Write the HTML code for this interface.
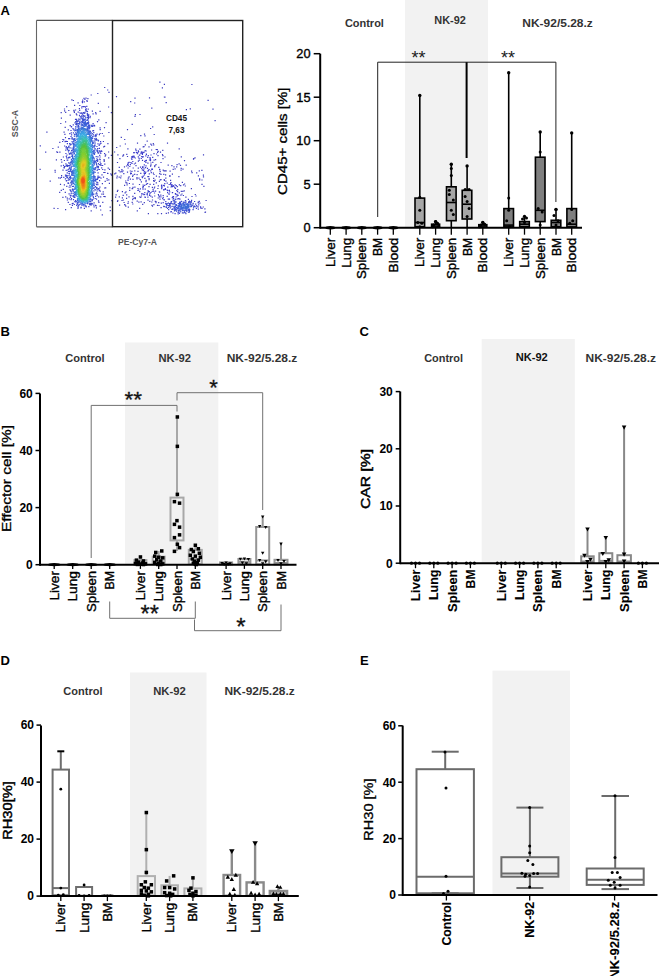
<!DOCTYPE html>
<html><head><meta charset="utf-8"><title>Figure</title>
<style>html,body{margin:0;padding:0;background:#fff;width:659px;height:976px;overflow:hidden}svg{display:block}</style>
</head><body>
<svg width="659" height="976" viewBox="0 0 659 976" font-family='"Liberation Sans", Arial, sans-serif'>
<rect width="659" height="976" fill="#fff"/>
<text x="0.5" y="14.8" font-size="13" font-weight="bold" text-anchor="start" fill="#000">A</text>
<text x="0.5" y="336" font-size="13" font-weight="bold" text-anchor="start" fill="#000">B</text>
<text x="359.5" y="336.2" font-size="13" font-weight="bold" text-anchor="start" fill="#000">C</text>
<text x="0.5" y="664.5" font-size="13" font-weight="bold" text-anchor="start" fill="#000">D</text>
<text x="360" y="665" font-size="13" font-weight="bold" text-anchor="start" fill="#000">E</text>
<path d="M147.8 213.0h1.2v1.2h-1.2zM151.2 107.5h1.2v1.2h-1.2zM97.7 102.7h1.2v1.2h-1.2zM166.9 142.5h1.2v1.2h-1.2zM97.2 92.9h1.2v1.2h-1.2zM49.6 180.5h1.2v1.2h-1.2zM178.6 148.2h1.2v1.2h-1.2zM39.5 168.8h1.2v1.2h-1.2zM46.3 131.5h1.2v1.2h-1.2zM212.4 108.6h1.2v1.2h-1.2zM148.9 97.2h1.2v1.2h-1.2zM207.5 99.8h1.2v1.2h-1.2zM214.5 120.1h1.2v1.2h-1.2zM115.9 96.1h1.2v1.2h-1.2zM202.9 154.2h1.2v1.2h-1.2zM191.3 83.9h1.2v1.2h-1.2zM45.1 151.6h1.2v1.2h-1.2zM39.7 145.3h1.2v1.2h-1.2zM126.9 129.0h1.2v1.2h-1.2zM131.6 123.7h1.2v1.2h-1.2zM153.6 133.9h1.2v1.2h-1.2zM205.5 199.9h1.2v1.2h-1.2zM65.0 209.0h1.2v1.2h-1.2zM110.8 112.0h1.2v1.2h-1.2zM108.0 106.4h1.2v1.2h-1.2zM178.3 176.0h1.2v1.2h-1.2zM190.8 188.0h1.2v1.2h-1.2zM108.3 131.9h1.2v1.2h-1.2zM136.9 142.6h1.2v1.2h-1.2zM105.5 122.1h1.2v1.2h-1.2zM101.7 214.3h1.2v1.2h-1.2zM180.7 156.3h1.2v1.2h-1.2zM55.8 159.2h1.2v1.2h-1.2zM134.4 97.5h1.2v1.2h-1.2zM127.3 148.3h1.2v1.2h-1.2zM165.6 102.0h1.2v1.2h-1.2zM139.4 113.9h1.2v1.2h-1.2zM52.3 147.9h1.2v1.2h-1.2zM90.6 94.4h1.2v1.2h-1.2zM120.7 136.7h1.2v1.2h-1.2zM161.8 87.2h1.2v1.2h-1.2zM159.3 81.5h1.2v1.2h-1.2zM124.8 143.4h1.2v1.2h-1.2zM136.7 210.2h1.2v1.2h-1.2zM60.8 117.5h1.2v1.2h-1.2zM104.1 86.9h1.2v1.2h-1.2zM185.8 109.1h1.2v1.2h-1.2zM189.7 108.2h1.2v1.2h-1.2zM60.2 122.9h1.2v1.2h-1.2zM53.5 207.7h1.2v1.2h-1.2zM109.7 210.1h1.2v1.2h-1.2zM57.3 207.9h1.2v1.2h-1.2zM65.0 121.2h1.2v1.2h-1.2zM111.3 200.1h1.2v1.2h-1.2zM124.1 138.9h1.2v1.2h-1.2zM116.9 161.9h1.2v1.2h-1.2zM109.6 206.6h1.2v1.2h-1.2zM130.1 101.1h1.2v1.2h-1.2zM134.1 102.4h1.2v1.2h-1.2zM99.5 110.7h1.2v1.2h-1.2zM163.8 83.7h1.2v1.2h-1.2zM167.6 164.6h1.2v1.2h-1.2zM185.6 164.6h1.2v1.2h-1.2zM183.9 160.1h1.2v1.2h-1.2zM139.1 207.7h1.2v1.2h-1.2zM59.9 183.7h1.2v1.2h-1.2zM114.0 151.4h1.2v1.2h-1.2zM146.6 140.6h1.2v1.2h-1.2zM69.6 114.6h1.2v1.2h-1.2zM66.1 106.0h1.2v1.2h-1.2zM57.7 146.6h1.2v1.2h-1.2zM90.6 210.3h1.2v1.2h-1.2zM152.1 126.2h1.2v1.2h-1.2zM150.0 127.9h1.2v1.2h-1.2zM107.3 143.0h1.2v1.2h-1.2zM160.4 161.9h1.2v1.2h-1.2zM157.2 213.0h1.2v1.2h-1.2zM116.1 146.9h1.2v1.2h-1.2zM119.6 145.4h1.2v1.2h-1.2zM64.6 126.7h1.2v1.2h-1.2zM103.9 127.1h1.2v1.2h-1.2zM203.3 185.8h1.2v1.2h-1.2zM201.3 169.8h1.2v1.2h-1.2zM74.0 104.8h1.2v1.2h-1.2zM119.0 204.5h1.2v1.2h-1.2zM100.1 209.4h1.2v1.2h-1.2zM60.6 112.0h1.2v1.2h-1.2zM160.9 213.0h1.2v1.2h-1.2zM162.2 149.8h1.2v1.2h-1.2zM117.3 154.3h1.2v1.2h-1.2zM103.2 135.4h1.2v1.2h-1.2zM140.2 135.0h1.2v1.2h-1.2zM102.2 201.7h1.2v1.2h-1.2zM108.0 151.4h1.2v1.2h-1.2zM119.3 158.1h1.2v1.2h-1.2zM108.4 91.7h1.2v1.2h-1.2zM98.2 119.3h1.2v1.2h-1.2zM54.5 169.7h1.2v1.2h-1.2zM54.6 171.5h1.2v1.2h-1.2zM110.8 154.8h1.2v1.2h-1.2zM191.0 170.6h1.2v1.2h-1.2zM108.1 157.2h1.2v1.2h-1.2zM191.5 172.1h1.2v1.2h-1.2zM107.1 89.4h1.2v1.2h-1.2zM62.3 196.8h1.2v1.2h-1.2zM201.4 183.7h1.2v1.2h-1.2zM118.7 166.7h1.2v1.2h-1.2zM68.2 109.9h1.2v1.2h-1.2zM144.4 135.3h1.2v1.2h-1.2zM63.5 131.5h1.2v1.2h-1.2zM96.9 121.0h1.2v1.2h-1.2zM59.1 191.7h1.2v1.2h-1.2zM194.7 193.9h1.2v1.2h-1.2zM108.8 182.8h1.2v1.2h-1.2zM195.4 195.4h1.2v1.2h-1.2zM198.7 170.3h1.2v1.2h-1.2zM191.4 195.9h1.2v1.2h-1.2zM64.7 191.7h1.2v1.2h-1.2zM134.4 115.7h1.2v1.2h-1.2zM163.8 96.4h1.2v1.2h-1.2zM143.9 133.5h1.2v1.2h-1.2zM71.3 99.3h1.2v1.2h-1.2zM134.8 114.1h1.2v1.2h-1.2zM164.3 96.5h1.2v1.2h-1.2zM202.8 174.5h1.2v1.2h-1.2zM196.1 172.3h1.2v1.2h-1.2zM151.0 149.4h1.2v1.2h-1.2zM117.2 189.7h1.2v1.2h-1.2zM72.8 99.9h1.2v1.2h-1.2zM99.5 127.3h1.2v1.2h-1.2zM181.8 181.8h1.2v1.2h-1.2zM115.0 196.6h1.2v1.2h-1.2zM105.1 187.2h1.2v1.2h-1.2zM116.8 190.7h1.2v1.2h-1.2zM197.8 175.2h1.2v1.2h-1.2zM59.2 141.8h1.2v1.2h-1.2zM64.3 133.8h1.2v1.2h-1.2zM148.4 146.2h1.2v1.2h-1.2zM132.2 203.4h1.2v1.2h-1.2zM169.5 170.5h1.2v1.2h-1.2zM115.5 194.3h1.2v1.2h-1.2zM134.1 192.8h1.2v1.2h-1.2zM59.3 151.6h1.2v1.2h-1.2zM121.8 191.0h1.2v1.2h-1.2zM165.7 212.8h1.2v1.2h-1.2zM63.9 108.4h1.2v1.2h-1.2zM95.5 113.2h1.2v1.2h-1.2zM142.1 203.8h1.2v1.2h-1.2zM91.8 110.6h1.2v1.2h-1.2zM171.8 173.5h1.2v1.2h-1.2zM77.5 102.3h1.2v1.2h-1.2zM95.1 112.0h1.2v1.2h-1.2zM162.4 158.1h1.2v1.2h-1.2zM65.1 111.8h1.2v1.2h-1.2zM132.4 183.6h1.2v1.2h-1.2zM104.1 187.4h1.2v1.2h-1.2zM127.7 206.6h1.2v1.2h-1.2zM124.0 184.8h1.2v1.2h-1.2zM62.7 188.8h1.2v1.2h-1.2zM164.4 156.4h1.2v1.2h-1.2zM126.2 153.7h1.2v1.2h-1.2zM144.7 144.3h1.2v1.2h-1.2zM60.7 189.7h1.2v1.2h-1.2zM202.9 176.3h1.2v1.2h-1.2zM182.4 168.5h1.2v1.2h-1.2zM104.0 145.7h1.2v1.2h-1.2zM56.2 151.3h1.2v1.2h-1.2zM63.8 184.2h1.2v1.2h-1.2zM101.8 183.1h1.2v1.2h-1.2zM194.4 157.2h1.2v1.2h-1.2zM143.7 202.0h1.2v1.2h-1.2zM171.3 165.0h1.2v1.2h-1.2zM180.5 169.6h1.2v1.2h-1.2zM60.7 159.0h1.2v1.2h-1.2zM128.4 196.3h1.2v1.2h-1.2zM192.9 158.6h1.2v1.2h-1.2zM126.9 155.9h1.2v1.2h-1.2zM116.9 200.9h1.2v1.2h-1.2zM108.9 168.7h1.2v1.2h-1.2zM107.6 167.6h1.2v1.2h-1.2zM118.7 196.2h1.2v1.2h-1.2zM103.1 146.2h1.2v1.2h-1.2zM104.5 196.1h1.2v1.2h-1.2zM67.7 129.2h1.2v1.2h-1.2zM104.6 180.8h1.2v1.2h-1.2zM204.9 211.4h1.2v1.2h-1.2zM204.5 211.7h1.2v1.2h-1.2zM64.0 110.2h1.2v1.2h-1.2zM138.9 183.9h1.2v1.2h-1.2zM101.7 132.9h1.2v1.2h-1.2zM57.0 151.7h1.2v1.2h-1.2zM184.0 183.4h1.2v1.2h-1.2zM70.7 207.0h1.2v1.2h-1.2zM99.6 129.1h1.2v1.2h-1.2zM201.4 179.4h1.2v1.2h-1.2zM184.7 185.4h1.2v1.2h-1.2zM102.8 140.9h1.2v1.2h-1.2zM120.1 177.2h1.2v1.2h-1.2zM117.2 200.1h1.2v1.2h-1.2zM193.1 158.1h1.2v1.2h-1.2zM199.0 178.3h1.2v1.2h-1.2zM125.4 191.3h1.2v1.2h-1.2zM62.8 156.4h1.2v1.2h-1.2zM151.9 205.5h1.2v1.2h-1.2zM170.0 179.7h1.2v1.2h-1.2zM108.2 179.3h1.2v1.2h-1.2zM138.3 201.5h1.2v1.2h-1.2zM158.2 166.7h1.2v1.2h-1.2zM185.3 196.6h1.2v1.2h-1.2zM116.3 177.3h1.2v1.2h-1.2zM126.0 197.8h1.2v1.2h-1.2zM152.7 142.9h1.2v1.2h-1.2zM104.2 163.6h1.2v1.2h-1.2zM153.1 144.3h1.2v1.2h-1.2zM58.1 177.2h1.2v1.2h-1.2zM204.3 208.2h1.2v1.2h-1.2zM140.5 201.3h1.2v1.2h-1.2zM178.5 163.3h1.2v1.2h-1.2zM155.8 175.6h1.2v1.2h-1.2zM161.9 154.1h1.2v1.2h-1.2zM99.6 205.7h1.2v1.2h-1.2zM99.7 205.2h1.2v1.2h-1.2zM199.1 179.2h1.2v1.2h-1.2zM126.1 194.3h1.2v1.2h-1.2zM126.9 171.5h1.2v1.2h-1.2zM160.5 207.1h1.2v1.2h-1.2zM92.5 113.3h1.2v1.2h-1.2zM106.4 177.9h1.2v1.2h-1.2zM122.6 194.8h1.2v1.2h-1.2zM132.4 178.7h1.2v1.2h-1.2zM169.3 175.7h1.2v1.2h-1.2zM169.3 175.0h1.2v1.2h-1.2zM98.3 201.7h1.2v1.2h-1.2zM158.7 176.3h1.2v1.2h-1.2zM162.3 155.1h1.2v1.2h-1.2zM183.6 190.2h1.2v1.2h-1.2zM157.4 155.0h1.2v1.2h-1.2zM180.6 167.8h1.2v1.2h-1.2zM167.8 212.2h1.2v1.2h-1.2zM179.9 164.7h1.2v1.2h-1.2zM129.1 189.7h1.2v1.2h-1.2zM135.4 165.1h1.2v1.2h-1.2zM153.4 153.0h1.2v1.2h-1.2zM115.2 172.6h1.2v1.2h-1.2zM60.6 165.2h1.2v1.2h-1.2zM127.7 201.3h1.2v1.2h-1.2zM142.6 146.3h1.2v1.2h-1.2zM172.6 168.7h1.2v1.2h-1.2zM123.9 166.2h1.2v1.2h-1.2zM174.5 168.3h1.2v1.2h-1.2zM61.2 161.5h1.2v1.2h-1.2zM155.0 159.1h1.2v1.2h-1.2zM105.1 154.2h1.2v1.2h-1.2zM150.2 143.6h1.2v1.2h-1.2zM155.6 148.9h1.2v1.2h-1.2zM132.6 167.4h1.2v1.2h-1.2zM131.6 201.8h1.2v1.2h-1.2zM147.4 199.5h1.2v1.2h-1.2zM124.5 192.3h1.2v1.2h-1.2zM143.4 146.1h1.2v1.2h-1.2zM180.1 185.1h1.2v1.2h-1.2zM176.5 164.0h1.2v1.2h-1.2zM165.2 177.5h1.2v1.2h-1.2zM136.6 200.5h1.2v1.2h-1.2zM137.4 170.8h1.2v1.2h-1.2zM120.5 175.4h1.2v1.2h-1.2zM127.4 202.9h1.2v1.2h-1.2zM153.4 173.9h1.2v1.2h-1.2zM106.6 179.6h1.2v1.2h-1.2zM114.1 173.3h1.2v1.2h-1.2zM178.8 184.3h1.2v1.2h-1.2zM155.4 164.1h1.2v1.2h-1.2zM156.9 204.7h1.2v1.2h-1.2zM122.2 155.5h1.2v1.2h-1.2zM165.0 174.3h1.2v1.2h-1.2zM151.4 204.8h1.2v1.2h-1.2zM134.3 186.5h1.2v1.2h-1.2zM97.9 200.3h1.2v1.2h-1.2zM122.8 154.5h1.2v1.2h-1.2zM123.0 154.3h1.2v1.2h-1.2zM136.5 174.0h1.2v1.2h-1.2zM95.8 207.3h1.2v1.2h-1.2zM124.0 204.1h1.2v1.2h-1.2zM182.9 184.3h1.2v1.2h-1.2zM129.2 187.3h1.2v1.2h-1.2zM151.1 144.6h1.2v1.2h-1.2zM67.7 201.7h1.2v1.2h-1.2zM137.7 167.6h1.2v1.2h-1.2zM176.1 166.2h1.2v1.2h-1.2zM153.1 177.8h1.2v1.2h-1.2zM154.1 195.4h1.2v1.2h-1.2zM103.3 195.9h1.2v1.2h-1.2zM59.7 177.5h1.2v1.2h-1.2zM132.3 195.8h1.2v1.2h-1.2zM121.8 197.3h1.2v1.2h-1.2zM158.4 204.9h1.2v1.2h-1.2zM100.1 196.3h1.2v1.2h-1.2zM137.8 160.5h1.2v1.2h-1.2zM104.6 155.6h1.2v1.2h-1.2zM125.2 205.5h1.2v1.2h-1.2zM173.4 166.2h1.2v1.2h-1.2zM111.4 174.3h1.2v1.2h-1.2zM102.6 191.2h1.2v1.2h-1.2zM134.2 170.2h1.2v1.2h-1.2zM149.5 183.7h1.2v1.2h-1.2zM149.2 200.8h1.2v1.2h-1.2zM156.0 153.4h1.2v1.2h-1.2zM65.1 196.2h1.2v1.2h-1.2zM123.5 201.9h1.2v1.2h-1.2zM159.9 151.6h1.2v1.2h-1.2zM87.3 98.0h1.2v1.2h-1.2zM110.9 174.5h1.2v1.2h-1.2zM123.2 173.0h1.2v1.2h-1.2zM116.6 175.5h1.2v1.2h-1.2zM198.7 200.7h1.2v1.2h-1.2zM158.8 180.8h1.2v1.2h-1.2zM182.2 190.8h1.2v1.2h-1.2zM126.5 184.3h1.2v1.2h-1.2zM110.2 173.3h1.2v1.2h-1.2zM99.5 132.9h1.2v1.2h-1.2zM182.8 194.9h1.2v1.2h-1.2zM69.6 125.1h1.2v1.2h-1.2zM148.4 186.0h1.2v1.2h-1.2zM118.6 176.6h1.2v1.2h-1.2zM107.3 172.9h1.2v1.2h-1.2zM165.5 170.3h1.2v1.2h-1.2zM102.9 176.6h1.2v1.2h-1.2zM104.0 153.1h1.2v1.2h-1.2zM118.4 170.0h1.2v1.2h-1.2zM150.4 154.4h1.2v1.2h-1.2zM155.7 182.3h1.2v1.2h-1.2zM121.4 199.9h1.2v1.2h-1.2zM140.8 181.2h1.2v1.2h-1.2zM166.6 195.7h1.2v1.2h-1.2zM79.2 104.9h1.2v1.2h-1.2zM159.0 168.8h1.2v1.2h-1.2zM63.8 159.9h1.2v1.2h-1.2zM122.8 199.4h1.2v1.2h-1.2zM62.0 140.9h1.2v1.2h-1.2zM124.6 204.4h1.2v1.2h-1.2zM107.0 172.7h1.2v1.2h-1.2zM153.1 183.7h1.2v1.2h-1.2zM152.1 156.7h1.2v1.2h-1.2zM153.5 159.6h1.2v1.2h-1.2zM159.7 179.2h1.2v1.2h-1.2zM134.9 162.6h1.2v1.2h-1.2zM78.8 108.1h1.2v1.2h-1.2zM139.3 196.2h1.2v1.2h-1.2zM136.4 178.2h1.2v1.2h-1.2zM64.0 145.4h1.2v1.2h-1.2zM101.4 174.2h1.2v1.2h-1.2zM157.7 185.3h1.2v1.2h-1.2zM160.4 173.8h1.2v1.2h-1.2zM132.4 186.8h1.2v1.2h-1.2zM163.2 173.8h1.2v1.2h-1.2zM62.4 169.5h1.2v1.2h-1.2zM160.4 179.0h1.2v1.2h-1.2zM73.3 109.7h1.2v1.2h-1.2zM103.2 171.9h1.2v1.2h-1.2zM156.7 149.1h1.2v1.2h-1.2zM157.3 187.9h1.2v1.2h-1.2zM66.8 199.4h1.2v1.2h-1.2zM135.1 148.5h1.2v1.2h-1.2zM103.5 159.0h1.2v1.2h-1.2zM202.7 206.4h1.2v1.2h-1.2zM153.0 180.1h1.2v1.2h-1.2zM64.9 137.1h1.2v1.2h-1.2zM154.3 165.0h1.2v1.2h-1.2zM132.0 188.1h1.2v1.2h-1.2zM102.9 193.6h1.2v1.2h-1.2zM104.3 169.2h1.2v1.2h-1.2zM136.4 177.1h1.2v1.2h-1.2zM60.9 176.7h1.2v1.2h-1.2zM128.8 182.9h1.2v1.2h-1.2zM139.3 148.6h1.2v1.2h-1.2zM69.3 203.9h1.2v1.2h-1.2zM151.9 199.4h1.2v1.2h-1.2zM152.8 172.6h1.2v1.2h-1.2zM121.3 168.9h1.2v1.2h-1.2zM152.2 161.7h1.2v1.2h-1.2zM127.5 167.4h1.2v1.2h-1.2zM154.5 179.6h1.2v1.2h-1.2zM158.8 191.3h1.2v1.2h-1.2zM62.3 138.9h1.2v1.2h-1.2zM73.8 111.8h1.2v1.2h-1.2zM159.1 173.0h1.2v1.2h-1.2zM131.6 188.1h1.2v1.2h-1.2zM103.6 160.8h1.2v1.2h-1.2zM154.1 166.1h1.2v1.2h-1.2zM103.6 159.9h1.2v1.2h-1.2zM75.0 109.4h1.2v1.2h-1.2zM153.3 204.0h1.2v1.2h-1.2zM148.5 179.1h1.2v1.2h-1.2zM159.1 191.5h1.2v1.2h-1.2zM159.3 169.3h1.2v1.2h-1.2zM180.7 190.7h1.2v1.2h-1.2zM83.4 97.8h1.2v1.2h-1.2zM151.7 196.6h1.2v1.2h-1.2zM104.4 171.9h1.2v1.2h-1.2zM162.6 194.9h1.2v1.2h-1.2zM151.2 201.4h1.2v1.2h-1.2zM102.1 168.9h1.2v1.2h-1.2zM128.5 176.3h1.2v1.2h-1.2zM141.9 159.7h1.2v1.2h-1.2zM133.7 163.4h1.2v1.2h-1.2zM134.1 173.8h1.2v1.2h-1.2zM98.1 196.2h1.2v1.2h-1.2zM75.7 113.3h1.2v1.2h-1.2zM158.1 202.0h1.2v1.2h-1.2zM86.2 105.8h1.2v1.2h-1.2zM61.0 175.1h1.2v1.2h-1.2zM85.4 97.5h1.2v1.2h-1.2zM101.3 193.6h1.2v1.2h-1.2zM153.6 180.7h1.2v1.2h-1.2zM138.7 159.5h1.2v1.2h-1.2zM73.5 110.5h1.2v1.2h-1.2zM164.4 170.2h1.2v1.2h-1.2zM162.6 169.5h1.2v1.2h-1.2zM129.7 170.4h1.2v1.2h-1.2zM165.3 180.5h1.2v1.2h-1.2zM66.2 185.7h1.2v1.2h-1.2zM163.8 179.8h1.2v1.2h-1.2zM163.6 179.1h1.2v1.2h-1.2zM148.7 173.3h1.2v1.2h-1.2zM148.1 176.1h1.2v1.2h-1.2zM159.6 171.0h1.2v1.2h-1.2zM86.3 100.1h1.2v1.2h-1.2zM86.6 100.7h1.2v1.2h-1.2zM132.1 199.1h1.2v1.2h-1.2zM157.6 150.8h1.2v1.2h-1.2zM127.7 177.5h1.2v1.2h-1.2zM125.1 180.4h1.2v1.2h-1.2zM119.6 171.3h1.2v1.2h-1.2zM140.2 172.7h1.2v1.2h-1.2zM148.5 177.9h1.2v1.2h-1.2zM170.4 181.9h1.2v1.2h-1.2zM125.9 165.4h1.2v1.2h-1.2zM181.4 193.4h1.2v1.2h-1.2zM199.3 202.5h1.2v1.2h-1.2zM140.2 196.9h1.2v1.2h-1.2zM129.8 178.6h1.2v1.2h-1.2zM160.7 202.6h1.2v1.2h-1.2zM139.9 166.5h1.2v1.2h-1.2zM157.0 151.8h1.2v1.2h-1.2zM145.5 150.4h1.2v1.2h-1.2zM157.8 193.9h1.2v1.2h-1.2zM132.0 175.7h1.2v1.2h-1.2zM66.7 197.6h1.2v1.2h-1.2zM125.4 182.1h1.2v1.2h-1.2zM145.5 179.8h1.2v1.2h-1.2zM151.8 186.7h1.2v1.2h-1.2zM137.4 188.1h1.2v1.2h-1.2zM150.4 164.2h1.2v1.2h-1.2zM131.3 170.8h1.2v1.2h-1.2zM150.4 162.4h1.2v1.2h-1.2zM147.3 176.1h1.2v1.2h-1.2zM137.3 189.9h1.2v1.2h-1.2zM144.3 177.8h1.2v1.2h-1.2zM154.7 200.8h1.2v1.2h-1.2zM163.4 170.2h1.2v1.2h-1.2zM155.4 201.0h1.2v1.2h-1.2zM154.1 186.4h1.2v1.2h-1.2zM180.3 194.5h1.2v1.2h-1.2zM132.6 197.8h1.2v1.2h-1.2zM133.5 152.0h1.2v1.2h-1.2zM139.9 179.4h1.2v1.2h-1.2zM155.4 202.0h1.2v1.2h-1.2zM201.4 207.7h1.2v1.2h-1.2zM139.1 191.0h1.2v1.2h-1.2zM166.6 182.5h1.2v1.2h-1.2zM95.5 205.3h1.2v1.2h-1.2zM172.0 191.9h1.2v1.2h-1.2zM122.4 170.2h1.2v1.2h-1.2zM177.2 189.1h1.2v1.2h-1.2zM71.8 204.8h1.2v1.2h-1.2zM126.4 182.6h1.2v1.2h-1.2zM157.6 197.4h1.2v1.2h-1.2zM138.4 177.6h1.2v1.2h-1.2zM134.6 197.1h1.2v1.2h-1.2zM134.1 197.6h1.2v1.2h-1.2zM167.7 198.5h1.2v1.2h-1.2zM147.3 162.6h1.2v1.2h-1.2zM140.9 195.4h1.2v1.2h-1.2zM98.8 134.1h1.2v1.2h-1.2zM197.7 201.6h1.2v1.2h-1.2zM76.2 114.2h1.2v1.2h-1.2zM150.0 165.5h1.2v1.2h-1.2zM132.5 174.5h1.2v1.2h-1.2zM134.8 198.0h1.2v1.2h-1.2z" fill="rgb(60,60,192)"/>
<path d="M69.2 133.1h1.2v1.2h-1.2zM121.5 171.2h1.2v1.2h-1.2zM79.1 109.8h1.2v1.2h-1.2zM153.9 192.4h1.2v1.2h-1.2zM130.9 157.6h1.2v1.2h-1.2zM138.1 189.5h1.2v1.2h-1.2zM100.0 141.1h1.2v1.2h-1.2zM132.2 160.9h1.2v1.2h-1.2zM174.5 213.0h1.2v1.2h-1.2zM100.3 142.7h1.2v1.2h-1.2zM135.5 149.8h1.2v1.2h-1.2zM144.6 188.5h1.2v1.2h-1.2zM162.6 196.8h1.2v1.2h-1.2zM93.5 206.2h1.2v1.2h-1.2zM81.5 105.9h1.2v1.2h-1.2zM70.7 126.0h1.2v1.2h-1.2zM121.1 170.6h1.2v1.2h-1.2zM133.3 152.1h1.2v1.2h-1.2zM139.5 178.9h1.2v1.2h-1.2zM70.4 129.9h1.2v1.2h-1.2zM143.7 164.3h1.2v1.2h-1.2zM144.1 160.7h1.2v1.2h-1.2zM77.6 111.6h1.2v1.2h-1.2zM141.9 177.1h1.2v1.2h-1.2zM171.8 192.1h1.2v1.2h-1.2zM145.4 181.0h1.2v1.2h-1.2zM128.5 161.7h1.2v1.2h-1.2zM159.4 198.6h1.2v1.2h-1.2zM127.3 179.5h1.2v1.2h-1.2zM127.6 179.6h1.2v1.2h-1.2zM62.9 164.7h1.2v1.2h-1.2zM194.0 200.9h1.2v1.2h-1.2zM200.3 207.6h1.2v1.2h-1.2zM101.1 167.2h1.2v1.2h-1.2zM167.0 192.0h1.2v1.2h-1.2zM81.9 100.9h1.2v1.2h-1.2zM84.3 98.8h1.2v1.2h-1.2zM160.2 194.6h1.2v1.2h-1.2zM168.6 193.5h1.2v1.2h-1.2zM168.3 193.2h1.2v1.2h-1.2zM141.5 176.2h1.2v1.2h-1.2zM139.8 188.2h1.2v1.2h-1.2zM130.1 173.2h1.2v1.2h-1.2zM77.7 207.3h1.2v1.2h-1.2zM77.2 207.5h1.2v1.2h-1.2zM197.7 208.6h1.2v1.2h-1.2zM63.1 139.3h1.2v1.2h-1.2zM176.7 186.1h1.2v1.2h-1.2zM145.3 161.7h1.2v1.2h-1.2zM155.0 190.6h1.2v1.2h-1.2zM168.9 198.5h1.2v1.2h-1.2zM81.2 107.2h1.2v1.2h-1.2zM130.8 172.8h1.2v1.2h-1.2zM130.0 172.5h1.2v1.2h-1.2zM68.1 138.0h1.2v1.2h-1.2zM81.7 101.2h1.2v1.2h-1.2zM81.9 102.0h1.2v1.2h-1.2zM144.6 150.0h1.2v1.2h-1.2zM162.1 198.1h1.2v1.2h-1.2zM131.4 162.7h1.2v1.2h-1.2zM82.1 99.6h1.2v1.2h-1.2zM150.2 195.5h1.2v1.2h-1.2zM147.0 182.9h1.2v1.2h-1.2zM146.5 183.1h1.2v1.2h-1.2zM169.1 191.2h1.2v1.2h-1.2zM129.2 165.9h1.2v1.2h-1.2zM200.0 206.2h1.2v1.2h-1.2zM167.2 186.5h1.2v1.2h-1.2zM71.7 203.0h1.2v1.2h-1.2zM163.4 199.0h1.2v1.2h-1.2zM163.7 199.4h1.2v1.2h-1.2zM74.9 118.8h1.2v1.2h-1.2zM101.2 150.8h1.2v1.2h-1.2zM83.7 101.2h1.2v1.2h-1.2zM142.7 175.5h1.2v1.2h-1.2zM130.3 162.0h1.2v1.2h-1.2zM153.8 187.3h1.2v1.2h-1.2zM82.9 106.0h1.2v1.2h-1.2zM168.8 189.8h1.2v1.2h-1.2zM64.5 141.0h1.2v1.2h-1.2zM176.2 190.0h1.2v1.2h-1.2zM158.2 195.0h1.2v1.2h-1.2zM84.2 105.9h1.2v1.2h-1.2zM127.6 162.2h1.2v1.2h-1.2zM131.3 158.9h1.2v1.2h-1.2zM150.7 172.0h1.2v1.2h-1.2zM145.2 160.1h1.2v1.2h-1.2zM158.8 196.3h1.2v1.2h-1.2zM138.5 157.7h1.2v1.2h-1.2zM141.0 193.3h1.2v1.2h-1.2zM144.7 196.7h1.2v1.2h-1.2zM144.3 196.4h1.2v1.2h-1.2zM99.3 186.5h1.2v1.2h-1.2zM145.4 165.3h1.2v1.2h-1.2zM100.4 177.5h1.2v1.2h-1.2zM99.5 156.4h1.2v1.2h-1.2zM147.7 155.1h1.2v1.2h-1.2zM95.9 198.5h1.2v1.2h-1.2zM134.7 157.4h1.2v1.2h-1.2zM145.8 159.8h1.2v1.2h-1.2zM142.4 188.6h1.2v1.2h-1.2zM65.3 152.9h1.2v1.2h-1.2zM168.6 183.9h1.2v1.2h-1.2zM131.3 156.0h1.2v1.2h-1.2zM99.3 143.5h1.2v1.2h-1.2zM178.7 192.3h1.2v1.2h-1.2zM97.5 172.3h1.2v1.2h-1.2zM68.6 198.2h1.2v1.2h-1.2zM137.7 156.2h1.2v1.2h-1.2zM70.7 132.3h1.2v1.2h-1.2zM167.2 190.0h1.2v1.2h-1.2zM147.3 196.5h1.2v1.2h-1.2zM66.8 140.9h1.2v1.2h-1.2zM143.9 174.3h1.2v1.2h-1.2zM145.7 183.9h1.2v1.2h-1.2zM197.7 202.3h1.2v1.2h-1.2zM192.5 209.0h1.2v1.2h-1.2zM164.2 183.1h1.2v1.2h-1.2zM87.6 108.5h1.2v1.2h-1.2zM160.3 196.3h1.2v1.2h-1.2zM68.5 193.2h1.2v1.2h-1.2zM145.2 155.2h1.2v1.2h-1.2zM175.7 185.1h1.2v1.2h-1.2zM140.7 157.7h1.2v1.2h-1.2zM65.3 140.7h1.2v1.2h-1.2zM65.6 140.7h1.2v1.2h-1.2zM99.1 154.8h1.2v1.2h-1.2zM177.0 191.0h1.2v1.2h-1.2zM166.6 189.5h1.2v1.2h-1.2zM174.5 184.2h1.2v1.2h-1.2zM94.9 204.8h1.2v1.2h-1.2zM172.3 212.4h1.2v1.2h-1.2zM142.5 184.4h1.2v1.2h-1.2zM145.8 153.9h1.2v1.2h-1.2zM145.8 153.6h1.2v1.2h-1.2zM162.6 202.1h1.2v1.2h-1.2zM65.7 155.8h1.2v1.2h-1.2zM99.7 190.6h1.2v1.2h-1.2zM129.8 164.0h1.2v1.2h-1.2zM147.1 156.8h1.2v1.2h-1.2zM170.3 211.3h1.2v1.2h-1.2zM153.2 190.8h1.2v1.2h-1.2zM144.1 184.8h1.2v1.2h-1.2zM174.2 187.1h1.2v1.2h-1.2zM174.9 187.8h1.2v1.2h-1.2zM152.5 188.7h1.2v1.2h-1.2zM163.0 189.2h1.2v1.2h-1.2zM142.3 187.1h1.2v1.2h-1.2zM80.4 207.4h1.2v1.2h-1.2zM71.0 126.3h1.2v1.2h-1.2zM127.4 163.5h1.2v1.2h-1.2zM147.4 170.6h1.2v1.2h-1.2zM149.9 160.0h1.2v1.2h-1.2zM170.0 183.1h1.2v1.2h-1.2zM135.8 151.7h1.2v1.2h-1.2zM63.2 176.7h1.2v1.2h-1.2zM70.5 199.0h1.2v1.2h-1.2zM98.6 144.7h1.2v1.2h-1.2zM141.9 166.2h1.2v1.2h-1.2zM83.8 207.8h1.2v1.2h-1.2zM127.6 165.0h1.2v1.2h-1.2zM127.0 164.0h1.2v1.2h-1.2zM88.2 206.1h1.2v1.2h-1.2zM142.1 156.5h1.2v1.2h-1.2zM146.9 167.8h1.2v1.2h-1.2zM150.2 170.2h1.2v1.2h-1.2zM72.7 124.2h1.2v1.2h-1.2zM177.5 194.8h1.2v1.2h-1.2zM142.3 193.2h1.2v1.2h-1.2zM84.8 106.6h1.2v1.2h-1.2zM149.6 157.7h1.2v1.2h-1.2zM149.4 157.0h1.2v1.2h-1.2zM132.2 155.7h1.2v1.2h-1.2zM148.9 159.4h1.2v1.2h-1.2zM177.6 213.2h1.2v1.2h-1.2zM163.4 189.2h1.2v1.2h-1.2zM66.8 143.0h1.2v1.2h-1.2zM142.6 186.0h1.2v1.2h-1.2zM142.8 185.7h1.2v1.2h-1.2zM138.0 151.0h1.2v1.2h-1.2zM137.7 150.2h1.2v1.2h-1.2zM174.9 193.6h1.2v1.2h-1.2zM174.8 193.1h1.2v1.2h-1.2zM187.8 198.7h1.2v1.2h-1.2zM141.7 169.2h1.2v1.2h-1.2zM142.3 186.4h1.2v1.2h-1.2zM72.5 202.7h1.2v1.2h-1.2zM136.7 153.0h1.2v1.2h-1.2zM147.8 169.7h1.2v1.2h-1.2zM171.7 197.0h1.2v1.2h-1.2zM149.9 158.9h1.2v1.2h-1.2zM148.5 169.0h1.2v1.2h-1.2zM133.3 155.5h1.2v1.2h-1.2zM151.8 168.9h1.2v1.2h-1.2zM151.3 168.8h1.2v1.2h-1.2zM151.8 168.4h1.2v1.2h-1.2zM151.1 168.5h1.2v1.2h-1.2zM179.3 198.5h1.2v1.2h-1.2zM145.2 171.5h1.2v1.2h-1.2zM198.1 204.2h1.2v1.2h-1.2zM160.9 185.3h1.2v1.2h-1.2zM133.7 156.6h1.2v1.2h-1.2zM65.9 180.4h1.2v1.2h-1.2zM65.7 180.1h1.2v1.2h-1.2zM152.5 189.4h1.2v1.2h-1.2zM64.8 178.3h1.2v1.2h-1.2zM144.8 172.7h1.2v1.2h-1.2zM63.4 167.0h1.2v1.2h-1.2zM63.7 167.3h1.2v1.2h-1.2zM68.6 186.5h1.2v1.2h-1.2zM132.2 157.0h1.2v1.2h-1.2zM73.7 203.9h1.2v1.2h-1.2zM168.1 209.0h1.2v1.2h-1.2zM93.0 130.1h1.2v1.2h-1.2zM176.3 193.8h1.2v1.2h-1.2zM71.0 134.3h1.2v1.2h-1.2zM170.5 186.4h1.2v1.2h-1.2zM100.2 152.8h1.2v1.2h-1.2zM161.1 184.4h1.2v1.2h-1.2zM143.6 172.3h1.2v1.2h-1.2zM143.6 172.8h1.2v1.2h-1.2zM145.0 167.1h1.2v1.2h-1.2zM141.1 167.9h1.2v1.2h-1.2zM98.8 147.8h1.2v1.2h-1.2zM66.6 159.5h1.2v1.2h-1.2zM142.0 166.9h1.2v1.2h-1.2zM96.6 195.1h1.2v1.2h-1.2zM151.6 190.9h1.2v1.2h-1.2zM100.7 150.2h1.2v1.2h-1.2zM102.0 164.9h1.2v1.2h-1.2zM93.9 124.8h1.2v1.2h-1.2zM143.2 166.4h1.2v1.2h-1.2zM143.5 151.6h1.2v1.2h-1.2zM143.4 194.1h1.2v1.2h-1.2zM144.0 193.9h1.2v1.2h-1.2zM163.3 184.8h1.2v1.2h-1.2zM176.6 195.2h1.2v1.2h-1.2zM63.8 166.1h1.2v1.2h-1.2zM96.4 133.6h1.2v1.2h-1.2zM94.0 125.3h1.2v1.2h-1.2zM171.9 186.0h1.2v1.2h-1.2zM164.9 188.8h1.2v1.2h-1.2zM70.9 198.1h1.2v1.2h-1.2zM93.2 204.6h1.2v1.2h-1.2zM142.5 156.0h1.2v1.2h-1.2zM138.8 154.5h1.2v1.2h-1.2zM137.2 152.1h1.2v1.2h-1.2zM99.1 158.5h1.2v1.2h-1.2zM162.8 184.9h1.2v1.2h-1.2zM178.3 198.1h1.2v1.2h-1.2zM78.9 114.8h1.2v1.2h-1.2zM144.2 192.1h1.2v1.2h-1.2zM70.4 135.9h1.2v1.2h-1.2zM142.8 169.8h1.2v1.2h-1.2zM79.4 112.3h1.2v1.2h-1.2zM97.3 156.3h1.2v1.2h-1.2zM99.1 176.6h1.2v1.2h-1.2zM170.3 184.1h1.2v1.2h-1.2zM98.7 190.1h1.2v1.2h-1.2zM172.7 184.9h1.2v1.2h-1.2zM173.3 185.9h1.2v1.2h-1.2zM99.0 180.1h1.2v1.2h-1.2zM143.7 170.7h1.2v1.2h-1.2zM69.1 138.1h1.2v1.2h-1.2zM172.2 196.3h1.2v1.2h-1.2zM172.9 196.1h1.2v1.2h-1.2zM65.2 149.5h1.2v1.2h-1.2zM161.1 188.0h1.2v1.2h-1.2zM164.7 188.0h1.2v1.2h-1.2zM64.9 174.5h1.2v1.2h-1.2zM163.5 188.9h1.2v1.2h-1.2zM141.1 155.9h1.2v1.2h-1.2zM66.4 154.4h1.2v1.2h-1.2zM93.5 202.2h1.2v1.2h-1.2zM69.9 196.5h1.2v1.2h-1.2zM171.5 184.3h1.2v1.2h-1.2zM92.5 123.1h1.2v1.2h-1.2zM147.5 190.1h1.2v1.2h-1.2zM150.4 191.9h1.2v1.2h-1.2zM66.0 157.2h1.2v1.2h-1.2zM97.4 143.3h1.2v1.2h-1.2zM197.2 206.3h1.2v1.2h-1.2zM197.5 206.2h1.2v1.2h-1.2zM143.4 168.3h1.2v1.2h-1.2zM170.7 211.0h1.2v1.2h-1.2zM191.0 199.7h1.2v1.2h-1.2zM171.0 185.6h1.2v1.2h-1.2zM139.3 154.4h1.2v1.2h-1.2zM163.8 185.3h1.2v1.2h-1.2zM65.7 146.1h1.2v1.2h-1.2zM195.1 203.6h1.2v1.2h-1.2zM161.2 186.7h1.2v1.2h-1.2zM161.4 186.3h1.2v1.2h-1.2zM140.7 151.5h1.2v1.2h-1.2zM141.3 151.2h1.2v1.2h-1.2zM177.2 198.3h1.2v1.2h-1.2zM195.8 207.9h1.2v1.2h-1.2zM175.4 196.4h1.2v1.2h-1.2zM148.9 194.8h1.2v1.2h-1.2zM149.0 194.2h1.2v1.2h-1.2zM65.6 169.7h1.2v1.2h-1.2zM69.7 194.8h1.2v1.2h-1.2zM163.5 206.0h1.2v1.2h-1.2zM97.2 184.1h1.2v1.2h-1.2zM99.6 159.0h1.2v1.2h-1.2zM94.6 197.9h1.2v1.2h-1.2zM165.2 201.1h1.2v1.2h-1.2zM72.9 199.1h1.2v1.2h-1.2zM65.5 147.3h1.2v1.2h-1.2zM98.9 188.4h1.2v1.2h-1.2zM98.1 188.1h1.2v1.2h-1.2zM96.6 193.4h1.2v1.2h-1.2zM89.4 117.0h1.2v1.2h-1.2zM98.8 168.9h1.2v1.2h-1.2zM67.8 182.4h1.2v1.2h-1.2zM67.3 182.5h1.2v1.2h-1.2zM146.8 194.2h1.2v1.2h-1.2zM85.1 108.7h1.2v1.2h-1.2zM85.7 108.3h1.2v1.2h-1.2zM142.5 152.1h1.2v1.2h-1.2zM80.5 112.9h1.2v1.2h-1.2zM99.2 150.5h1.2v1.2h-1.2zM72.4 128.0h1.2v1.2h-1.2zM85.6 206.3h1.2v1.2h-1.2zM97.1 148.0h1.2v1.2h-1.2zM65.3 163.3h1.2v1.2h-1.2zM99.7 151.2h1.2v1.2h-1.2zM149.4 192.8h1.2v1.2h-1.2zM140.4 152.7h1.2v1.2h-1.2zM97.2 182.2h1.2v1.2h-1.2zM89.6 115.7h1.2v1.2h-1.2zM141.8 152.8h1.2v1.2h-1.2zM67.1 159.5h1.2v1.2h-1.2zM141.8 153.7h1.2v1.2h-1.2zM69.4 189.3h1.2v1.2h-1.2zM196.1 205.1h1.2v1.2h-1.2zM100.5 164.8h1.2v1.2h-1.2zM98.1 152.2h1.2v1.2h-1.2zM100.3 163.1h1.2v1.2h-1.2zM173.0 197.8h1.2v1.2h-1.2z" fill="rgb(60,60,204)"/>
<path d="M147.9 191.2h1.2v1.2h-1.2zM147.7 191.1h1.2v1.2h-1.2zM148.2 191.2h1.2v1.2h-1.2zM148.8 191.1h1.2v1.2h-1.2zM163.3 205.9h1.2v1.2h-1.2zM164.0 205.9h1.2v1.2h-1.2zM163.2 205.7h1.2v1.2h-1.2zM146.4 193.5h1.2v1.2h-1.2zM146.8 192.5h1.2v1.2h-1.2zM92.5 124.7h1.2v1.2h-1.2zM172.5 198.5h1.2v1.2h-1.2zM76.0 118.8h1.2v1.2h-1.2zM80.5 206.7h1.2v1.2h-1.2zM86.9 110.9h1.2v1.2h-1.2zM82.9 111.9h1.2v1.2h-1.2zM68.0 151.4h1.2v1.2h-1.2zM98.5 176.9h1.2v1.2h-1.2zM85.0 109.2h1.2v1.2h-1.2zM92.1 130.3h1.2v1.2h-1.2zM81.1 112.2h1.2v1.2h-1.2zM195.4 206.3h1.2v1.2h-1.2zM77.4 205.7h1.2v1.2h-1.2zM66.0 174.7h1.2v1.2h-1.2zM97.8 140.1h1.2v1.2h-1.2zM97.8 140.3h1.2v1.2h-1.2zM96.3 145.9h1.2v1.2h-1.2zM67.5 157.6h1.2v1.2h-1.2zM175.2 198.5h1.2v1.2h-1.2zM175.1 198.9h1.2v1.2h-1.2zM92.2 125.9h1.2v1.2h-1.2zM65.1 175.6h1.2v1.2h-1.2zM67.6 150.1h1.2v1.2h-1.2zM97.9 139.7h1.2v1.2h-1.2zM99.6 161.5h1.2v1.2h-1.2zM67.9 156.9h1.2v1.2h-1.2zM170.9 201.0h1.2v1.2h-1.2zM98.5 150.2h1.2v1.2h-1.2zM66.5 148.2h1.2v1.2h-1.2zM67.0 148.8h1.2v1.2h-1.2zM185.3 213.0h1.2v1.2h-1.2zM166.9 207.8h1.2v1.2h-1.2zM65.6 165.0h1.2v1.2h-1.2zM97.6 152.6h1.2v1.2h-1.2zM97.6 188.5h1.2v1.2h-1.2zM66.8 147.3h1.2v1.2h-1.2zM97.5 175.7h1.2v1.2h-1.2zM97.5 175.4h1.2v1.2h-1.2zM76.1 204.8h1.2v1.2h-1.2zM178.9 212.8h1.2v1.2h-1.2zM96.6 190.4h1.2v1.2h-1.2zM82.7 112.6h1.2v1.2h-1.2zM93.2 132.1h1.2v1.2h-1.2zM70.4 195.1h1.2v1.2h-1.2zM192.6 202.8h1.2v1.2h-1.2zM69.0 142.9h1.2v1.2h-1.2zM85.5 110.6h1.2v1.2h-1.2zM86.0 110.2h1.2v1.2h-1.2zM85.6 110.5h1.2v1.2h-1.2zM72.8 132.2h1.2v1.2h-1.2zM188.6 211.6h1.2v1.2h-1.2zM188.2 211.7h1.2v1.2h-1.2zM66.9 169.4h1.2v1.2h-1.2zM184.5 212.1h1.2v1.2h-1.2zM192.9 207.3h1.2v1.2h-1.2zM95.2 134.3h1.2v1.2h-1.2zM95.6 134.7h1.2v1.2h-1.2zM81.8 113.6h1.2v1.2h-1.2zM65.3 165.9h1.2v1.2h-1.2zM88.2 114.2h1.2v1.2h-1.2zM96.0 184.1h1.2v1.2h-1.2zM181.8 212.2h1.2v1.2h-1.2zM67.4 146.9h1.2v1.2h-1.2zM68.0 182.8h1.2v1.2h-1.2zM194.1 205.6h1.2v1.2h-1.2zM182.2 212.3h1.2v1.2h-1.2zM182.9 212.4h1.2v1.2h-1.2zM99.9 164.2h1.2v1.2h-1.2zM99.2 164.1h1.2v1.2h-1.2zM86.7 112.7h1.2v1.2h-1.2zM169.6 207.2h1.2v1.2h-1.2zM95.5 193.2h1.2v1.2h-1.2zM95.4 193.4h1.2v1.2h-1.2zM69.4 184.7h1.2v1.2h-1.2zM99.1 163.9h1.2v1.2h-1.2zM67.0 177.1h1.2v1.2h-1.2zM66.4 177.2h1.2v1.2h-1.2zM84.3 111.7h1.2v1.2h-1.2zM97.5 168.7h1.2v1.2h-1.2zM87.0 113.6h1.2v1.2h-1.2zM68.1 145.8h1.2v1.2h-1.2zM67.3 147.1h1.2v1.2h-1.2zM193.7 206.1h1.2v1.2h-1.2zM68.8 153.0h1.2v1.2h-1.2zM70.6 193.0h1.2v1.2h-1.2zM68.5 149.7h1.2v1.2h-1.2zM174.2 199.4h1.2v1.2h-1.2zM66.6 172.4h1.2v1.2h-1.2zM66.7 172.2h1.2v1.2h-1.2zM90.7 204.2h1.2v1.2h-1.2zM90.2 204.3h1.2v1.2h-1.2zM95.0 195.8h1.2v1.2h-1.2zM95.9 192.3h1.2v1.2h-1.2zM74.4 122.3h1.2v1.2h-1.2zM67.5 179.8h1.2v1.2h-1.2zM66.3 176.3h1.2v1.2h-1.2zM84.1 112.7h1.2v1.2h-1.2zM96.0 187.5h1.2v1.2h-1.2zM96.3 187.1h1.2v1.2h-1.2zM96.7 188.5h1.2v1.2h-1.2zM68.7 153.2h1.2v1.2h-1.2zM166.5 203.0h1.2v1.2h-1.2zM91.1 124.7h1.2v1.2h-1.2zM79.6 116.1h1.2v1.2h-1.2zM68.4 146.2h1.2v1.2h-1.2zM170.4 201.5h1.2v1.2h-1.2zM165.8 206.3h1.2v1.2h-1.2zM165.6 206.7h1.2v1.2h-1.2zM165.7 206.6h1.2v1.2h-1.2zM70.8 191.2h1.2v1.2h-1.2zM66.6 175.0h1.2v1.2h-1.2zM172.7 200.3h1.2v1.2h-1.2zM97.3 176.7h1.2v1.2h-1.2zM91.9 203.3h1.2v1.2h-1.2zM193.5 205.9h1.2v1.2h-1.2zM193.6 205.5h1.2v1.2h-1.2zM193.1 205.6h1.2v1.2h-1.2zM96.2 182.2h1.2v1.2h-1.2zM66.4 164.2h1.2v1.2h-1.2zM96.6 169.8h1.2v1.2h-1.2zM97.1 159.1h1.2v1.2h-1.2zM192.3 203.5h1.2v1.2h-1.2zM68.3 156.8h1.2v1.2h-1.2zM96.3 139.1h1.2v1.2h-1.2zM96.3 139.5h1.2v1.2h-1.2zM167.8 202.6h1.2v1.2h-1.2zM180.8 200.8h1.2v1.2h-1.2zM165.8 203.8h1.2v1.2h-1.2zM165.1 203.0h1.2v1.2h-1.2zM95.6 156.1h1.2v1.2h-1.2zM71.5 137.0h1.2v1.2h-1.2zM70.0 190.4h1.2v1.2h-1.2zM96.3 158.3h1.2v1.2h-1.2zM91.2 125.9h1.2v1.2h-1.2zM91.8 125.9h1.2v1.2h-1.2zM94.9 134.3h1.2v1.2h-1.2zM94.9 134.8h1.2v1.2h-1.2zM70.0 144.2h1.2v1.2h-1.2zM69.3 144.3h1.2v1.2h-1.2zM95.1 189.4h1.2v1.2h-1.2zM89.0 204.1h1.2v1.2h-1.2zM173.5 200.1h1.2v1.2h-1.2zM74.3 201.0h1.2v1.2h-1.2zM98.5 164.1h1.2v1.2h-1.2zM82.9 114.8h1.2v1.2h-1.2zM66.5 165.1h1.2v1.2h-1.2zM67.0 165.9h1.2v1.2h-1.2zM170.4 206.1h1.2v1.2h-1.2zM69.5 147.3h1.2v1.2h-1.2zM70.1 186.4h1.2v1.2h-1.2zM97.3 177.9h1.2v1.2h-1.2zM70.1 189.8h1.2v1.2h-1.2zM73.3 128.7h1.2v1.2h-1.2zM169.2 203.0h1.2v1.2h-1.2zM169.0 202.9h1.2v1.2h-1.2zM97.7 167.0h1.2v1.2h-1.2zM167.9 206.9h1.2v1.2h-1.2zM95.3 136.1h1.2v1.2h-1.2zM87.0 114.7h1.2v1.2h-1.2zM170.5 202.7h1.2v1.2h-1.2zM170.2 202.9h1.2v1.2h-1.2zM76.7 203.7h1.2v1.2h-1.2zM78.1 118.5h1.2v1.2h-1.2zM78.5 118.5h1.2v1.2h-1.2zM96.6 181.8h1.2v1.2h-1.2zM184.8 200.1h1.2v1.2h-1.2zM96.5 149.3h1.2v1.2h-1.2zM97.0 151.3h1.2v1.2h-1.2zM85.2 205.3h1.2v1.2h-1.2zM85.4 205.8h1.2v1.2h-1.2zM171.3 208.8h1.2v1.2h-1.2zM171.7 208.8h1.2v1.2h-1.2zM95.0 186.4h1.2v1.2h-1.2zM91.1 202.8h1.2v1.2h-1.2zM73.4 129.6h1.2v1.2h-1.2zM97.1 160.0h1.2v1.2h-1.2zM97.0 160.8h1.2v1.2h-1.2zM97.0 160.7h1.2v1.2h-1.2zM173.9 210.4h1.2v1.2h-1.2zM166.5 203.3h1.2v1.2h-1.2zM185.3 200.5h1.2v1.2h-1.2zM92.9 198.4h1.2v1.2h-1.2zM81.3 115.1h1.2v1.2h-1.2zM95.7 137.9h1.2v1.2h-1.2zM96.8 150.3h1.2v1.2h-1.2zM96.2 150.4h1.2v1.2h-1.2zM188.9 200.4h1.2v1.2h-1.2zM188.3 200.9h1.2v1.2h-1.2zM190.8 201.3h1.2v1.2h-1.2zM190.5 201.1h1.2v1.2h-1.2zM69.0 153.5h1.2v1.2h-1.2zM97.8 166.1h1.2v1.2h-1.2zM71.3 138.3h1.2v1.2h-1.2zM175.4 201.2h1.2v1.2h-1.2zM75.5 121.0h1.2v1.2h-1.2zM75.1 121.1h1.2v1.2h-1.2zM67.9 170.7h1.2v1.2h-1.2zM95.0 135.2h1.2v1.2h-1.2zM86.7 114.3h1.2v1.2h-1.2zM171.8 203.3h1.2v1.2h-1.2zM169.9 204.6h1.2v1.2h-1.2zM80.9 116.4h1.2v1.2h-1.2zM168.8 205.5h1.2v1.2h-1.2zM186.2 211.0h1.2v1.2h-1.2zM177.9 211.3h1.2v1.2h-1.2zM177.5 211.8h1.2v1.2h-1.2zM175.0 201.5h1.2v1.2h-1.2zM174.1 201.3h1.2v1.2h-1.2zM67.8 164.9h1.2v1.2h-1.2zM95.5 138.1h1.2v1.2h-1.2zM95.9 139.0h1.2v1.2h-1.2zM95.1 139.0h1.2v1.2h-1.2zM95.3 139.5h1.2v1.2h-1.2zM90.3 203.0h1.2v1.2h-1.2zM76.1 120.1h1.2v1.2h-1.2zM77.0 120.8h1.2v1.2h-1.2zM76.6 120.6h1.2v1.2h-1.2zM74.9 199.9h1.2v1.2h-1.2zM87.6 115.3h1.2v1.2h-1.2zM87.7 115.3h1.2v1.2h-1.2zM87.8 115.1h1.2v1.2h-1.2zM97.8 162.9h1.2v1.2h-1.2zM167.9 205.1h1.2v1.2h-1.2zM167.8 205.1h1.2v1.2h-1.2zM67.4 165.3h1.2v1.2h-1.2zM168.9 204.3h1.2v1.2h-1.2zM166.1 204.6h1.2v1.2h-1.2zM68.1 162.3h1.2v1.2h-1.2zM75.2 201.3h1.2v1.2h-1.2zM188.9 210.2h1.2v1.2h-1.2zM69.3 157.0h1.2v1.2h-1.2zM69.3 156.5h1.2v1.2h-1.2zM167.4 204.9h1.2v1.2h-1.2zM68.4 178.7h1.2v1.2h-1.2zM68.3 178.0h1.2v1.2h-1.2zM78.1 205.0h1.2v1.2h-1.2zM78.5 204.1h1.2v1.2h-1.2zM75.9 122.5h1.2v1.2h-1.2zM189.1 209.3h1.2v1.2h-1.2zM179.5 211.3h1.2v1.2h-1.2zM174.0 202.9h1.2v1.2h-1.2zM173.5 202.4h1.2v1.2h-1.2zM94.4 189.0h1.2v1.2h-1.2zM87.8 116.5h1.2v1.2h-1.2zM87.3 118.7h1.2v1.2h-1.2zM71.0 150.1h1.2v1.2h-1.2zM179.0 201.7h1.2v1.2h-1.2zM87.8 117.7h1.2v1.2h-1.2zM87.6 117.1h1.2v1.2h-1.2zM84.3 115.3h1.2v1.2h-1.2zM84.3 115.9h1.2v1.2h-1.2zM70.2 143.6h1.2v1.2h-1.2zM70.5 143.7h1.2v1.2h-1.2zM75.3 123.9h1.2v1.2h-1.2zM75.7 123.1h1.2v1.2h-1.2zM83.4 205.3h1.2v1.2h-1.2zM94.4 141.6h1.2v1.2h-1.2zM183.9 211.6h1.2v1.2h-1.2zM94.5 143.2h1.2v1.2h-1.2zM70.4 151.8h1.2v1.2h-1.2zM174.2 202.9h1.2v1.2h-1.2zM77.9 120.3h1.2v1.2h-1.2zM81.5 116.0h1.2v1.2h-1.2zM172.3 205.7h1.2v1.2h-1.2zM96.0 160.1h1.2v1.2h-1.2zM93.4 135.6h1.2v1.2h-1.2zM191.6 205.0h1.2v1.2h-1.2zM91.3 200.3h1.2v1.2h-1.2zM80.3 117.5h1.2v1.2h-1.2zM94.0 138.2h1.2v1.2h-1.2zM73.9 133.8h1.2v1.2h-1.2zM173.2 203.5h1.2v1.2h-1.2zM189.5 201.4h1.2v1.2h-1.2zM71.5 141.0h1.2v1.2h-1.2zM68.7 167.9h1.2v1.2h-1.2zM190.4 202.2h1.2v1.2h-1.2zM76.6 202.6h1.2v1.2h-1.2zM172.5 208.2h1.2v1.2h-1.2zM172.1 208.4h1.2v1.2h-1.2zM94.3 144.9h1.2v1.2h-1.2zM88.1 122.1h1.2v1.2h-1.2zM96.9 178.7h1.2v1.2h-1.2zM96.8 178.2h1.2v1.2h-1.2zM96.7 178.7h1.2v1.2h-1.2zM68.2 168.8h1.2v1.2h-1.2zM68.9 166.6h1.2v1.2h-1.2zM89.5 203.3h1.2v1.2h-1.2zM87.9 120.5h1.2v1.2h-1.2zM96.0 164.0h1.2v1.2h-1.2zM179.5 201.6h1.2v1.2h-1.2zM175.9 210.5h1.2v1.2h-1.2zM96.4 165.4h1.2v1.2h-1.2zM70.8 153.3h1.2v1.2h-1.2zM70.1 153.1h1.2v1.2h-1.2zM68.8 164.9h1.2v1.2h-1.2zM96.4 166.6h1.2v1.2h-1.2zM96.8 166.2h1.2v1.2h-1.2zM96.4 166.5h1.2v1.2h-1.2zM90.4 202.8h1.2v1.2h-1.2zM86.8 116.8h1.2v1.2h-1.2zM173.8 209.3h1.2v1.2h-1.2zM94.2 145.6h1.2v1.2h-1.2zM79.5 119.3h1.2v1.2h-1.2zM72.3 195.5h1.2v1.2h-1.2zM72.8 195.3h1.2v1.2h-1.2zM72.9 195.4h1.2v1.2h-1.2zM92.6 134.1h1.2v1.2h-1.2zM68.4 175.0h1.2v1.2h-1.2zM92.8 196.3h1.2v1.2h-1.2zM92.9 196.9h1.2v1.2h-1.2zM71.9 188.5h1.2v1.2h-1.2zM71.9 188.8h1.2v1.2h-1.2zM71.8 189.0h1.2v1.2h-1.2zM91.7 132.9h1.2v1.2h-1.2zM83.0 116.3h1.2v1.2h-1.2zM76.7 122.6h1.2v1.2h-1.2zM94.9 185.9h1.2v1.2h-1.2zM91.8 199.5h1.2v1.2h-1.2zM73.8 135.6h1.2v1.2h-1.2zM68.8 170.8h1.2v1.2h-1.2zM89.1 124.5h1.2v1.2h-1.2zM68.8 173.4h1.2v1.2h-1.2zM69.3 179.3h1.2v1.2h-1.2zM188.1 202.0h1.2v1.2h-1.2zM188.6 201.6h1.2v1.2h-1.2zM72.0 185.9h1.2v1.2h-1.2zM72.3 138.6h1.2v1.2h-1.2zM72.8 138.4h1.2v1.2h-1.2zM70.5 182.6h1.2v1.2h-1.2zM76.4 123.2h1.2v1.2h-1.2zM182.4 201.4h1.2v1.2h-1.2zM68.7 172.8h1.2v1.2h-1.2zM68.4 172.9h1.2v1.2h-1.2zM68.7 172.7h1.2v1.2h-1.2zM73.3 196.5h1.2v1.2h-1.2zM73.9 196.8h1.2v1.2h-1.2zM78.9 121.2h1.2v1.2h-1.2zM183.2 201.5h1.2v1.2h-1.2zM75.2 126.1h1.2v1.2h-1.2zM71.7 149.5h1.2v1.2h-1.2zM190.5 206.1h1.2v1.2h-1.2zM188.0 201.9h1.2v1.2h-1.2zM76.2 124.2h1.2v1.2h-1.2z" fill="rgb(60,72,204)"/>
<path d="M78.0 122.9h1.2v1.2h-1.2zM71.5 147.6h1.2v1.2h-1.2zM69.6 167.4h1.2v1.2h-1.2zM174.6 204.3h1.2v1.2h-1.2zM88.6 203.0h1.2v1.2h-1.2zM95.3 180.6h1.2v1.2h-1.2zM184.3 201.8h1.2v1.2h-1.2zM174.4 209.9h1.2v1.2h-1.2zM93.2 193.5h1.2v1.2h-1.2zM85.2 117.1h1.2v1.2h-1.2zM85.2 117.3h1.2v1.2h-1.2zM69.8 176.3h1.2v1.2h-1.2zM69.0 176.8h1.2v1.2h-1.2zM71.0 184.3h1.2v1.2h-1.2zM94.5 171.8h1.2v1.2h-1.2zM189.4 202.6h1.2v1.2h-1.2zM86.7 119.6h1.2v1.2h-1.2zM86.7 119.9h1.2v1.2h-1.2zM93.5 140.3h1.2v1.2h-1.2zM89.0 125.2h1.2v1.2h-1.2zM91.5 199.0h1.2v1.2h-1.2zM190.6 204.3h1.2v1.2h-1.2zM178.9 202.8h1.2v1.2h-1.2zM188.1 210.0h1.2v1.2h-1.2zM173.3 206.5h1.2v1.2h-1.2zM70.0 168.8h1.2v1.2h-1.2zM95.7 163.0h1.2v1.2h-1.2zM82.4 117.6h1.2v1.2h-1.2zM82.6 117.5h1.2v1.2h-1.2zM69.6 162.3h1.2v1.2h-1.2zM69.3 162.7h1.2v1.2h-1.2zM94.2 183.4h1.2v1.2h-1.2zM77.3 123.4h1.2v1.2h-1.2zM72.0 152.3h1.2v1.2h-1.2zM69.9 175.7h1.2v1.2h-1.2zM190.8 205.8h1.2v1.2h-1.2zM79.3 121.9h1.2v1.2h-1.2zM93.3 190.2h1.2v1.2h-1.2zM94.4 152.1h1.2v1.2h-1.2zM70.3 181.8h1.2v1.2h-1.2zM70.9 181.2h1.2v1.2h-1.2zM95.7 162.3h1.2v1.2h-1.2zM173.9 207.2h1.2v1.2h-1.2zM95.0 161.2h1.2v1.2h-1.2zM69.5 164.3h1.2v1.2h-1.2zM94.3 148.6h1.2v1.2h-1.2zM94.6 148.3h1.2v1.2h-1.2zM94.4 148.1h1.2v1.2h-1.2zM94.4 148.6h1.2v1.2h-1.2z" fill="rgb(60,84,204)"/>
<path d="M74.3 130.2h1.2v1.2h-1.2zM95.3 167.4h1.2v1.2h-1.2zM81.9 118.2h1.2v1.2h-1.2zM81.8 118.6h1.2v1.2h-1.2zM81.3 118.0h1.2v1.2h-1.2zM89.3 126.5h1.2v1.2h-1.2zM175.4 204.1h1.2v1.2h-1.2zM175.8 204.2h1.2v1.2h-1.2zM175.9 204.8h1.2v1.2h-1.2zM70.9 158.7h1.2v1.2h-1.2zM175.8 209.2h1.2v1.2h-1.2zM175.0 209.4h1.2v1.2h-1.2zM175.2 209.1h1.2v1.2h-1.2zM180.2 210.6h1.2v1.2h-1.2zM174.8 205.7h1.2v1.2h-1.2zM77.6 202.2h1.2v1.2h-1.2zM92.1 136.1h1.2v1.2h-1.2zM78.7 123.6h1.2v1.2h-1.2zM77.5 124.8h1.2v1.2h-1.2zM95.8 178.8h1.2v1.2h-1.2zM89.1 127.4h1.2v1.2h-1.2zM181.9 210.0h1.2v1.2h-1.2zM177.7 203.1h1.2v1.2h-1.2zM71.7 154.3h1.2v1.2h-1.2zM87.9 123.0h1.2v1.2h-1.2zM87.3 122.2h1.2v1.2h-1.2zM79.1 122.2h1.2v1.2h-1.2zM184.0 210.6h1.2v1.2h-1.2zM93.6 187.4h1.2v1.2h-1.2zM91.0 134.6h1.2v1.2h-1.2zM72.5 192.8h1.2v1.2h-1.2zM71.2 183.5h1.2v1.2h-1.2zM90.5 132.0h1.2v1.2h-1.2zM75.1 127.5h1.2v1.2h-1.2zM94.2 150.3h1.2v1.2h-1.2zM73.2 195.6h1.2v1.2h-1.2zM180.0 202.1h1.2v1.2h-1.2zM88.2 125.0h1.2v1.2h-1.2zM93.9 144.7h1.2v1.2h-1.2zM174.6 208.5h1.2v1.2h-1.2zM189.8 203.6h1.2v1.2h-1.2zM80.5 121.3h1.2v1.2h-1.2zM84.6 204.5h1.2v1.2h-1.2zM70.8 159.4h1.2v1.2h-1.2zM81.4 204.7h1.2v1.2h-1.2zM84.5 118.5h1.2v1.2h-1.2zM90.0 200.6h1.2v1.2h-1.2zM92.0 137.7h1.2v1.2h-1.2zM174.2 206.0h1.2v1.2h-1.2zM71.8 155.8h1.2v1.2h-1.2zM71.8 155.3h1.2v1.2h-1.2zM71.2 155.8h1.2v1.2h-1.2zM93.4 186.7h1.2v1.2h-1.2zM85.5 119.8h1.2v1.2h-1.2zM70.6 166.7h1.2v1.2h-1.2zM175.6 205.1h1.2v1.2h-1.2zM72.8 190.6h1.2v1.2h-1.2zM72.3 190.2h1.2v1.2h-1.2zM83.4 118.8h1.2v1.2h-1.2zM73.6 138.7h1.2v1.2h-1.2zM73.5 138.7h1.2v1.2h-1.2zM73.9 138.9h1.2v1.2h-1.2zM93.2 146.0h1.2v1.2h-1.2zM93.5 145.1h1.2v1.2h-1.2zM174.2 207.3h1.2v1.2h-1.2zM174.3 207.7h1.2v1.2h-1.2zM174.7 207.6h1.2v1.2h-1.2zM90.3 132.5h1.2v1.2h-1.2zM177.6 209.9h1.2v1.2h-1.2zM78.0 125.1h1.2v1.2h-1.2zM87.0 121.9h1.2v1.2h-1.2zM76.7 126.4h1.2v1.2h-1.2zM70.6 168.3h1.2v1.2h-1.2zM70.3 168.9h1.2v1.2h-1.2zM70.4 168.8h1.2v1.2h-1.2zM70.1 178.0h1.2v1.2h-1.2zM72.4 189.6h1.2v1.2h-1.2zM92.1 194.2h1.2v1.2h-1.2zM70.5 177.5h1.2v1.2h-1.2zM70.3 177.2h1.2v1.2h-1.2zM82.9 204.3h1.2v1.2h-1.2zM70.0 176.9h1.2v1.2h-1.2zM188.0 209.0h1.2v1.2h-1.2zM74.4 196.6h1.2v1.2h-1.2zM88.9 125.4h1.2v1.2h-1.2zM81.5 120.7h1.2v1.2h-1.2zM87.4 123.0h1.2v1.2h-1.2zM70.6 165.8h1.2v1.2h-1.2zM178.7 203.7h1.2v1.2h-1.2zM70.5 161.0h1.2v1.2h-1.2zM79.3 203.7h1.2v1.2h-1.2zM187.2 202.9h1.2v1.2h-1.2zM94.8 160.5h1.2v1.2h-1.2zM94.2 160.9h1.2v1.2h-1.2zM93.7 146.5h1.2v1.2h-1.2zM189.3 204.1h1.2v1.2h-1.2zM82.1 119.7h1.2v1.2h-1.2zM82.8 119.0h1.2v1.2h-1.2zM76.1 200.7h1.2v1.2h-1.2zM189.0 208.7h1.2v1.2h-1.2zM188.3 208.3h1.2v1.2h-1.2zM178.2 209.9h1.2v1.2h-1.2zM178.3 209.7h1.2v1.2h-1.2zM94.9 180.1h1.2v1.2h-1.2zM94.3 180.0h1.2v1.2h-1.2zM84.6 119.1h1.2v1.2h-1.2zM189.4 206.1h1.2v1.2h-1.2zM72.4 149.2h1.2v1.2h-1.2zM73.6 194.4h1.2v1.2h-1.2zM94.1 176.1h1.2v1.2h-1.2zM94.6 176.3h1.2v1.2h-1.2zM183.0 202.3h1.2v1.2h-1.2zM182.5 203.0h1.2v1.2h-1.2zM176.0 207.4h1.2v1.2h-1.2zM176.0 207.0h1.2v1.2h-1.2zM72.9 150.8h1.2v1.2h-1.2zM72.6 151.0h1.2v1.2h-1.2zM94.1 161.9h1.2v1.2h-1.2zM70.1 169.7h1.2v1.2h-1.2zM80.5 123.5h1.2v1.2h-1.2zM88.6 126.9h1.2v1.2h-1.2zM72.9 147.9h1.2v1.2h-1.2zM73.0 185.9h1.2v1.2h-1.2zM72.8 185.8h1.2v1.2h-1.2zM176.8 208.2h1.2v1.2h-1.2zM83.5 119.7h1.2v1.2h-1.2zM83.3 119.7h1.2v1.2h-1.2zM81.6 121.9h1.2v1.2h-1.2zM81.6 121.7h1.2v1.2h-1.2zM73.0 139.3h1.2v1.2h-1.2zM73.5 139.3h1.2v1.2h-1.2zM189.4 205.6h1.2v1.2h-1.2zM92.1 141.7h1.2v1.2h-1.2zM92.1 141.5h1.2v1.2h-1.2zM93.7 184.7h1.2v1.2h-1.2zM70.2 164.3h1.2v1.2h-1.2zM94.6 168.9h1.2v1.2h-1.2zM94.5 169.0h1.2v1.2h-1.2zM179.0 209.6h1.2v1.2h-1.2zM179.2 209.4h1.2v1.2h-1.2zM70.1 161.9h1.2v1.2h-1.2zM93.9 153.8h1.2v1.2h-1.2zM93.2 153.2h1.2v1.2h-1.2zM93.8 153.9h1.2v1.2h-1.2zM89.9 130.8h1.2v1.2h-1.2zM89.9 130.7h1.2v1.2h-1.2zM89.2 130.2h1.2v1.2h-1.2zM89.9 201.0h1.2v1.2h-1.2zM184.6 202.2h1.2v1.2h-1.2zM185.4 202.3h1.2v1.2h-1.2zM72.2 142.6h1.2v1.2h-1.2zM72.8 143.0h1.2v1.2h-1.2zM72.1 142.2h1.2v1.2h-1.2zM86.0 122.7h1.2v1.2h-1.2zM88.0 124.6h1.2v1.2h-1.2zM94.4 177.8h1.2v1.2h-1.2zM71.1 181.1h1.2v1.2h-1.2zM186.1 209.7h1.2v1.2h-1.2zM186.6 209.6h1.2v1.2h-1.2zM82.4 120.7h1.2v1.2h-1.2zM86.9 203.1h1.2v1.2h-1.2zM92.5 194.0h1.2v1.2h-1.2zM73.0 146.9h1.2v1.2h-1.2zM94.7 167.0h1.2v1.2h-1.2zM88.7 127.7h1.2v1.2h-1.2zM88.1 127.5h1.2v1.2h-1.2zM92.3 142.1h1.2v1.2h-1.2zM92.5 142.2h1.2v1.2h-1.2zM92.9 142.5h1.2v1.2h-1.2zM94.6 178.9h1.2v1.2h-1.2zM77.1 201.9h1.2v1.2h-1.2zM77.5 201.5h1.2v1.2h-1.2zM93.2 157.6h1.2v1.2h-1.2zM176.1 207.4h1.2v1.2h-1.2zM91.2 136.9h1.2v1.2h-1.2zM94.5 167.7h1.2v1.2h-1.2zM75.1 129.2h1.2v1.2h-1.2zM75.3 129.8h1.2v1.2h-1.2zM77.1 126.4h1.2v1.2h-1.2zM77.3 126.2h1.2v1.2h-1.2zM177.6 205.8h1.2v1.2h-1.2zM177.4 205.3h1.2v1.2h-1.2zM93.1 183.4h1.2v1.2h-1.2zM179.1 203.4h1.2v1.2h-1.2zM179.6 204.0h1.2v1.2h-1.2zM179.7 203.0h1.2v1.2h-1.2zM84.7 120.9h1.2v1.2h-1.2zM70.5 170.8h1.2v1.2h-1.2zM70.0 170.5h1.2v1.2h-1.2zM71.0 173.5h1.2v1.2h-1.2zM93.2 152.4h1.2v1.2h-1.2zM93.8 152.9h1.2v1.2h-1.2zM93.4 152.9h1.2v1.2h-1.2zM73.9 193.7h1.2v1.2h-1.2zM73.9 193.4h1.2v1.2h-1.2zM185.5 209.1h1.2v1.2h-1.2zM185.2 209.7h1.2v1.2h-1.2zM182.4 209.6h1.2v1.2h-1.2zM72.9 145.6h1.2v1.2h-1.2zM93.1 173.2h1.2v1.2h-1.2zM73.1 140.7h1.2v1.2h-1.2zM183.6 210.0h1.2v1.2h-1.2zM88.4 128.6h1.2v1.2h-1.2zM72.7 143.7h1.2v1.2h-1.2zM88.0 125.6h1.2v1.2h-1.2zM93.1 149.8h1.2v1.2h-1.2zM82.7 121.7h1.2v1.2h-1.2zM91.4 195.4h1.2v1.2h-1.2zM89.1 131.1h1.2v1.2h-1.2zM92.1 193.0h1.2v1.2h-1.2zM92.0 192.6h1.2v1.2h-1.2zM93.8 158.4h1.2v1.2h-1.2zM71.3 180.2h1.2v1.2h-1.2zM71.6 180.5h1.2v1.2h-1.2zM93.3 151.1h1.2v1.2h-1.2zM71.0 171.2h1.2v1.2h-1.2zM70.9 171.5h1.2v1.2h-1.2zM93.4 182.2h1.2v1.2h-1.2zM177.5 206.7h1.2v1.2h-1.2zM177.1 207.8h1.2v1.2h-1.2zM178.1 208.3h1.2v1.2h-1.2zM178.2 208.2h1.2v1.2h-1.2zM90.3 198.5h1.2v1.2h-1.2zM86.5 123.2h1.2v1.2h-1.2zM80.7 203.2h1.2v1.2h-1.2zM72.2 155.5h1.2v1.2h-1.2zM93.4 171.6h1.2v1.2h-1.2zM81.1 123.3h1.2v1.2h-1.2zM81.7 123.7h1.2v1.2h-1.2zM74.1 138.1h1.2v1.2h-1.2zM87.5 126.8h1.2v1.2h-1.2zM87.3 126.4h1.2v1.2h-1.2zM180.0 203.5h1.2v1.2h-1.2zM180.2 203.5h1.2v1.2h-1.2zM180.6 203.7h1.2v1.2h-1.2zM71.3 179.9h1.2v1.2h-1.2zM78.3 126.0h1.2v1.2h-1.2z" fill="rgb(60,84,216)"/>
<path d="M76.9 199.7h1.2v1.2h-1.2zM187.1 208.2h1.2v1.2h-1.2zM92.7 187.8h1.2v1.2h-1.2zM84.9 121.2h1.2v1.2h-1.2zM84.5 121.7h1.2v1.2h-1.2zM84.9 121.2h1.2v1.2h-1.2zM84.2 121.4h1.2v1.2h-1.2zM187.7 203.7h1.2v1.2h-1.2zM89.1 132.6h1.2v1.2h-1.2zM85.4 122.4h1.2v1.2h-1.2zM178.1 205.0h1.2v1.2h-1.2zM80.9 125.2h1.2v1.2h-1.2zM80.4 125.4h1.2v1.2h-1.2zM179.5 208.0h1.2v1.2h-1.2zM179.6 208.8h1.2v1.2h-1.2zM86.1 124.1h1.2v1.2h-1.2zM93.2 175.2h1.2v1.2h-1.2zM93.3 175.0h1.2v1.2h-1.2zM93.3 175.3h1.2v1.2h-1.2zM73.8 191.8h1.2v1.2h-1.2zM93.2 170.4h1.2v1.2h-1.2zM181.7 203.3h1.2v1.2h-1.2zM71.7 159.8h1.2v1.2h-1.2zM93.2 180.6h1.2v1.2h-1.2zM93.3 180.2h1.2v1.2h-1.2zM93.8 180.1h1.2v1.2h-1.2zM73.3 141.2h1.2v1.2h-1.2zM87.3 127.6h1.2v1.2h-1.2zM178.2 207.3h1.2v1.2h-1.2zM76.9 128.7h1.2v1.2h-1.2zM76.9 128.8h1.2v1.2h-1.2zM81.6 124.4h1.2v1.2h-1.2zM81.6 124.8h1.2v1.2h-1.2zM179.3 204.8h1.2v1.2h-1.2zM75.2 132.0h1.2v1.2h-1.2zM71.7 174.8h1.2v1.2h-1.2zM71.4 174.9h1.2v1.2h-1.2zM71.2 174.2h1.2v1.2h-1.2zM71.2 174.7h1.2v1.2h-1.2zM178.3 206.1h1.2v1.2h-1.2zM93.8 160.3h1.2v1.2h-1.2zM93.1 160.5h1.2v1.2h-1.2zM93.7 160.8h1.2v1.2h-1.2zM78.0 127.9h1.2v1.2h-1.2zM188.1 206.2h1.2v1.2h-1.2zM183.0 203.3h1.2v1.2h-1.2zM72.2 156.8h1.2v1.2h-1.2zM72.1 156.7h1.2v1.2h-1.2zM86.7 125.8h1.2v1.2h-1.2zM89.7 133.3h1.2v1.2h-1.2zM74.1 139.2h1.2v1.2h-1.2zM74.5 139.9h1.2v1.2h-1.2zM93.1 179.2h1.2v1.2h-1.2zM91.2 139.5h1.2v1.2h-1.2zM186.1 203.7h1.2v1.2h-1.2zM72.2 182.6h1.2v1.2h-1.2zM72.8 182.8h1.2v1.2h-1.2zM93.6 163.2h1.2v1.2h-1.2zM93.7 176.6h1.2v1.2h-1.2zM93.2 176.5h1.2v1.2h-1.2zM180.7 208.3h1.2v1.2h-1.2zM93.6 164.3h1.2v1.2h-1.2zM184.0 203.7h1.2v1.2h-1.2zM93.7 162.3h1.2v1.2h-1.2zM93.3 162.5h1.2v1.2h-1.2zM93.2 162.9h1.2v1.2h-1.2zM88.3 130.4h1.2v1.2h-1.2zM83.6 122.1h1.2v1.2h-1.2zM93.2 178.8h1.2v1.2h-1.2zM91.4 140.1h1.2v1.2h-1.2zM82.9 123.3h1.2v1.2h-1.2zM85.6 123.6h1.2v1.2h-1.2zM81.7 203.5h1.2v1.2h-1.2zM74.4 194.3h1.2v1.2h-1.2zM75.2 133.8h1.2v1.2h-1.2zM75.8 133.4h1.2v1.2h-1.2zM75.8 133.7h1.2v1.2h-1.2zM75.7 133.1h1.2v1.2h-1.2zM93.2 177.2h1.2v1.2h-1.2zM87.3 128.9h1.2v1.2h-1.2zM71.5 170.8h1.2v1.2h-1.2zM186.6 208.4h1.2v1.2h-1.2zM184.1 203.7h1.2v1.2h-1.2zM185.5 203.3h1.2v1.2h-1.2zM73.0 148.9h1.2v1.2h-1.2zM73.8 152.8h1.2v1.2h-1.2zM73.3 152.1h1.2v1.2h-1.2zM73.2 188.9h1.2v1.2h-1.2zM73.9 188.5h1.2v1.2h-1.2zM73.6 188.6h1.2v1.2h-1.2zM73.0 150.5h1.2v1.2h-1.2zM73.5 151.2h1.2v1.2h-1.2zM73.2 151.0h1.2v1.2h-1.2zM73.2 152.0h1.2v1.2h-1.2zM181.4 208.7h1.2v1.2h-1.2zM181.6 208.1h1.2v1.2h-1.2zM71.5 160.4h1.2v1.2h-1.2zM71.6 160.9h1.2v1.2h-1.2zM92.0 141.5h1.2v1.2h-1.2zM73.4 153.6h1.2v1.2h-1.2zM73.4 147.1h1.2v1.2h-1.2zM76.0 134.3h1.2v1.2h-1.2zM75.6 134.6h1.2v1.2h-1.2zM76.0 134.6h1.2v1.2h-1.2zM179.3 205.8h1.2v1.2h-1.2zM182.7 208.2h1.2v1.2h-1.2zM182.9 208.4h1.2v1.2h-1.2zM90.3 136.5h1.2v1.2h-1.2zM92.3 155.6h1.2v1.2h-1.2zM88.6 201.4h1.2v1.2h-1.2zM76.9 129.5h1.2v1.2h-1.2zM76.6 129.0h1.2v1.2h-1.2zM76.5 129.1h1.2v1.2h-1.2zM76.4 129.7h1.2v1.2h-1.2zM183.5 208.2h1.2v1.2h-1.2zM86.6 127.3h1.2v1.2h-1.2zM71.1 172.4h1.2v1.2h-1.2zM71.8 171.1h1.2v1.2h-1.2zM71.3 171.0h1.2v1.2h-1.2zM71.0 171.0h1.2v1.2h-1.2zM184.1 208.3h1.2v1.2h-1.2zM184.8 208.2h1.2v1.2h-1.2zM78.3 127.8h1.2v1.2h-1.2zM78.0 127.2h1.2v1.2h-1.2zM78.2 127.9h1.2v1.2h-1.2zM78.5 127.4h1.2v1.2h-1.2zM78.3 201.1h1.2v1.2h-1.2zM72.1 181.2h1.2v1.2h-1.2zM179.6 206.3h1.2v1.2h-1.2zM75.7 136.1h1.2v1.2h-1.2zM82.2 124.6h1.2v1.2h-1.2zM92.1 147.1h1.2v1.2h-1.2zM92.2 147.1h1.2v1.2h-1.2zM85.6 125.3h1.2v1.2h-1.2zM92.0 142.9h1.2v1.2h-1.2zM72.0 157.7h1.2v1.2h-1.2zM72.8 158.0h1.2v1.2h-1.2zM84.5 123.3h1.2v1.2h-1.2zM84.0 123.3h1.2v1.2h-1.2zM84.4 123.1h1.2v1.2h-1.2zM83.5 123.2h1.2v1.2h-1.2zM83.9 123.2h1.2v1.2h-1.2zM88.6 131.2h1.2v1.2h-1.2zM76.9 198.2h1.2v1.2h-1.2zM75.0 140.1h1.2v1.2h-1.2zM82.9 203.9h1.2v1.2h-1.2zM82.4 203.5h1.2v1.2h-1.2zM92.3 156.6h1.2v1.2h-1.2zM92.9 156.7h1.2v1.2h-1.2zM92.2 156.5h1.2v1.2h-1.2zM92.2 156.7h1.2v1.2h-1.2zM73.2 146.5h1.2v1.2h-1.2zM87.3 129.5h1.2v1.2h-1.2zM87.0 129.6h1.2v1.2h-1.2zM87.2 129.9h1.2v1.2h-1.2zM93.5 168.8h1.2v1.2h-1.2zM93.8 168.5h1.2v1.2h-1.2zM83.7 203.5h1.2v1.2h-1.2zM71.0 161.2h1.2v1.2h-1.2zM92.7 184.3h1.2v1.2h-1.2zM92.5 184.9h1.2v1.2h-1.2zM71.4 163.2h1.2v1.2h-1.2zM71.5 163.1h1.2v1.2h-1.2zM181.0 204.8h1.2v1.2h-1.2zM181.0 207.7h1.2v1.2h-1.2zM93.1 167.8h1.2v1.2h-1.2zM77.7 128.7h1.2v1.2h-1.2zM84.8 124.7h1.2v1.2h-1.2zM84.2 124.5h1.2v1.2h-1.2zM84.1 124.2h1.2v1.2h-1.2zM84.0 124.3h1.2v1.2h-1.2zM84.4 124.6h1.2v1.2h-1.2zM71.5 162.4h1.2v1.2h-1.2zM71.3 162.4h1.2v1.2h-1.2zM86.1 128.9h1.2v1.2h-1.2zM86.2 128.5h1.2v1.2h-1.2zM86.2 128.9h1.2v1.2h-1.2zM86.8 128.0h1.2v1.2h-1.2zM76.7 130.6h1.2v1.2h-1.2zM92.8 152.6h1.2v1.2h-1.2zM89.1 199.4h1.2v1.2h-1.2zM92.6 157.1h1.2v1.2h-1.2zM73.1 143.7h1.2v1.2h-1.2zM73.5 143.6h1.2v1.2h-1.2zM73.4 143.9h1.2v1.2h-1.2zM73.2 143.2h1.2v1.2h-1.2zM91.1 193.7h1.2v1.2h-1.2zM91.7 193.1h1.2v1.2h-1.2zM72.5 180.6h1.2v1.2h-1.2zM72.2 180.9h1.2v1.2h-1.2zM74.9 193.6h1.2v1.2h-1.2zM88.8 132.5h1.2v1.2h-1.2zM88.1 132.1h1.2v1.2h-1.2zM88.3 132.5h1.2v1.2h-1.2zM82.8 125.3h1.2v1.2h-1.2zM73.4 145.2h1.2v1.2h-1.2zM73.3 145.8h1.2v1.2h-1.2zM73.6 145.4h1.2v1.2h-1.2zM73.6 145.6h1.2v1.2h-1.2zM180.6 205.5h1.2v1.2h-1.2zM181.0 206.0h1.2v1.2h-1.2zM180.9 205.4h1.2v1.2h-1.2zM182.5 204.5h1.2v1.2h-1.2z" fill="rgb(60,96,216)"/>
<path d="M84.6 125.6h1.2v1.2h-1.2zM72.2 169.8h1.2v1.2h-1.2zM72.6 169.8h1.2v1.2h-1.2zM89.9 135.3h1.2v1.2h-1.2zM89.0 135.4h1.2v1.2h-1.2zM89.8 135.8h1.2v1.2h-1.2zM75.4 138.4h1.2v1.2h-1.2zM188.0 205.3h1.2v1.2h-1.2zM187.7 205.1h1.2v1.2h-1.2zM187.9 205.2h1.2v1.2h-1.2zM187.3 205.6h1.2v1.2h-1.2zM72.5 177.3h1.2v1.2h-1.2zM72.5 177.8h1.2v1.2h-1.2zM90.9 137.3h1.2v1.2h-1.2zM187.9 206.8h1.2v1.2h-1.2zM187.4 206.2h1.2v1.2h-1.2zM187.3 206.9h1.2v1.2h-1.2zM187.6 206.5h1.2v1.2h-1.2zM187.3 206.4h1.2v1.2h-1.2zM187.7 206.5h1.2v1.2h-1.2zM186.9 204.1h1.2v1.2h-1.2zM186.6 204.0h1.2v1.2h-1.2zM186.9 204.0h1.2v1.2h-1.2zM186.4 204.1h1.2v1.2h-1.2zM186.3 204.5h1.2v1.2h-1.2zM81.2 126.9h1.2v1.2h-1.2zM180.5 206.7h1.2v1.2h-1.2zM180.2 206.9h1.2v1.2h-1.2zM181.6 207.8h1.2v1.2h-1.2zM73.4 144.3h1.2v1.2h-1.2zM183.2 204.3h1.2v1.2h-1.2zM92.3 182.8h1.2v1.2h-1.2zM92.7 151.3h1.2v1.2h-1.2zM72.8 179.2h1.2v1.2h-1.2zM87.7 130.2h1.2v1.2h-1.2zM72.3 178.0h1.2v1.2h-1.2zM72.4 178.8h1.2v1.2h-1.2zM75.4 195.0h1.2v1.2h-1.2zM76.0 195.4h1.2v1.2h-1.2zM92.2 181.3h1.2v1.2h-1.2zM92.7 181.3h1.2v1.2h-1.2zM83.3 125.4h1.2v1.2h-1.2zM83.2 125.4h1.2v1.2h-1.2zM83.7 125.8h1.2v1.2h-1.2zM92.2 158.5h1.2v1.2h-1.2zM72.8 158.2h1.2v1.2h-1.2zM92.9 180.9h1.2v1.2h-1.2zM92.0 150.7h1.2v1.2h-1.2zM92.1 150.7h1.2v1.2h-1.2zM186.2 207.2h1.2v1.2h-1.2zM186.3 207.4h1.2v1.2h-1.2zM186.4 207.7h1.2v1.2h-1.2zM72.8 174.7h1.2v1.2h-1.2zM72.4 174.3h1.2v1.2h-1.2zM76.7 131.3h1.2v1.2h-1.2zM184.4 204.5h1.2v1.2h-1.2zM184.5 204.2h1.2v1.2h-1.2zM184.0 204.5h1.2v1.2h-1.2zM184.2 204.5h1.2v1.2h-1.2zM182.3 207.3h1.2v1.2h-1.2zM182.4 207.4h1.2v1.2h-1.2zM182.7 207.3h1.2v1.2h-1.2zM182.2 207.1h1.2v1.2h-1.2zM88.1 133.7h1.2v1.2h-1.2zM88.0 133.1h1.2v1.2h-1.2zM92.8 179.8h1.2v1.2h-1.2zM92.4 179.5h1.2v1.2h-1.2zM181.0 205.9h1.2v1.2h-1.2zM181.0 205.1h1.2v1.2h-1.2zM181.4 205.3h1.2v1.2h-1.2zM74.6 142.0h1.2v1.2h-1.2zM183.3 207.0h1.2v1.2h-1.2zM91.7 144.2h1.2v1.2h-1.2zM91.7 144.9h1.2v1.2h-1.2zM92.8 173.1h1.2v1.2h-1.2zM91.7 192.9h1.2v1.2h-1.2zM91.4 192.6h1.2v1.2h-1.2zM91.2 192.5h1.2v1.2h-1.2zM92.6 178.2h1.2v1.2h-1.2zM184.5 207.3h1.2v1.2h-1.2zM80.1 127.5h1.2v1.2h-1.2zM185.6 207.2h1.2v1.2h-1.2zM185.2 207.8h1.2v1.2h-1.2zM181.1 206.6h1.2v1.2h-1.2zM78.9 128.5h1.2v1.2h-1.2zM92.2 159.9h1.2v1.2h-1.2zM82.5 126.9h1.2v1.2h-1.2zM82.2 126.7h1.2v1.2h-1.2zM82.2 126.9h1.2v1.2h-1.2zM80.3 202.5h1.2v1.2h-1.2zM83.5 126.0h1.2v1.2h-1.2zM92.4 172.3h1.2v1.2h-1.2zM92.9 172.2h1.2v1.2h-1.2zM92.9 172.2h1.2v1.2h-1.2zM72.3 173.6h1.2v1.2h-1.2zM72.2 173.1h1.2v1.2h-1.2zM90.9 138.3h1.2v1.2h-1.2zM90.9 139.0h1.2v1.2h-1.2zM91.4 190.6h1.2v1.2h-1.2zM91.1 190.0h1.2v1.2h-1.2zM77.5 129.6h1.2v1.2h-1.2zM78.0 129.6h1.2v1.2h-1.2zM84.1 128.0h1.2v1.2h-1.2zM91.1 188.6h1.2v1.2h-1.2zM91.5 188.3h1.2v1.2h-1.2zM91.9 188.3h1.2v1.2h-1.2zM74.7 192.2h1.2v1.2h-1.2zM76.8 132.4h1.2v1.2h-1.2zM72.6 165.3h1.2v1.2h-1.2zM73.0 165.3h1.2v1.2h-1.2zM72.3 165.7h1.2v1.2h-1.2zM72.5 165.2h1.2v1.2h-1.2zM91.9 192.0h1.2v1.2h-1.2zM91.5 191.5h1.2v1.2h-1.2zM92.4 175.9h1.2v1.2h-1.2zM87.7 131.4h1.2v1.2h-1.2zM87.7 131.8h1.2v1.2h-1.2zM182.6 206.7h1.2v1.2h-1.2zM92.6 176.0h1.2v1.2h-1.2zM92.7 176.2h1.2v1.2h-1.2zM92.0 176.4h1.2v1.2h-1.2zM89.0 134.1h1.2v1.2h-1.2zM186.9 205.0h1.2v1.2h-1.2zM183.2 205.2h1.2v1.2h-1.2zM183.8 205.1h1.2v1.2h-1.2zM73.7 184.0h1.2v1.2h-1.2zM72.1 172.1h1.2v1.2h-1.2zM72.0 172.5h1.2v1.2h-1.2zM72.9 172.5h1.2v1.2h-1.2zM186.2 206.2h1.2v1.2h-1.2zM92.5 171.3h1.2v1.2h-1.2zM93.0 171.6h1.2v1.2h-1.2zM72.7 171.2h1.2v1.2h-1.2zM89.8 198.2h1.2v1.2h-1.2zM89.8 198.7h1.2v1.2h-1.2zM183.3 206.3h1.2v1.2h-1.2zM91.9 145.5h1.2v1.2h-1.2zM77.5 199.7h1.2v1.2h-1.2zM89.1 136.6h1.2v1.2h-1.2zM89.7 136.7h1.2v1.2h-1.2zM184.6 205.6h1.2v1.2h-1.2zM91.2 187.6h1.2v1.2h-1.2zM92.3 161.8h1.2v1.2h-1.2zM90.7 140.6h1.2v1.2h-1.2zM90.9 140.3h1.2v1.2h-1.2zM90.2 140.9h1.2v1.2h-1.2zM185.8 205.9h1.2v1.2h-1.2zM81.9 127.9h1.2v1.2h-1.2zM92.0 164.0h1.2v1.2h-1.2zM86.8 130.0h1.2v1.2h-1.2zM92.6 162.1h1.2v1.2h-1.2zM185.1 207.0h1.2v1.2h-1.2zM185.0 206.8h1.2v1.2h-1.2z" fill="rgb(60,108,216)"/>
<path d="M92.6 164.7h1.2v1.2h-1.2zM74.8 191.7h1.2v1.2h-1.2zM74.6 191.1h1.2v1.2h-1.2zM87.5 132.1h1.2v1.2h-1.2zM87.9 132.3h1.2v1.2h-1.2zM88.8 200.8h1.2v1.2h-1.2zM85.9 129.5h1.2v1.2h-1.2zM74.1 149.9h1.2v1.2h-1.2zM74.4 148.9h1.2v1.2h-1.2zM74.1 148.6h1.2v1.2h-1.2zM77.9 130.6h1.2v1.2h-1.2zM77.5 130.7h1.2v1.2h-1.2zM90.1 141.7h1.2v1.2h-1.2zM84.7 128.2h1.2v1.2h-1.2zM84.9 128.9h1.2v1.2h-1.2zM74.3 150.7h1.2v1.2h-1.2zM74.5 150.2h1.2v1.2h-1.2zM82.9 128.0h1.2v1.2h-1.2zM79.4 201.8h1.2v1.2h-1.2zM76.7 134.4h1.2v1.2h-1.2zM87.3 201.7h1.2v1.2h-1.2zM87.2 201.7h1.2v1.2h-1.2zM75.5 194.1h1.2v1.2h-1.2zM75.3 194.0h1.2v1.2h-1.2zM91.8 146.9h1.2v1.2h-1.2zM78.7 129.5h1.2v1.2h-1.2zM78.4 129.3h1.2v1.2h-1.2zM92.6 165.2h1.2v1.2h-1.2zM78.7 200.2h1.2v1.2h-1.2zM88.7 135.4h1.2v1.2h-1.2zM91.5 186.8h1.2v1.2h-1.2zM85.4 202.5h1.2v1.2h-1.2zM85.3 202.7h1.2v1.2h-1.2zM72.1 160.5h1.2v1.2h-1.2zM76.1 136.0h1.2v1.2h-1.2zM76.8 135.1h1.2v1.2h-1.2zM76.7 135.4h1.2v1.2h-1.2zM80.3 128.6h1.2v1.2h-1.2zM80.8 128.7h1.2v1.2h-1.2zM80.8 128.1h1.2v1.2h-1.2zM80.2 128.8h1.2v1.2h-1.2zM88.0 133.5h1.2v1.2h-1.2zM87.4 133.3h1.2v1.2h-1.2zM73.6 167.7h1.2v1.2h-1.2zM86.7 131.2h1.2v1.2h-1.2zM91.2 154.3h1.2v1.2h-1.2zM91.8 154.7h1.2v1.2h-1.2zM77.5 131.9h1.2v1.2h-1.2zM77.2 131.5h1.2v1.2h-1.2zM76.4 136.1h1.2v1.2h-1.2zM76.1 136.1h1.2v1.2h-1.2zM90.4 194.7h1.2v1.2h-1.2zM92.0 169.7h1.2v1.2h-1.2zM81.4 202.2h1.2v1.2h-1.2zM81.9 202.7h1.2v1.2h-1.2zM73.5 157.7h1.2v1.2h-1.2zM89.9 137.8h1.2v1.2h-1.2zM89.3 137.3h1.2v1.2h-1.2zM89.3 137.4h1.2v1.2h-1.2zM89.3 138.0h1.2v1.2h-1.2zM89.6 137.1h1.2v1.2h-1.2zM89.4 137.7h1.2v1.2h-1.2zM85.4 130.1h1.2v1.2h-1.2zM85.4 130.4h1.2v1.2h-1.2zM85.1 130.3h1.2v1.2h-1.2zM92.2 166.6h1.2v1.2h-1.2zM74.9 154.8h1.2v1.2h-1.2zM83.8 128.6h1.2v1.2h-1.2zM83.6 128.2h1.2v1.2h-1.2zM73.2 181.6h1.2v1.2h-1.2zM91.6 156.3h1.2v1.2h-1.2zM91.4 156.0h1.2v1.2h-1.2zM91.4 156.2h1.2v1.2h-1.2zM74.1 143.4h1.2v1.2h-1.2zM91.4 153.3h1.2v1.2h-1.2zM73.9 176.1h1.2v1.2h-1.2zM73.3 175.0h1.2v1.2h-1.2zM73.1 174.8h1.2v1.2h-1.2zM72.7 161.8h1.2v1.2h-1.2zM91.9 185.0h1.2v1.2h-1.2zM91.9 185.7h1.2v1.2h-1.2zM73.4 169.1h1.2v1.2h-1.2zM91.1 180.0h1.2v1.2h-1.2zM81.4 128.7h1.2v1.2h-1.2zM81.2 128.3h1.2v1.2h-1.2zM72.2 163.5h1.2v1.2h-1.2zM91.8 180.1h1.2v1.2h-1.2zM92.7 168.1h1.2v1.2h-1.2zM92.4 168.7h1.2v1.2h-1.2zM74.9 145.5h1.2v1.2h-1.2zM73.7 177.3h1.2v1.2h-1.2zM73.6 177.2h1.2v1.2h-1.2zM77.6 133.0h1.2v1.2h-1.2zM77.5 132.3h1.2v1.2h-1.2zM78.5 130.3h1.2v1.2h-1.2zM92.5 167.7h1.2v1.2h-1.2zM92.5 168.0h1.2v1.2h-1.2zM92.4 167.8h1.2v1.2h-1.2zM90.1 143.3h1.2v1.2h-1.2zM76.4 138.8h1.2v1.2h-1.2zM75.0 187.4h1.2v1.2h-1.2zM74.3 187.3h1.2v1.2h-1.2zM74.9 187.8h1.2v1.2h-1.2zM82.8 128.7h1.2v1.2h-1.2zM82.7 128.0h1.2v1.2h-1.2zM83.0 128.4h1.2v1.2h-1.2zM74.5 144.3h1.2v1.2h-1.2zM74.6 144.5h1.2v1.2h-1.2zM91.8 157.7h1.2v1.2h-1.2zM91.9 157.5h1.2v1.2h-1.2zM72.1 162.2h1.2v1.2h-1.2zM72.0 162.2h1.2v1.2h-1.2z" fill="rgb(60,120,216)"/>
<path d="M91.4 178.1h1.2v1.2h-1.2zM73.9 180.2h1.2v1.2h-1.2zM91.9 152.3h1.2v1.2h-1.2zM91.2 148.5h1.2v1.2h-1.2zM91.7 148.6h1.2v1.2h-1.2zM91.8 148.6h1.2v1.2h-1.2zM75.8 141.3h1.2v1.2h-1.2zM84.5 202.4h1.2v1.2h-1.2zM73.2 178.2h1.2v1.2h-1.2zM73.1 178.7h1.2v1.2h-1.2zM73.3 179.5h1.2v1.2h-1.2zM91.0 185.0h1.2v1.2h-1.2zM92.0 184.1h1.2v1.2h-1.2zM74.0 170.1h1.2v1.2h-1.2zM73.2 170.7h1.2v1.2h-1.2zM73.2 170.2h1.2v1.2h-1.2zM73.8 172.3h1.2v1.2h-1.2zM73.1 172.7h1.2v1.2h-1.2zM89.1 138.9h1.2v1.2h-1.2zM89.3 138.4h1.2v1.2h-1.2zM89.7 138.2h1.2v1.2h-1.2zM89.2 138.4h1.2v1.2h-1.2zM74.2 155.7h1.2v1.2h-1.2zM75.2 193.2h1.2v1.2h-1.2zM74.7 186.6h1.2v1.2h-1.2zM91.2 182.7h1.2v1.2h-1.2zM91.2 182.2h1.2v1.2h-1.2zM91.4 158.5h1.2v1.2h-1.2zM86.0 131.4h1.2v1.2h-1.2zM91.1 149.6h1.2v1.2h-1.2zM77.5 198.5h1.2v1.2h-1.2zM77.9 198.0h1.2v1.2h-1.2zM77.2 198.6h1.2v1.2h-1.2zM77.1 198.8h1.2v1.2h-1.2zM77.5 134.0h1.2v1.2h-1.2zM78.0 133.7h1.2v1.2h-1.2zM91.2 177.2h1.2v1.2h-1.2zM73.1 158.9h1.2v1.2h-1.2zM73.1 158.6h1.2v1.2h-1.2zM83.7 202.1h1.2v1.2h-1.2zM91.4 150.7h1.2v1.2h-1.2zM83.7 129.1h1.2v1.2h-1.2zM78.2 131.1h1.2v1.2h-1.2zM78.3 131.3h1.2v1.2h-1.2zM78.1 131.5h1.2v1.2h-1.2zM89.7 196.2h1.2v1.2h-1.2zM91.0 144.2h1.2v1.2h-1.2zM88.4 199.3h1.2v1.2h-1.2zM80.0 130.1h1.2v1.2h-1.2zM86.1 133.7h1.2v1.2h-1.2zM86.1 133.5h1.2v1.2h-1.2zM86.5 133.0h1.2v1.2h-1.2zM86.8 133.8h1.2v1.2h-1.2zM91.9 159.4h1.2v1.2h-1.2zM89.9 139.4h1.2v1.2h-1.2zM89.4 139.4h1.2v1.2h-1.2zM87.4 135.9h1.2v1.2h-1.2zM75.0 185.2h1.2v1.2h-1.2zM77.9 134.2h1.2v1.2h-1.2zM77.4 134.8h1.2v1.2h-1.2zM77.9 134.4h1.2v1.2h-1.2zM77.1 134.9h1.2v1.2h-1.2zM80.6 201.2h1.2v1.2h-1.2zM80.9 201.1h1.2v1.2h-1.2zM91.1 175.9h1.2v1.2h-1.2zM91.1 175.8h1.2v1.2h-1.2zM82.3 129.4h1.2v1.2h-1.2zM82.5 129.2h1.2v1.2h-1.2zM82.4 129.5h1.2v1.2h-1.2zM82.5 129.9h1.2v1.2h-1.2zM82.7 129.1h1.2v1.2h-1.2zM82.8 129.6h1.2v1.2h-1.2zM91.3 160.9h1.2v1.2h-1.2zM89.7 140.2h1.2v1.2h-1.2zM73.9 165.5h1.2v1.2h-1.2zM73.8 165.7h1.2v1.2h-1.2zM75.3 142.4h1.2v1.2h-1.2zM87.0 201.5h1.2v1.2h-1.2zM86.9 201.2h1.2v1.2h-1.2zM78.1 132.2h1.2v1.2h-1.2zM91.1 173.7h1.2v1.2h-1.2zM91.3 173.3h1.2v1.2h-1.2zM91.5 173.1h1.2v1.2h-1.2z" fill="rgb(60,132,216)"/>
<path d="M77.0 140.5h1.2v1.2h-1.2zM90.9 145.2h1.2v1.2h-1.2zM91.0 145.9h1.2v1.2h-1.2zM90.5 145.5h1.2v1.2h-1.2zM75.0 156.4h1.2v1.2h-1.2zM74.0 156.1h1.2v1.2h-1.2zM73.1 159.5h1.2v1.2h-1.2zM73.6 159.8h1.2v1.2h-1.2zM80.6 130.6h1.2v1.2h-1.2zM91.2 161.4h1.2v1.2h-1.2zM84.7 131.8h1.2v1.2h-1.2zM84.3 131.9h1.2v1.2h-1.2zM91.9 172.3h1.2v1.2h-1.2zM77.9 135.5h1.2v1.2h-1.2zM77.4 136.0h1.2v1.2h-1.2zM79.3 131.5h1.2v1.2h-1.2zM79.5 131.5h1.2v1.2h-1.2zM79.1 131.2h1.2v1.2h-1.2zM83.5 130.3h1.2v1.2h-1.2zM83.7 130.1h1.2v1.2h-1.2zM84.0 130.6h1.2v1.2h-1.2zM88.8 137.7h1.2v1.2h-1.2zM88.5 137.2h1.2v1.2h-1.2zM89.7 141.6h1.2v1.2h-1.2zM75.3 149.0h1.2v1.2h-1.2zM76.0 150.0h1.2v1.2h-1.2zM75.4 149.9h1.2v1.2h-1.2zM90.8 189.5h1.2v1.2h-1.2zM75.4 192.6h1.2v1.2h-1.2zM76.0 192.6h1.2v1.2h-1.2zM90.8 190.1h1.2v1.2h-1.2zM90.3 191.3h1.2v1.2h-1.2zM90.2 191.7h1.2v1.2h-1.2zM91.7 163.9h1.2v1.2h-1.2zM91.8 163.4h1.2v1.2h-1.2zM75.1 150.6h1.2v1.2h-1.2zM75.3 150.9h1.2v1.2h-1.2zM91.0 188.9h1.2v1.2h-1.2z" fill="rgb(60,144,216)"/>
<path d="M91.8 164.7h1.2v1.2h-1.2zM91.3 164.2h1.2v1.2h-1.2zM91.5 164.9h1.2v1.2h-1.2zM75.3 147.7h1.2v1.2h-1.2zM91.5 171.6h1.2v1.2h-1.2zM91.3 171.9h1.2v1.2h-1.2zM91.4 171.4h1.2v1.2h-1.2zM78.0 133.2h1.2v1.2h-1.2zM87.4 200.3h1.2v1.2h-1.2zM77.7 136.0h1.2v1.2h-1.2zM89.2 195.2h1.2v1.2h-1.2zM89.4 195.1h1.2v1.2h-1.2zM89.8 195.6h1.2v1.2h-1.2zM89.9 195.4h1.2v1.2h-1.2zM75.7 151.7h1.2v1.2h-1.2zM81.8 130.7h1.2v1.2h-1.2zM81.3 130.8h1.2v1.2h-1.2zM82.2 130.9h1.2v1.2h-1.2zM82.4 130.2h1.2v1.2h-1.2zM90.3 146.1h1.2v1.2h-1.2zM90.1 146.4h1.2v1.2h-1.2zM75.6 143.9h1.2v1.2h-1.2zM85.5 133.7h1.2v1.2h-1.2zM87.5 136.7h1.2v1.2h-1.2zM79.0 132.3h1.2v1.2h-1.2zM73.1 160.7h1.2v1.2h-1.2zM91.9 165.8h1.2v1.2h-1.2zM80.9 131.3h1.2v1.2h-1.2zM74.1 175.0h1.2v1.2h-1.2zM74.3 183.3h1.2v1.2h-1.2zM74.0 183.5h1.2v1.2h-1.2zM91.3 170.8h1.2v1.2h-1.2zM77.4 137.9h1.2v1.2h-1.2zM77.6 138.0h1.2v1.2h-1.2zM84.3 132.8h1.2v1.2h-1.2zM73.9 164.5h1.2v1.2h-1.2zM73.3 164.5h1.2v1.2h-1.2zM89.0 198.6h1.2v1.2h-1.2zM88.2 198.8h1.2v1.2h-1.2zM88.5 198.7h1.2v1.2h-1.2zM77.1 197.8h1.2v1.2h-1.2zM74.7 173.4h1.2v1.2h-1.2zM74.1 173.5h1.2v1.2h-1.2zM76.9 141.0h1.2v1.2h-1.2zM75.9 153.5h1.2v1.2h-1.2zM75.7 153.9h1.2v1.2h-1.2zM75.9 191.1h1.2v1.2h-1.2zM75.3 191.1h1.2v1.2h-1.2zM75.8 192.0h1.2v1.2h-1.2zM75.9 191.3h1.2v1.2h-1.2zM90.8 179.8h1.2v1.2h-1.2zM90.2 179.7h1.2v1.2h-1.2zM90.1 179.2h1.2v1.2h-1.2zM78.3 134.3h1.2v1.2h-1.2zM90.4 155.3h1.2v1.2h-1.2zM75.0 176.3h1.2v1.2h-1.2zM74.3 176.2h1.2v1.2h-1.2zM74.3 176.2h1.2v1.2h-1.2zM74.8 158.0h1.2v1.2h-1.2zM75.4 144.4h1.2v1.2h-1.2zM75.4 144.9h1.2v1.2h-1.2zM75.9 144.7h1.2v1.2h-1.2zM88.8 138.7h1.2v1.2h-1.2zM90.9 154.8h1.2v1.2h-1.2zM90.9 154.2h1.2v1.2h-1.2zM90.4 154.2h1.2v1.2h-1.2zM91.0 154.5h1.2v1.2h-1.2z" fill="rgb(60,144,228)"/>
<path d="M74.6 168.2h1.2v1.2h-1.2zM77.2 138.8h1.2v1.2h-1.2zM77.6 138.3h1.2v1.2h-1.2zM90.1 147.8h1.2v1.2h-1.2zM90.4 147.4h1.2v1.2h-1.2zM81.1 131.9h1.2v1.2h-1.2zM81.5 131.9h1.2v1.2h-1.2zM81.9 131.9h1.2v1.2h-1.2zM81.9 132.0h1.2v1.2h-1.2zM91.8 166.3h1.2v1.2h-1.2zM91.3 167.0h1.2v1.2h-1.2zM90.6 156.5h1.2v1.2h-1.2zM76.5 194.0h1.2v1.2h-1.2zM82.6 131.1h1.2v1.2h-1.2zM83.0 131.7h1.2v1.2h-1.2zM82.0 201.7h1.2v1.2h-1.2zM81.9 201.6h1.2v1.2h-1.2zM81.9 201.6h1.2v1.2h-1.2zM73.6 161.0h1.2v1.2h-1.2zM73.9 161.4h1.2v1.2h-1.2zM79.3 133.0h1.2v1.2h-1.2zM80.0 133.9h1.2v1.2h-1.2zM89.7 143.3h1.2v1.2h-1.2zM80.6 132.8h1.2v1.2h-1.2zM80.9 132.2h1.2v1.2h-1.2zM74.9 169.2h1.2v1.2h-1.2zM74.1 169.9h1.2v1.2h-1.2zM75.6 154.2h1.2v1.2h-1.2zM75.2 154.0h1.2v1.2h-1.2zM74.5 177.6h1.2v1.2h-1.2zM86.0 201.4h1.2v1.2h-1.2zM90.4 186.5h1.2v1.2h-1.2zM90.7 186.0h1.2v1.2h-1.2zM90.9 186.3h1.2v1.2h-1.2zM90.2 186.7h1.2v1.2h-1.2zM73.9 163.5h1.2v1.2h-1.2zM73.4 163.9h1.2v1.2h-1.2zM73.6 163.6h1.2v1.2h-1.2zM74.7 171.6h1.2v1.2h-1.2zM90.8 157.1h1.2v1.2h-1.2zM90.3 157.1h1.2v1.2h-1.2zM75.7 190.5h1.2v1.2h-1.2zM91.4 167.7h1.2v1.2h-1.2zM91.9 167.8h1.2v1.2h-1.2zM91.9 167.2h1.2v1.2h-1.2zM91.3 167.2h1.2v1.2h-1.2zM83.6 132.9h1.2v1.2h-1.2zM83.8 132.8h1.2v1.2h-1.2zM83.1 132.4h1.2v1.2h-1.2zM83.2 132.4h1.2v1.2h-1.2zM84.0 132.9h1.2v1.2h-1.2zM83.9 132.9h1.2v1.2h-1.2zM83.1 132.8h1.2v1.2h-1.2zM74.5 170.6h1.2v1.2h-1.2zM74.3 170.0h1.2v1.2h-1.2zM74.3 170.8h1.2v1.2h-1.2zM73.6 162.1h1.2v1.2h-1.2zM73.6 162.0h1.2v1.2h-1.2zM77.3 139.5h1.2v1.2h-1.2zM85.7 134.9h1.2v1.2h-1.2zM85.6 135.0h1.2v1.2h-1.2zM90.9 181.1h1.2v1.2h-1.2zM84.0 133.4h1.2v1.2h-1.2zM78.3 135.5h1.2v1.2h-1.2zM78.6 135.4h1.2v1.2h-1.2zM89.5 194.3h1.2v1.2h-1.2zM90.6 148.2h1.2v1.2h-1.2zM90.2 148.6h1.2v1.2h-1.2zM74.7 178.1h1.2v1.2h-1.2zM74.7 178.3h1.2v1.2h-1.2zM81.9 132.1h1.2v1.2h-1.2zM81.8 132.9h1.2v1.2h-1.2zM74.8 181.9h1.2v1.2h-1.2zM88.5 139.3h1.2v1.2h-1.2zM90.4 152.1h1.2v1.2h-1.2zM90.1 152.3h1.2v1.2h-1.2zM90.9 152.4h1.2v1.2h-1.2zM75.9 190.0h1.2v1.2h-1.2zM90.7 177.5h1.2v1.2h-1.2zM90.3 177.0h1.2v1.2h-1.2zM82.1 132.6h1.2v1.2h-1.2zM90.6 158.1h1.2v1.2h-1.2zM74.9 166.6h1.2v1.2h-1.2zM80.3 133.8h1.2v1.2h-1.2zM80.4 133.1h1.2v1.2h-1.2zM80.1 133.3h1.2v1.2h-1.2zM87.7 137.3h1.2v1.2h-1.2zM74.0 179.5h1.2v1.2h-1.2zM76.6 142.7h1.2v1.2h-1.2zM76.5 142.3h1.2v1.2h-1.2zM76.5 142.7h1.2v1.2h-1.2zM76.2 142.4h1.2v1.2h-1.2zM74.7 180.9h1.2v1.2h-1.2zM89.0 144.8h1.2v1.2h-1.2zM89.5 144.8h1.2v1.2h-1.2zM89.2 144.5h1.2v1.2h-1.2zM89.2 144.3h1.2v1.2h-1.2zM89.1 144.7h1.2v1.2h-1.2zM89.6 144.9h1.2v1.2h-1.2zM75.3 155.3h1.2v1.2h-1.2zM90.1 185.9h1.2v1.2h-1.2zM75.2 188.7h1.2v1.2h-1.2zM75.6 188.2h1.2v1.2h-1.2zM88.8 197.1h1.2v1.2h-1.2zM88.3 197.5h1.2v1.2h-1.2zM74.6 158.9h1.2v1.2h-1.2zM74.7 158.2h1.2v1.2h-1.2zM90.3 149.7h1.2v1.2h-1.2zM90.7 149.5h1.2v1.2h-1.2zM90.7 149.9h1.2v1.2h-1.2zM90.3 149.9h1.2v1.2h-1.2zM91.0 149.0h1.2v1.2h-1.2zM90.8 151.4h1.2v1.2h-1.2zM90.3 151.6h1.2v1.2h-1.2zM90.4 182.2h1.2v1.2h-1.2zM90.9 182.7h1.2v1.2h-1.2zM90.3 182.6h1.2v1.2h-1.2zM90.3 183.0h1.2v1.2h-1.2zM77.6 140.3h1.2v1.2h-1.2zM77.6 140.9h1.2v1.2h-1.2z" fill="rgb(60,156,228)"/>
<path d="M82.4 201.4h1.2v1.2h-1.2zM82.3 201.3h1.2v1.2h-1.2zM90.4 150.4h1.2v1.2h-1.2zM88.7 140.7h1.2v1.2h-1.2zM88.8 140.1h1.2v1.2h-1.2zM88.8 140.4h1.2v1.2h-1.2zM83.9 133.0h1.2v1.2h-1.2zM90.8 159.6h1.2v1.2h-1.2zM90.8 159.4h1.2v1.2h-1.2zM90.0 159.3h1.2v1.2h-1.2zM90.4 159.8h1.2v1.2h-1.2zM78.3 136.2h1.2v1.2h-1.2zM78.3 136.6h1.2v1.2h-1.2zM78.2 136.2h1.2v1.2h-1.2zM81.4 133.3h1.2v1.2h-1.2zM81.1 133.1h1.2v1.2h-1.2zM84.1 201.7h1.2v1.2h-1.2zM84.9 201.2h1.2v1.2h-1.2zM76.0 187.5h1.2v1.2h-1.2zM90.2 176.1h1.2v1.2h-1.2zM90.4 176.6h1.2v1.2h-1.2zM77.6 196.2h1.2v1.2h-1.2zM77.1 196.0h1.2v1.2h-1.2zM86.0 136.8h1.2v1.2h-1.2zM90.7 183.5h1.2v1.2h-1.2zM90.0 183.5h1.2v1.2h-1.2zM90.9 183.9h1.2v1.2h-1.2zM90.3 183.2h1.2v1.2h-1.2zM82.9 133.1h1.2v1.2h-1.2zM80.3 200.8h1.2v1.2h-1.2zM80.5 200.3h1.2v1.2h-1.2zM80.0 134.5h1.2v1.2h-1.2zM83.9 201.8h1.2v1.2h-1.2zM83.2 201.6h1.2v1.2h-1.2zM83.4 201.6h1.2v1.2h-1.2zM83.9 201.9h1.2v1.2h-1.2zM83.2 201.2h1.2v1.2h-1.2zM83.5 201.6h1.2v1.2h-1.2zM78.6 198.5h1.2v1.2h-1.2zM78.9 198.7h1.2v1.2h-1.2zM76.5 193.2h1.2v1.2h-1.2zM84.9 134.5h1.2v1.2h-1.2zM85.0 134.7h1.2v1.2h-1.2zM84.1 134.8h1.2v1.2h-1.2zM84.4 134.4h1.2v1.2h-1.2zM84.3 134.8h1.2v1.2h-1.2zM85.0 134.9h1.2v1.2h-1.2zM84.3 134.1h1.2v1.2h-1.2zM84.7 134.3h1.2v1.2h-1.2zM85.9 135.5h1.2v1.2h-1.2zM85.3 135.7h1.2v1.2h-1.2zM85.6 135.3h1.2v1.2h-1.2zM89.8 145.2h1.2v1.2h-1.2zM90.9 160.1h1.2v1.2h-1.2zM91.0 160.8h1.2v1.2h-1.2zM90.1 160.7h1.2v1.2h-1.2zM90.5 160.5h1.2v1.2h-1.2zM89.9 193.7h1.2v1.2h-1.2zM89.4 193.5h1.2v1.2h-1.2zM79.5 135.4h1.2v1.2h-1.2zM79.9 135.7h1.2v1.2h-1.2zM79.4 136.0h1.2v1.2h-1.2zM88.2 141.7h1.2v1.2h-1.2zM88.5 141.8h1.2v1.2h-1.2zM76.8 143.6h1.2v1.2h-1.2zM76.6 143.7h1.2v1.2h-1.2zM76.8 143.1h1.2v1.2h-1.2zM76.5 148.9h1.2v1.2h-1.2zM76.1 148.6h1.2v1.2h-1.2zM76.1 149.8h1.2v1.2h-1.2zM76.5 149.5h1.2v1.2h-1.2zM76.7 149.6h1.2v1.2h-1.2zM90.4 175.7h1.2v1.2h-1.2zM90.8 175.9h1.2v1.2h-1.2zM90.3 175.1h1.2v1.2h-1.2zM90.2 175.0h1.2v1.2h-1.2zM78.7 137.5h1.2v1.2h-1.2zM78.7 137.6h1.2v1.2h-1.2zM86.5 200.5h1.2v1.2h-1.2zM87.0 200.5h1.2v1.2h-1.2zM86.5 200.1h1.2v1.2h-1.2zM86.5 200.4h1.2v1.2h-1.2zM86.6 200.5h1.2v1.2h-1.2zM74.4 159.3h1.2v1.2h-1.2zM74.1 159.5h1.2v1.2h-1.2zM74.3 165.8h1.2v1.2h-1.2zM74.7 165.6h1.2v1.2h-1.2zM75.8 157.0h1.2v1.2h-1.2zM77.3 141.5h1.2v1.2h-1.2zM77.4 141.6h1.2v1.2h-1.2zM77.1 141.3h1.2v1.2h-1.2zM78.0 141.1h1.2v1.2h-1.2zM76.7 147.1h1.2v1.2h-1.2zM76.5 147.3h1.2v1.2h-1.2zM76.6 147.1h1.2v1.2h-1.2zM76.6 147.1h1.2v1.2h-1.2zM77.0 150.6h1.2v1.2h-1.2zM81.5 134.9h1.2v1.2h-1.2zM81.2 134.3h1.2v1.2h-1.2zM81.5 134.9h1.2v1.2h-1.2zM81.9 134.5h1.2v1.2h-1.2zM90.0 174.5h1.2v1.2h-1.2zM87.7 138.7h1.2v1.2h-1.2zM90.4 161.1h1.2v1.2h-1.2zM79.8 199.8h1.2v1.2h-1.2zM79.9 199.4h1.2v1.2h-1.2zM79.4 199.3h1.2v1.2h-1.2zM79.2 199.9h1.2v1.2h-1.2zM88.0 196.8h1.2v1.2h-1.2zM76.5 146.1h1.2v1.2h-1.2zM76.9 146.9h1.2v1.2h-1.2zM76.4 146.5h1.2v1.2h-1.2zM76.9 146.3h1.2v1.2h-1.2zM78.7 138.1h1.2v1.2h-1.2zM79.0 138.1h1.2v1.2h-1.2zM78.6 138.7h1.2v1.2h-1.2zM76.0 144.3h1.2v1.2h-1.2zM76.1 144.3h1.2v1.2h-1.2zM82.9 134.2h1.2v1.2h-1.2z" fill="rgb(60,168,228)"/>
<path d="M89.0 142.9h1.2v1.2h-1.2zM88.1 142.6h1.2v1.2h-1.2zM90.7 162.4h1.2v1.2h-1.2zM90.5 162.7h1.2v1.2h-1.2zM90.4 162.9h1.2v1.2h-1.2zM90.6 162.0h1.2v1.2h-1.2zM90.0 162.7h1.2v1.2h-1.2zM76.2 145.5h1.2v1.2h-1.2zM76.8 145.5h1.2v1.2h-1.2zM76.2 145.9h1.2v1.2h-1.2zM76.1 145.3h1.2v1.2h-1.2zM76.6 151.7h1.2v1.2h-1.2zM76.8 151.0h1.2v1.2h-1.2zM75.8 185.8h1.2v1.2h-1.2zM75.4 185.7h1.2v1.2h-1.2zM75.6 185.6h1.2v1.2h-1.2zM75.6 186.0h1.2v1.2h-1.2zM75.8 185.3h1.2v1.2h-1.2zM89.4 192.4h1.2v1.2h-1.2zM89.3 192.4h1.2v1.2h-1.2zM89.7 192.8h1.2v1.2h-1.2zM80.3 135.0h1.2v1.2h-1.2zM80.3 135.5h1.2v1.2h-1.2z" fill="rgb(60,180,228)"/>
<path d="M74.0 160.9h1.2v1.2h-1.2zM74.9 160.4h1.2v1.2h-1.2zM74.6 160.9h1.2v1.2h-1.2zM75.8 174.6h1.2v1.2h-1.2zM78.6 140.0h1.2v1.2h-1.2zM78.4 139.5h1.2v1.2h-1.2zM79.1 137.0h1.2v1.2h-1.2zM79.8 136.4h1.2v1.2h-1.2zM75.3 173.4h1.2v1.2h-1.2zM75.5 173.6h1.2v1.2h-1.2zM89.7 190.6h1.2v1.2h-1.2zM89.2 190.1h1.2v1.2h-1.2zM89.2 190.0h1.2v1.2h-1.2zM89.2 191.3h1.2v1.2h-1.2zM89.2 191.9h1.2v1.2h-1.2zM90.9 171.8h1.2v1.2h-1.2zM90.2 171.3h1.2v1.2h-1.2zM75.8 175.7h1.2v1.2h-1.2zM76.0 175.5h1.2v1.2h-1.2zM76.0 176.0h1.2v1.2h-1.2zM75.0 175.8h1.2v1.2h-1.2zM75.2 175.1h1.2v1.2h-1.2zM76.7 152.3h1.2v1.2h-1.2zM77.0 152.1h1.2v1.2h-1.2zM76.1 152.3h1.2v1.2h-1.2zM76.8 152.1h1.2v1.2h-1.2zM76.4 152.1h1.2v1.2h-1.2zM76.2 152.4h1.2v1.2h-1.2zM86.7 138.0h1.2v1.2h-1.2zM86.2 137.9h1.2v1.2h-1.2zM84.3 135.6h1.2v1.2h-1.2zM77.7 142.5h1.2v1.2h-1.2zM77.8 142.3h1.2v1.2h-1.2zM74.2 164.5h1.2v1.2h-1.2zM75.0 164.2h1.2v1.2h-1.2zM74.0 165.0h1.2v1.2h-1.2zM74.3 164.4h1.2v1.2h-1.2zM75.0 173.0h1.2v1.2h-1.2zM75.1 157.2h1.2v1.2h-1.2zM76.0 158.0h1.2v1.2h-1.2zM75.7 157.5h1.2v1.2h-1.2zM75.2 157.4h1.2v1.2h-1.2zM75.3 157.0h1.2v1.2h-1.2zM90.3 170.8h1.2v1.2h-1.2zM90.5 170.6h1.2v1.2h-1.2zM78.7 140.9h1.2v1.2h-1.2zM78.4 140.6h1.2v1.2h-1.2zM78.7 140.7h1.2v1.2h-1.2zM78.5 140.1h1.2v1.2h-1.2zM85.8 136.7h1.2v1.2h-1.2zM85.7 136.5h1.2v1.2h-1.2zM85.6 136.3h1.2v1.2h-1.2zM89.2 188.7h1.2v1.2h-1.2zM88.4 143.6h1.2v1.2h-1.2zM88.1 143.4h1.2v1.2h-1.2zM89.3 147.6h1.2v1.2h-1.2zM89.0 148.0h1.2v1.2h-1.2zM89.4 147.8h1.2v1.2h-1.2zM87.9 139.1h1.2v1.2h-1.2zM76.1 153.9h1.2v1.2h-1.2zM76.9 153.4h1.2v1.2h-1.2zM76.5 153.5h1.2v1.2h-1.2zM74.2 161.4h1.2v1.2h-1.2zM74.3 161.9h1.2v1.2h-1.2zM75.0 161.2h1.2v1.2h-1.2zM75.1 184.6h1.2v1.2h-1.2zM75.1 184.2h1.2v1.2h-1.2zM75.9 184.1h1.2v1.2h-1.2zM75.3 184.8h1.2v1.2h-1.2zM90.5 166.5h1.2v1.2h-1.2zM90.7 166.6h1.2v1.2h-1.2zM90.7 166.1h1.2v1.2h-1.2zM90.0 166.4h1.2v1.2h-1.2zM82.1 135.1h1.2v1.2h-1.2zM82.8 135.7h1.2v1.2h-1.2zM82.6 135.6h1.2v1.2h-1.2zM82.7 135.8h1.2v1.2h-1.2zM91.0 169.4h1.2v1.2h-1.2zM90.1 169.9h1.2v1.2h-1.2zM90.4 169.5h1.2v1.2h-1.2zM83.1 135.7h1.2v1.2h-1.2zM79.3 137.3h1.2v1.2h-1.2zM79.0 137.1h1.2v1.2h-1.2zM79.1 137.4h1.2v1.2h-1.2zM81.7 200.6h1.2v1.2h-1.2zM81.5 200.1h1.2v1.2h-1.2zM81.3 200.1h1.2v1.2h-1.2zM81.7 200.3h1.2v1.2h-1.2zM75.3 172.0h1.2v1.2h-1.2zM75.8 171.1h1.2v1.2h-1.2zM75.8 171.9h1.2v1.2h-1.2zM90.0 155.6h1.2v1.2h-1.2zM88.2 195.3h1.2v1.2h-1.2zM88.7 195.3h1.2v1.2h-1.2zM80.0 136.9h1.2v1.2h-1.2zM80.1 136.5h1.2v1.2h-1.2zM80.6 136.0h1.2v1.2h-1.2zM80.7 136.0h1.2v1.2h-1.2zM74.3 163.7h1.2v1.2h-1.2zM89.8 180.3h1.2v1.2h-1.2zM89.0 154.3h1.2v1.2h-1.2zM90.8 167.3h1.2v1.2h-1.2zM90.5 167.4h1.2v1.2h-1.2zM90.9 167.7h1.2v1.2h-1.2zM74.7 162.0h1.2v1.2h-1.2zM91.0 168.3h1.2v1.2h-1.2zM90.3 168.3h1.2v1.2h-1.2zM90.2 169.0h1.2v1.2h-1.2zM90.6 169.0h1.2v1.2h-1.2zM76.2 154.6h1.2v1.2h-1.2zM89.4 178.7h1.2v1.2h-1.2zM89.8 178.9h1.2v1.2h-1.2zM89.2 178.1h1.2v1.2h-1.2zM75.5 170.6h1.2v1.2h-1.2zM75.7 170.9h1.2v1.2h-1.2zM75.4 170.0h1.2v1.2h-1.2zM77.0 143.6h1.2v1.2h-1.2zM77.7 143.1h1.2v1.2h-1.2zM77.5 143.0h1.2v1.2h-1.2zM77.2 143.3h1.2v1.2h-1.2zM75.3 168.9h1.2v1.2h-1.2zM89.3 187.3h1.2v1.2h-1.2zM89.8 187.7h1.2v1.2h-1.2zM78.7 141.5h1.2v1.2h-1.2zM78.9 141.5h1.2v1.2h-1.2zM78.6 141.8h1.2v1.2h-1.2z" fill="rgb(60,180,216)"/>
<path d="M75.0 177.8h1.2v1.2h-1.2zM75.1 177.5h1.2v1.2h-1.2zM85.8 200.6h1.2v1.2h-1.2zM85.9 200.9h1.2v1.2h-1.2zM85.9 200.6h1.2v1.2h-1.2zM75.2 169.9h1.2v1.2h-1.2zM75.1 169.1h1.2v1.2h-1.2zM75.0 169.5h1.2v1.2h-1.2zM75.7 169.2h1.2v1.2h-1.2zM75.2 169.4h1.2v1.2h-1.2zM89.8 148.0h1.2v1.2h-1.2zM89.9 157.4h1.2v1.2h-1.2zM89.3 157.4h1.2v1.2h-1.2zM89.6 157.0h1.2v1.2h-1.2zM89.9 157.7h1.2v1.2h-1.2zM88.5 144.9h1.2v1.2h-1.2zM88.7 144.1h1.2v1.2h-1.2zM88.6 144.3h1.2v1.2h-1.2zM88.6 144.4h1.2v1.2h-1.2zM79.2 138.5h1.2v1.2h-1.2zM79.4 138.8h1.2v1.2h-1.2zM79.4 138.3h1.2v1.2h-1.2zM79.9 138.3h1.2v1.2h-1.2zM79.9 138.4h1.2v1.2h-1.2zM79.2 138.3h1.2v1.2h-1.2zM79.8 138.4h1.2v1.2h-1.2zM79.7 138.1h1.2v1.2h-1.2zM79.7 138.6h1.2v1.2h-1.2zM78.3 197.6h1.2v1.2h-1.2zM78.7 197.5h1.2v1.2h-1.2zM78.5 197.6h1.2v1.2h-1.2zM78.2 197.2h1.2v1.2h-1.2zM87.5 140.6h1.2v1.2h-1.2zM87.5 140.2h1.2v1.2h-1.2zM75.2 183.7h1.2v1.2h-1.2zM81.4 136.9h1.2v1.2h-1.2zM81.1 136.3h1.2v1.2h-1.2zM75.9 158.8h1.2v1.2h-1.2zM75.2 158.2h1.2v1.2h-1.2zM75.8 158.6h1.2v1.2h-1.2zM89.1 181.2h1.2v1.2h-1.2zM89.1 181.7h1.2v1.2h-1.2zM89.2 181.7h1.2v1.2h-1.2zM76.2 191.5h1.2v1.2h-1.2zM76.9 191.5h1.2v1.2h-1.2zM76.3 191.5h1.2v1.2h-1.2zM89.2 158.2h1.2v1.2h-1.2zM89.3 158.8h1.2v1.2h-1.2zM76.0 156.0h1.2v1.2h-1.2zM76.2 155.3h1.2v1.2h-1.2zM76.7 155.5h1.2v1.2h-1.2zM84.9 136.0h1.2v1.2h-1.2zM84.2 136.7h1.2v1.2h-1.2zM84.3 136.6h1.2v1.2h-1.2zM84.2 136.7h1.2v1.2h-1.2zM84.4 136.9h1.2v1.2h-1.2zM79.1 139.2h1.2v1.2h-1.2zM79.1 139.6h1.2v1.2h-1.2zM75.0 178.3h1.2v1.2h-1.2zM75.1 178.5h1.2v1.2h-1.2zM75.1 178.9h1.2v1.2h-1.2zM75.5 178.7h1.2v1.2h-1.2zM89.1 149.8h1.2v1.2h-1.2zM89.0 149.2h1.2v1.2h-1.2zM77.6 144.5h1.2v1.2h-1.2zM77.8 144.5h1.2v1.2h-1.2zM77.4 144.3h1.2v1.2h-1.2zM80.1 137.7h1.2v1.2h-1.2zM89.9 177.6h1.2v1.2h-1.2zM89.6 178.0h1.2v1.2h-1.2zM77.8 194.3h1.2v1.2h-1.2zM78.0 194.0h1.2v1.2h-1.2zM89.0 186.5h1.2v1.2h-1.2zM89.1 186.9h1.2v1.2h-1.2zM82.1 136.1h1.2v1.2h-1.2zM82.9 136.5h1.2v1.2h-1.2zM89.8 151.6h1.2v1.2h-1.2zM89.9 151.1h1.2v1.2h-1.2zM89.2 151.1h1.2v1.2h-1.2zM89.9 151.4h1.2v1.2h-1.2zM89.3 151.4h1.2v1.2h-1.2zM89.3 151.3h1.2v1.2h-1.2zM75.4 166.3h1.2v1.2h-1.2zM75.8 166.5h1.2v1.2h-1.2zM75.7 166.3h1.2v1.2h-1.2zM78.1 142.2h1.2v1.2h-1.2zM78.7 142.5h1.2v1.2h-1.2zM85.0 137.9h1.2v1.2h-1.2zM85.2 137.5h1.2v1.2h-1.2zM85.6 137.5h1.2v1.2h-1.2zM85.5 137.1h1.2v1.2h-1.2zM85.3 137.2h1.2v1.2h-1.2zM82.9 200.4h1.2v1.2h-1.2zM83.0 200.4h1.2v1.2h-1.2zM82.4 200.8h1.2v1.2h-1.2zM89.2 150.5h1.2v1.2h-1.2zM89.2 150.9h1.2v1.2h-1.2zM86.5 199.1h1.2v1.2h-1.2zM86.7 199.2h1.2v1.2h-1.2zM86.4 199.3h1.2v1.2h-1.2zM86.7 199.2h1.2v1.2h-1.2zM86.9 199.7h1.2v1.2h-1.2zM77.8 145.4h1.2v1.2h-1.2zM77.8 145.5h1.2v1.2h-1.2zM77.6 148.4h1.2v1.2h-1.2zM75.7 182.6h1.2v1.2h-1.2zM75.6 182.7h1.2v1.2h-1.2zM75.7 182.4h1.2v1.2h-1.2zM88.3 146.0h1.2v1.2h-1.2zM88.4 145.4h1.2v1.2h-1.2zM83.7 136.7h1.2v1.2h-1.2zM77.7 147.3h1.2v1.2h-1.2zM87.6 141.8h1.2v1.2h-1.2zM90.0 159.1h1.2v1.2h-1.2zM89.2 159.0h1.2v1.2h-1.2zM89.3 159.4h1.2v1.2h-1.2zM78.0 146.6h1.2v1.2h-1.2zM77.2 146.3h1.2v1.2h-1.2zM77.2 146.6h1.2v1.2h-1.2zM80.3 199.7h1.2v1.2h-1.2zM88.4 194.6h1.2v1.2h-1.2zM75.0 179.8h1.2v1.2h-1.2zM75.6 179.8h1.2v1.2h-1.2zM77.5 149.3h1.2v1.2h-1.2zM77.8 149.3h1.2v1.2h-1.2zM85.0 200.3h1.2v1.2h-1.2zM76.2 190.8h1.2v1.2h-1.2zM89.1 182.8h1.2v1.2h-1.2zM89.8 182.6h1.2v1.2h-1.2z" fill="rgb(60,180,204)"/>
<path d="M80.0 138.4h1.2v1.2h-1.2zM80.8 138.1h1.2v1.2h-1.2zM75.9 181.6h1.2v1.2h-1.2zM75.3 181.3h1.2v1.2h-1.2zM75.9 181.0h1.2v1.2h-1.2zM87.3 198.0h1.2v1.2h-1.2zM87.8 197.3h1.2v1.2h-1.2zM87.4 197.9h1.2v1.2h-1.2zM75.8 180.8h1.2v1.2h-1.2zM75.9 180.5h1.2v1.2h-1.2zM83.7 200.3h1.2v1.2h-1.2zM83.1 200.6h1.2v1.2h-1.2zM81.4 137.4h1.2v1.2h-1.2zM81.7 137.2h1.2v1.2h-1.2zM79.5 198.9h1.2v1.2h-1.2zM79.1 198.8h1.2v1.2h-1.2zM79.3 198.8h1.2v1.2h-1.2zM76.9 156.0h1.2v1.2h-1.2zM76.3 156.3h1.2v1.2h-1.2zM76.5 189.1h1.2v1.2h-1.2zM76.5 189.0h1.2v1.2h-1.2zM77.2 150.1h1.2v1.2h-1.2zM89.0 185.7h1.2v1.2h-1.2zM89.1 176.3h1.2v1.2h-1.2zM89.2 176.3h1.2v1.2h-1.2zM79.5 141.0h1.2v1.2h-1.2zM79.8 141.4h1.2v1.2h-1.2zM79.7 141.1h1.2v1.2h-1.2zM90.0 160.2h1.2v1.2h-1.2zM76.4 188.8h1.2v1.2h-1.2zM76.2 189.0h1.2v1.2h-1.2zM87.6 142.7h1.2v1.2h-1.2zM87.3 142.4h1.2v1.2h-1.2zM78.7 143.9h1.2v1.2h-1.2zM80.5 139.7h1.2v1.2h-1.2zM80.2 139.3h1.2v1.2h-1.2zM80.7 139.2h1.2v1.2h-1.2zM89.7 183.7h1.2v1.2h-1.2zM89.1 183.8h1.2v1.2h-1.2zM88.1 146.4h1.2v1.2h-1.2zM75.9 165.1h1.2v1.2h-1.2zM76.0 165.3h1.2v1.2h-1.2zM89.4 184.1h1.2v1.2h-1.2zM89.4 184.1h1.2v1.2h-1.2zM89.2 184.8h1.2v1.2h-1.2zM86.0 139.2h1.2v1.2h-1.2zM86.9 139.7h1.2v1.2h-1.2zM86.9 139.9h1.2v1.2h-1.2zM86.6 139.8h1.2v1.2h-1.2zM86.2 139.8h1.2v1.2h-1.2zM76.7 187.1h1.2v1.2h-1.2zM76.3 187.1h1.2v1.2h-1.2zM76.7 187.1h1.2v1.2h-1.2zM77.5 151.4h1.2v1.2h-1.2zM77.4 151.3h1.2v1.2h-1.2zM82.0 137.8h1.2v1.2h-1.2zM82.6 137.9h1.2v1.2h-1.2zM82.6 138.0h1.2v1.2h-1.2zM82.0 137.5h1.2v1.2h-1.2zM82.4 137.9h1.2v1.2h-1.2zM84.8 137.1h1.2v1.2h-1.2zM84.2 137.3h1.2v1.2h-1.2zM84.9 137.4h1.2v1.2h-1.2zM84.3 137.0h1.2v1.2h-1.2zM75.5 160.3h1.2v1.2h-1.2zM76.0 160.6h1.2v1.2h-1.2zM75.7 160.5h1.2v1.2h-1.2zM75.5 160.9h1.2v1.2h-1.2zM75.7 160.5h1.2v1.2h-1.2zM89.6 175.1h1.2v1.2h-1.2zM80.3 141.0h1.2v1.2h-1.2zM81.6 138.2h1.2v1.2h-1.2zM88.7 193.8h1.2v1.2h-1.2z" fill="rgb(60,180,192)"/>
<path d="M83.0 137.2h1.2v1.2h-1.2zM84.0 137.8h1.2v1.2h-1.2zM83.3 137.2h1.2v1.2h-1.2zM83.3 137.4h1.2v1.2h-1.2zM79.5 142.6h1.2v1.2h-1.2zM79.7 142.7h1.2v1.2h-1.2zM85.5 138.3h1.2v1.2h-1.2zM77.8 193.6h1.2v1.2h-1.2zM77.5 193.4h1.2v1.2h-1.2zM76.7 186.5h1.2v1.2h-1.2zM76.9 186.7h1.2v1.2h-1.2zM76.1 186.3h1.2v1.2h-1.2zM76.1 186.1h1.2v1.2h-1.2zM76.2 186.6h1.2v1.2h-1.2zM87.6 143.6h1.2v1.2h-1.2zM87.1 143.7h1.2v1.2h-1.2zM87.7 143.5h1.2v1.2h-1.2zM87.2 143.9h1.2v1.2h-1.2z" fill="rgb(60,192,192)"/>
<path d="M89.1 162.1h1.2v1.2h-1.2zM89.5 162.6h1.2v1.2h-1.2zM89.4 162.6h1.2v1.2h-1.2zM89.2 162.5h1.2v1.2h-1.2zM77.9 152.6h1.2v1.2h-1.2zM77.4 152.6h1.2v1.2h-1.2zM78.4 144.6h1.2v1.2h-1.2zM78.3 144.6h1.2v1.2h-1.2zM79.0 144.8h1.2v1.2h-1.2zM79.0 144.1h1.2v1.2h-1.2zM78.1 144.2h1.2v1.2h-1.2zM89.2 163.9h1.2v1.2h-1.2zM89.8 163.0h1.2v1.2h-1.2zM89.7 163.6h1.2v1.2h-1.2zM89.9 163.1h1.2v1.2h-1.2zM89.7 163.2h1.2v1.2h-1.2zM90.0 174.0h1.2v1.2h-1.2zM89.3 174.5h1.2v1.2h-1.2zM89.8 174.5h1.2v1.2h-1.2zM76.6 157.4h1.2v1.2h-1.2zM76.3 157.8h1.2v1.2h-1.2zM88.9 147.1h1.2v1.2h-1.2zM88.1 147.7h1.2v1.2h-1.2zM88.5 147.8h1.2v1.2h-1.2zM88.2 147.2h1.2v1.2h-1.2zM88.7 147.2h1.2v1.2h-1.2zM76.8 174.7h1.2v1.2h-1.2zM76.7 174.1h1.2v1.2h-1.2zM76.8 174.3h1.2v1.2h-1.2zM76.9 174.2h1.2v1.2h-1.2zM76.1 174.2h1.2v1.2h-1.2zM76.6 173.1h1.2v1.2h-1.2zM76.4 173.8h1.2v1.2h-1.2zM76.3 173.5h1.2v1.2h-1.2zM76.4 173.6h1.2v1.2h-1.2zM89.7 165.9h1.2v1.2h-1.2zM89.5 165.7h1.2v1.2h-1.2zM89.6 165.8h1.2v1.2h-1.2zM75.8 161.7h1.2v1.2h-1.2zM75.1 164.5h1.2v1.2h-1.2zM75.4 164.1h1.2v1.2h-1.2zM76.0 164.3h1.2v1.2h-1.2zM75.1 164.7h1.2v1.2h-1.2zM75.2 164.0h1.2v1.2h-1.2zM82.0 139.7h1.2v1.2h-1.2zM81.8 139.4h1.2v1.2h-1.2zM89.3 173.1h1.2v1.2h-1.2zM87.1 196.6h1.2v1.2h-1.2zM87.2 196.7h1.2v1.2h-1.2zM80.0 142.0h1.2v1.2h-1.2zM80.5 141.2h1.2v1.2h-1.2zM80.7 141.5h1.2v1.2h-1.2zM80.7 142.0h1.2v1.2h-1.2zM80.2 141.2h1.2v1.2h-1.2zM89.0 172.3h1.2v1.2h-1.2zM89.1 172.3h1.2v1.2h-1.2zM89.6 172.5h1.2v1.2h-1.2zM88.5 192.6h1.2v1.2h-1.2zM88.7 192.7h1.2v1.2h-1.2zM88.3 192.7h1.2v1.2h-1.2zM89.2 171.8h1.2v1.2h-1.2zM89.1 171.9h1.2v1.2h-1.2zM89.9 171.8h1.2v1.2h-1.2zM77.8 153.4h1.2v1.2h-1.2zM77.3 153.8h1.2v1.2h-1.2zM77.1 153.8h1.2v1.2h-1.2zM86.2 140.6h1.2v1.2h-1.2zM89.5 170.7h1.2v1.2h-1.2zM89.9 170.9h1.2v1.2h-1.2zM89.1 170.9h1.2v1.2h-1.2zM89.6 170.9h1.2v1.2h-1.2zM89.7 166.7h1.2v1.2h-1.2zM82.0 138.4h1.2v1.2h-1.2zM82.5 138.5h1.2v1.2h-1.2zM89.7 169.7h1.2v1.2h-1.2zM89.4 169.9h1.2v1.2h-1.2zM90.0 169.4h1.2v1.2h-1.2zM78.2 145.7h1.2v1.2h-1.2zM78.5 146.0h1.2v1.2h-1.2zM78.6 145.8h1.2v1.2h-1.2zM88.2 191.5h1.2v1.2h-1.2zM88.0 191.1h1.2v1.2h-1.2zM88.1 191.1h1.2v1.2h-1.2zM81.2 199.5h1.2v1.2h-1.2zM88.1 191.0h1.2v1.2h-1.2zM88.2 190.8h1.2v1.2h-1.2zM88.0 191.0h1.2v1.2h-1.2zM88.3 190.4h1.2v1.2h-1.2zM75.3 162.7h1.2v1.2h-1.2zM75.0 162.8h1.2v1.2h-1.2zM89.0 167.1h1.2v1.2h-1.2zM89.3 167.4h1.2v1.2h-1.2zM89.3 167.2h1.2v1.2h-1.2zM89.8 167.0h1.2v1.2h-1.2zM87.7 144.1h1.2v1.2h-1.2zM89.0 168.1h1.2v1.2h-1.2zM89.1 168.7h1.2v1.2h-1.2zM75.0 163.5h1.2v1.2h-1.2zM75.6 163.3h1.2v1.2h-1.2zM75.7 163.2h1.2v1.2h-1.2zM76.0 163.9h1.2v1.2h-1.2zM85.1 199.2h1.2v1.2h-1.2zM85.7 199.0h1.2v1.2h-1.2zM85.1 199.7h1.2v1.2h-1.2zM85.4 199.6h1.2v1.2h-1.2zM85.1 199.3h1.2v1.2h-1.2zM85.4 199.7h1.2v1.2h-1.2zM85.7 199.1h1.2v1.2h-1.2zM76.8 185.5h1.2v1.2h-1.2zM76.3 185.2h1.2v1.2h-1.2zM76.9 185.9h1.2v1.2h-1.2zM86.8 198.8h1.2v1.2h-1.2zM86.4 198.3h1.2v1.2h-1.2zM86.6 198.8h1.2v1.2h-1.2zM79.9 143.5h1.2v1.2h-1.2zM79.7 143.9h1.2v1.2h-1.2zM88.3 189.8h1.2v1.2h-1.2zM88.7 189.5h1.2v1.2h-1.2zM88.0 189.6h1.2v1.2h-1.2zM88.7 189.1h1.2v1.2h-1.2zM88.7 189.2h1.2v1.2h-1.2zM81.9 140.1h1.2v1.2h-1.2zM82.0 140.9h1.2v1.2h-1.2zM81.7 140.4h1.2v1.2h-1.2zM77.6 154.0h1.2v1.2h-1.2zM77.3 154.6h1.2v1.2h-1.2zM77.9 154.1h1.2v1.2h-1.2zM77.6 154.2h1.2v1.2h-1.2zM78.0 154.4h1.2v1.2h-1.2zM88.9 148.7h1.2v1.2h-1.2zM84.2 138.2h1.2v1.2h-1.2zM84.8 138.6h1.2v1.2h-1.2zM78.6 146.4h1.2v1.2h-1.2zM78.6 146.1h1.2v1.2h-1.2zM83.4 138.9h1.2v1.2h-1.2zM83.1 139.0h1.2v1.2h-1.2zM76.4 176.8h1.2v1.2h-1.2zM76.9 176.8h1.2v1.2h-1.2zM76.7 176.0h1.2v1.2h-1.2zM76.9 176.9h1.2v1.2h-1.2zM76.9 171.6h1.2v1.2h-1.2z" fill="rgb(60,192,180)"/>
<path d="M76.7 158.4h1.2v1.2h-1.2zM76.0 158.9h1.2v1.2h-1.2zM76.9 158.3h1.2v1.2h-1.2zM76.7 158.3h1.2v1.2h-1.2zM78.6 147.6h1.2v1.2h-1.2zM78.8 148.0h1.2v1.2h-1.2zM78.8 147.1h1.2v1.2h-1.2zM78.0 147.9h1.2v1.2h-1.2zM85.3 139.5h1.2v1.2h-1.2zM85.3 139.0h1.2v1.2h-1.2zM85.3 139.2h1.2v1.2h-1.2zM85.2 139.8h1.2v1.2h-1.2zM85.3 139.1h1.2v1.2h-1.2zM85.9 139.8h1.2v1.2h-1.2zM86.0 139.0h1.2v1.2h-1.2zM85.8 139.7h1.2v1.2h-1.2zM80.1 142.9h1.2v1.2h-1.2zM80.6 142.3h1.2v1.2h-1.2zM82.3 139.9h1.2v1.2h-1.2zM82.4 139.1h1.2v1.2h-1.2zM82.2 139.7h1.2v1.2h-1.2zM82.9 139.3h1.2v1.2h-1.2zM86.5 141.1h1.2v1.2h-1.2zM86.1 141.8h1.2v1.2h-1.2zM86.4 141.1h1.2v1.2h-1.2zM88.6 188.4h1.2v1.2h-1.2zM88.2 188.5h1.2v1.2h-1.2zM88.1 188.5h1.2v1.2h-1.2zM88.3 188.2h1.2v1.2h-1.2zM88.5 154.2h1.2v1.2h-1.2zM88.2 154.6h1.2v1.2h-1.2zM88.4 155.5h1.2v1.2h-1.2zM88.4 155.8h1.2v1.2h-1.2zM88.5 155.0h1.2v1.2h-1.2zM77.7 155.2h1.2v1.2h-1.2zM78.0 155.8h1.2v1.2h-1.2zM77.7 155.5h1.2v1.2h-1.2zM87.6 145.4h1.2v1.2h-1.2zM87.1 145.8h1.2v1.2h-1.2zM78.8 148.1h1.2v1.2h-1.2zM78.6 148.8h1.2v1.2h-1.2zM78.8 149.0h1.2v1.2h-1.2zM77.3 192.3h1.2v1.2h-1.2zM88.0 149.9h1.2v1.2h-1.2zM88.5 153.6h1.2v1.2h-1.2zM88.6 153.8h1.2v1.2h-1.2zM76.8 170.9h1.2v1.2h-1.2zM76.6 170.8h1.2v1.2h-1.2zM76.5 170.7h1.2v1.2h-1.2zM76.2 170.5h1.2v1.2h-1.2zM88.2 179.9h1.2v1.2h-1.2zM79.0 195.2h1.2v1.2h-1.2zM78.6 195.7h1.2v1.2h-1.2zM78.8 195.4h1.2v1.2h-1.2zM78.2 195.3h1.2v1.2h-1.2zM76.6 184.8h1.2v1.2h-1.2zM87.3 195.3h1.2v1.2h-1.2zM88.6 152.6h1.2v1.2h-1.2zM88.6 152.4h1.2v1.2h-1.2zM88.5 152.6h1.2v1.2h-1.2zM88.5 152.7h1.2v1.2h-1.2zM88.6 180.6h1.2v1.2h-1.2zM88.8 180.9h1.2v1.2h-1.2zM77.0 177.2h1.2v1.2h-1.2zM76.8 177.6h1.2v1.2h-1.2zM76.3 177.2h1.2v1.2h-1.2zM76.7 169.3h1.2v1.2h-1.2zM76.5 169.5h1.2v1.2h-1.2zM77.0 169.8h1.2v1.2h-1.2zM82.2 199.6h1.2v1.2h-1.2zM82.6 199.4h1.2v1.2h-1.2zM82.3 199.6h1.2v1.2h-1.2zM82.2 199.3h1.2v1.2h-1.2zM82.8 199.7h1.2v1.2h-1.2zM82.8 199.2h1.2v1.2h-1.2zM79.8 197.5h1.2v1.2h-1.2zM79.1 197.2h1.2v1.2h-1.2zM79.1 197.2h1.2v1.2h-1.2zM79.2 197.7h1.2v1.2h-1.2zM79.3 197.1h1.2v1.2h-1.2zM78.8 149.6h1.2v1.2h-1.2zM78.3 149.7h1.2v1.2h-1.2zM78.3 149.5h1.2v1.2h-1.2zM88.4 150.5h1.2v1.2h-1.2zM76.9 168.1h1.2v1.2h-1.2zM77.0 168.9h1.2v1.2h-1.2zM84.0 199.6h1.2v1.2h-1.2zM84.0 199.0h1.2v1.2h-1.2zM84.7 199.2h1.2v1.2h-1.2zM88.6 151.0h1.2v1.2h-1.2zM88.2 151.6h1.2v1.2h-1.2zM88.4 151.1h1.2v1.2h-1.2zM88.6 151.5h1.2v1.2h-1.2zM88.7 152.0h1.2v1.2h-1.2zM88.7 178.4h1.2v1.2h-1.2zM88.6 178.7h1.2v1.2h-1.2zM88.6 178.4h1.2v1.2h-1.2zM88.8 178.5h1.2v1.2h-1.2zM83.4 139.4h1.2v1.2h-1.2zM83.8 139.9h1.2v1.2h-1.2zM83.4 139.2h1.2v1.2h-1.2zM83.9 139.8h1.2v1.2h-1.2zM83.7 139.4h1.2v1.2h-1.2zM82.8 140.8h1.2v1.2h-1.2zM76.9 167.5h1.2v1.2h-1.2zM76.4 167.9h1.2v1.2h-1.2zM76.9 159.7h1.2v1.2h-1.2zM76.0 159.8h1.2v1.2h-1.2zM86.1 142.7h1.2v1.2h-1.2zM88.5 158.7h1.2v1.2h-1.2zM88.5 158.5h1.2v1.2h-1.2zM88.9 158.2h1.2v1.2h-1.2zM85.0 139.4h1.2v1.2h-1.2zM84.4 139.5h1.2v1.2h-1.2zM84.6 139.6h1.2v1.2h-1.2zM88.1 187.9h1.2v1.2h-1.2z" fill="rgb(60,192,168)"/>
<path d="M83.5 199.2h1.2v1.2h-1.2zM83.0 199.3h1.2v1.2h-1.2zM87.3 146.0h1.2v1.2h-1.2zM87.2 146.3h1.2v1.2h-1.2zM87.1 146.6h1.2v1.2h-1.2zM78.0 156.5h1.2v1.2h-1.2zM77.7 156.9h1.2v1.2h-1.2zM78.5 150.2h1.2v1.2h-1.2zM78.1 150.1h1.2v1.2h-1.2zM80.1 144.0h1.2v1.2h-1.2zM81.0 143.3h1.2v1.2h-1.2zM80.6 143.3h1.2v1.2h-1.2zM80.9 143.1h1.2v1.2h-1.2zM80.8 143.7h1.2v1.2h-1.2zM80.6 143.5h1.2v1.2h-1.2zM85.4 140.7h1.2v1.2h-1.2zM85.7 140.4h1.2v1.2h-1.2zM85.6 140.4h1.2v1.2h-1.2zM85.4 140.2h1.2v1.2h-1.2zM85.9 140.6h1.2v1.2h-1.2zM86.0 140.6h1.2v1.2h-1.2zM79.5 145.9h1.2v1.2h-1.2zM79.4 145.5h1.2v1.2h-1.2zM79.4 145.6h1.2v1.2h-1.2zM76.3 166.3h1.2v1.2h-1.2zM76.7 166.1h1.2v1.2h-1.2zM76.4 166.6h1.2v1.2h-1.2zM76.8 166.6h1.2v1.2h-1.2zM76.3 183.8h1.2v1.2h-1.2zM77.0 184.0h1.2v1.2h-1.2zM86.8 197.7h1.2v1.2h-1.2zM86.6 197.4h1.2v1.2h-1.2zM86.7 197.7h1.2v1.2h-1.2zM86.5 197.5h1.2v1.2h-1.2zM86.8 197.2h1.2v1.2h-1.2zM76.6 178.8h1.2v1.2h-1.2zM88.5 159.0h1.2v1.2h-1.2zM88.9 159.9h1.2v1.2h-1.2zM81.8 142.0h1.2v1.2h-1.2zM81.2 142.0h1.2v1.2h-1.2zM81.7 142.3h1.2v1.2h-1.2zM81.2 142.8h1.2v1.2h-1.2zM88.7 177.3h1.2v1.2h-1.2zM88.2 177.6h1.2v1.2h-1.2zM86.4 143.9h1.2v1.2h-1.2zM86.9 143.6h1.2v1.2h-1.2zM86.3 143.5h1.2v1.2h-1.2zM77.8 191.4h1.2v1.2h-1.2zM77.8 191.4h1.2v1.2h-1.2zM76.4 160.2h1.2v1.2h-1.2zM78.4 151.4h1.2v1.2h-1.2zM78.8 151.2h1.2v1.2h-1.2zM87.0 194.4h1.2v1.2h-1.2zM87.4 194.5h1.2v1.2h-1.2zM87.7 194.1h1.2v1.2h-1.2z" fill="rgb(60,192,156)"/>
<path d="M82.6 141.0h1.2v1.2h-1.2zM82.9 141.6h1.2v1.2h-1.2zM82.6 141.7h1.2v1.2h-1.2zM83.4 140.5h1.2v1.2h-1.2zM83.3 140.2h1.2v1.2h-1.2zM83.6 140.7h1.2v1.2h-1.2zM83.7 140.0h1.2v1.2h-1.2zM88.2 186.4h1.2v1.2h-1.2zM88.1 186.9h1.2v1.2h-1.2zM88.1 186.4h1.2v1.2h-1.2zM88.7 186.7h1.2v1.2h-1.2zM87.9 147.1h1.2v1.2h-1.2zM87.4 147.4h1.2v1.2h-1.2zM87.4 147.3h1.2v1.2h-1.2zM87.8 147.8h1.2v1.2h-1.2zM88.6 182.2h1.2v1.2h-1.2zM88.9 182.7h1.2v1.2h-1.2zM88.3 182.6h1.2v1.2h-1.2zM88.3 182.7h1.2v1.2h-1.2zM76.6 165.4h1.2v1.2h-1.2zM76.3 165.2h1.2v1.2h-1.2zM78.6 195.0h1.2v1.2h-1.2zM78.4 194.8h1.2v1.2h-1.2zM78.4 194.1h1.2v1.2h-1.2zM79.3 146.6h1.2v1.2h-1.2zM79.7 146.4h1.2v1.2h-1.2zM79.7 146.6h1.2v1.2h-1.2zM79.3 146.1h1.2v1.2h-1.2zM84.6 140.8h1.2v1.2h-1.2zM84.7 140.6h1.2v1.2h-1.2zM85.8 198.8h1.2v1.2h-1.2zM85.5 198.4h1.2v1.2h-1.2zM85.5 198.1h1.2v1.2h-1.2zM85.7 198.8h1.2v1.2h-1.2zM85.2 198.2h1.2v1.2h-1.2zM85.9 199.0h1.2v1.2h-1.2zM85.0 198.8h1.2v1.2h-1.2zM88.6 160.8h1.2v1.2h-1.2zM76.2 179.7h1.2v1.2h-1.2zM77.3 157.4h1.2v1.2h-1.2zM77.1 157.9h1.2v1.2h-1.2zM77.9 157.4h1.2v1.2h-1.2zM77.5 157.1h1.2v1.2h-1.2zM76.5 182.1h1.2v1.2h-1.2zM76.2 182.1h1.2v1.2h-1.2zM76.6 182.3h1.2v1.2h-1.2zM76.3 182.4h1.2v1.2h-1.2zM76.8 182.2h1.2v1.2h-1.2zM85.2 141.7h1.2v1.2h-1.2zM85.1 141.9h1.2v1.2h-1.2zM85.7 141.6h1.2v1.2h-1.2zM85.2 141.6h1.2v1.2h-1.2zM85.3 141.2h1.2v1.2h-1.2zM85.6 141.4h1.2v1.2h-1.2zM85.8 141.1h1.2v1.2h-1.2zM86.9 144.5h1.2v1.2h-1.2zM86.8 144.2h1.2v1.2h-1.2zM86.2 144.3h1.2v1.2h-1.2zM78.4 152.4h1.2v1.2h-1.2zM78.2 153.0h1.2v1.2h-1.2zM78.9 152.0h1.2v1.2h-1.2zM78.4 152.7h1.2v1.2h-1.2zM80.4 144.2h1.2v1.2h-1.2zM76.7 161.8h1.2v1.2h-1.2zM77.6 190.9h1.2v1.2h-1.2zM77.8 190.2h1.2v1.2h-1.2zM77.6 190.5h1.2v1.2h-1.2zM77.1 190.0h1.2v1.2h-1.2zM77.4 190.8h1.2v1.2h-1.2zM77.5 190.3h1.2v1.2h-1.2zM88.8 176.9h1.2v1.2h-1.2zM88.5 177.0h1.2v1.2h-1.2zM88.2 185.4h1.2v1.2h-1.2zM88.4 185.5h1.2v1.2h-1.2zM88.4 185.5h1.2v1.2h-1.2zM88.0 185.8h1.2v1.2h-1.2zM76.7 180.3h1.2v1.2h-1.2zM88.2 183.1h1.2v1.2h-1.2zM88.2 183.0h1.2v1.2h-1.2zM88.3 183.4h1.2v1.2h-1.2zM88.7 183.5h1.2v1.2h-1.2zM88.3 183.2h1.2v1.2h-1.2z" fill="rgb(60,192,144)"/>
<path d="M76.0 181.1h1.2v1.2h-1.2zM77.0 181.6h1.2v1.2h-1.2zM76.4 181.4h1.2v1.2h-1.2zM76.2 181.7h1.2v1.2h-1.2zM76.9 181.8h1.2v1.2h-1.2zM76.2 181.3h1.2v1.2h-1.2zM76.5 164.5h1.2v1.2h-1.2zM76.4 164.3h1.2v1.2h-1.2zM78.9 153.7h1.2v1.2h-1.2zM78.3 153.0h1.2v1.2h-1.2zM78.4 153.9h1.2v1.2h-1.2zM78.5 153.5h1.2v1.2h-1.2zM77.7 189.3h1.2v1.2h-1.2zM77.8 190.0h1.2v1.2h-1.2zM77.1 189.4h1.2v1.2h-1.2zM77.7 189.7h1.2v1.2h-1.2zM77.6 190.0h1.2v1.2h-1.2zM77.1 189.2h1.2v1.2h-1.2zM79.6 148.0h1.2v1.2h-1.2zM79.7 147.5h1.2v1.2h-1.2zM79.3 147.5h1.2v1.2h-1.2zM79.2 147.7h1.2v1.2h-1.2zM80.0 147.8h1.2v1.2h-1.2zM89.0 161.8h1.2v1.2h-1.2zM88.1 161.8h1.2v1.2h-1.2zM88.9 161.9h1.2v1.2h-1.2zM77.5 188.7h1.2v1.2h-1.2zM77.2 188.4h1.2v1.2h-1.2zM76.8 162.1h1.2v1.2h-1.2zM76.8 163.0h1.2v1.2h-1.2zM76.7 162.1h1.2v1.2h-1.2zM76.4 162.5h1.2v1.2h-1.2zM76.4 162.1h1.2v1.2h-1.2zM87.8 148.4h1.2v1.2h-1.2zM87.9 148.3h1.2v1.2h-1.2zM87.7 148.0h1.2v1.2h-1.2zM87.1 148.7h1.2v1.2h-1.2zM87.2 148.0h1.2v1.2h-1.2zM88.5 169.8h1.2v1.2h-1.2zM88.7 169.1h1.2v1.2h-1.2zM81.4 143.8h1.2v1.2h-1.2zM87.1 194.0h1.2v1.2h-1.2zM87.2 193.2h1.2v1.2h-1.2zM87.2 193.1h1.2v1.2h-1.2zM87.2 193.7h1.2v1.2h-1.2zM87.9 193.2h1.2v1.2h-1.2zM87.2 193.8h1.2v1.2h-1.2zM87.3 193.3h1.2v1.2h-1.2zM88.5 165.7h1.2v1.2h-1.2zM88.1 165.8h1.2v1.2h-1.2zM88.5 165.1h1.2v1.2h-1.2zM88.8 168.1h1.2v1.2h-1.2zM81.1 198.9h1.2v1.2h-1.2zM81.4 198.5h1.2v1.2h-1.2zM81.1 198.2h1.2v1.2h-1.2zM81.6 198.9h1.2v1.2h-1.2zM81.8 198.5h1.2v1.2h-1.2zM88.6 184.3h1.2v1.2h-1.2zM88.4 184.9h1.2v1.2h-1.2zM88.7 184.5h1.2v1.2h-1.2zM88.9 166.8h1.2v1.2h-1.2zM88.9 166.9h1.2v1.2h-1.2zM88.2 165.0h1.2v1.2h-1.2zM88.7 164.4h1.2v1.2h-1.2zM88.5 164.3h1.2v1.2h-1.2zM88.5 164.4h1.2v1.2h-1.2zM88.2 164.6h1.2v1.2h-1.2zM88.3 167.6h1.2v1.2h-1.2zM88.7 167.5h1.2v1.2h-1.2zM88.7 167.5h1.2v1.2h-1.2zM77.7 187.9h1.2v1.2h-1.2zM77.7 187.2h1.2v1.2h-1.2zM76.8 163.3h1.2v1.2h-1.2zM76.2 163.8h1.2v1.2h-1.2zM76.3 163.0h1.2v1.2h-1.2zM76.9 163.3h1.2v1.2h-1.2zM83.1 141.2h1.2v1.2h-1.2zM83.1 141.7h1.2v1.2h-1.2zM88.7 170.0h1.2v1.2h-1.2zM88.6 170.6h1.2v1.2h-1.2zM88.3 170.9h1.2v1.2h-1.2zM86.4 145.5h1.2v1.2h-1.2zM86.2 145.2h1.2v1.2h-1.2zM86.6 145.8h1.2v1.2h-1.2zM87.0 145.9h1.2v1.2h-1.2zM86.2 145.9h1.2v1.2h-1.2zM88.5 164.0h1.2v1.2h-1.2zM88.8 163.0h1.2v1.2h-1.2zM88.5 162.1h1.2v1.2h-1.2zM88.5 162.6h1.2v1.2h-1.2zM88.1 162.0h1.2v1.2h-1.2zM88.7 162.0h1.2v1.2h-1.2zM88.5 162.1h1.2v1.2h-1.2zM88.4 162.9h1.2v1.2h-1.2zM82.9 142.8h1.2v1.2h-1.2zM88.3 175.5h1.2v1.2h-1.2zM88.2 175.5h1.2v1.2h-1.2zM88.3 175.7h1.2v1.2h-1.2zM88.8 175.2h1.2v1.2h-1.2zM88.8 175.5h1.2v1.2h-1.2zM78.8 154.2h1.2v1.2h-1.2zM78.7 154.5h1.2v1.2h-1.2zM78.8 154.3h1.2v1.2h-1.2zM86.2 196.9h1.2v1.2h-1.2zM86.9 196.4h1.2v1.2h-1.2zM86.4 196.9h1.2v1.2h-1.2zM85.1 142.9h1.2v1.2h-1.2zM85.3 142.5h1.2v1.2h-1.2zM85.9 142.4h1.2v1.2h-1.2zM85.0 143.0h1.2v1.2h-1.2zM85.8 142.2h1.2v1.2h-1.2zM79.8 196.1h1.2v1.2h-1.2zM79.6 196.7h1.2v1.2h-1.2zM79.7 196.4h1.2v1.2h-1.2zM79.3 196.1h1.2v1.2h-1.2zM84.6 141.2h1.2v1.2h-1.2zM88.8 171.7h1.2v1.2h-1.2zM88.0 171.4h1.2v1.2h-1.2zM77.3 174.1h1.2v1.2h-1.2zM77.3 174.2h1.2v1.2h-1.2zM77.7 173.4h1.2v1.2h-1.2zM77.7 173.5h1.2v1.2h-1.2zM79.0 148.9h1.2v1.2h-1.2zM79.5 148.1h1.2v1.2h-1.2zM77.6 159.0h1.2v1.2h-1.2zM77.9 158.0h1.2v1.2h-1.2zM77.6 158.8h1.2v1.2h-1.2zM80.1 145.1h1.2v1.2h-1.2zM80.7 145.4h1.2v1.2h-1.2zM80.8 145.2h1.2v1.2h-1.2zM80.6 145.1h1.2v1.2h-1.2zM87.4 192.1h1.2v1.2h-1.2zM87.4 192.4h1.2v1.2h-1.2zM87.5 192.2h1.2v1.2h-1.2zM87.7 192.4h1.2v1.2h-1.2zM87.7 192.1h1.2v1.2h-1.2zM87.6 192.4h1.2v1.2h-1.2zM77.9 186.6h1.2v1.2h-1.2zM77.4 186.9h1.2v1.2h-1.2zM77.7 186.8h1.2v1.2h-1.2zM77.5 186.6h1.2v1.2h-1.2z" fill="rgb(60,192,132)"/>
<path d="M87.0 149.3h1.2v1.2h-1.2zM87.6 149.2h1.2v1.2h-1.2zM87.2 149.6h1.2v1.2h-1.2zM87.5 149.2h1.2v1.2h-1.2zM87.9 149.5h1.2v1.2h-1.2zM88.9 174.9h1.2v1.2h-1.2zM88.5 174.7h1.2v1.2h-1.2zM88.5 174.6h1.2v1.2h-1.2zM88.9 174.7h1.2v1.2h-1.2zM88.3 172.9h1.2v1.2h-1.2zM88.2 172.0h1.2v1.2h-1.2zM88.4 172.1h1.2v1.2h-1.2zM88.5 172.9h1.2v1.2h-1.2z" fill="rgb(60,192,120)"/>
<path d="M87.3 191.6h1.2v1.2h-1.2zM88.5 173.2h1.2v1.2h-1.2zM88.1 173.9h1.2v1.2h-1.2zM88.6 173.2h1.2v1.2h-1.2zM77.7 175.0h1.2v1.2h-1.2zM77.5 175.5h1.2v1.2h-1.2zM84.2 198.8h1.2v1.2h-1.2zM77.9 172.4h1.2v1.2h-1.2zM78.0 172.5h1.2v1.2h-1.2zM78.9 193.9h1.2v1.2h-1.2zM78.5 193.7h1.2v1.2h-1.2zM78.3 193.2h1.2v1.2h-1.2zM78.6 193.8h1.2v1.2h-1.2zM87.5 190.3h1.2v1.2h-1.2zM86.6 146.8h1.2v1.2h-1.2zM86.4 146.9h1.2v1.2h-1.2zM86.8 146.4h1.2v1.2h-1.2zM86.0 146.6h1.2v1.2h-1.2zM79.1 149.5h1.2v1.2h-1.2zM79.4 149.8h1.2v1.2h-1.2zM79.1 149.4h1.2v1.2h-1.2zM79.6 149.9h1.2v1.2h-1.2zM79.7 149.9h1.2v1.2h-1.2zM85.6 143.7h1.2v1.2h-1.2zM85.6 143.8h1.2v1.2h-1.2zM86.0 143.2h1.2v1.2h-1.2zM85.3 143.3h1.2v1.2h-1.2zM87.0 150.5h1.2v1.2h-1.2zM87.6 150.7h1.2v1.2h-1.2zM87.2 150.9h1.2v1.2h-1.2zM87.4 150.4h1.2v1.2h-1.2zM82.9 198.5h1.2v1.2h-1.2zM82.9 198.7h1.2v1.2h-1.2zM82.2 198.4h1.2v1.2h-1.2zM80.8 197.6h1.2v1.2h-1.2zM80.4 197.5h1.2v1.2h-1.2zM80.3 197.6h1.2v1.2h-1.2zM80.7 197.6h1.2v1.2h-1.2zM80.5 197.8h1.2v1.2h-1.2zM87.2 151.6h1.2v1.2h-1.2zM87.9 151.4h1.2v1.2h-1.2zM87.1 151.0h1.2v1.2h-1.2zM87.2 151.5h1.2v1.2h-1.2zM87.1 151.1h1.2v1.2h-1.2zM87.5 152.7h1.2v1.2h-1.2zM87.3 152.5h1.2v1.2h-1.2zM81.3 144.9h1.2v1.2h-1.2zM81.0 144.0h1.2v1.2h-1.2zM81.2 144.3h1.2v1.2h-1.2zM81.0 144.4h1.2v1.2h-1.2zM83.4 142.5h1.2v1.2h-1.2zM83.0 142.1h1.2v1.2h-1.2zM83.1 142.5h1.2v1.2h-1.2zM83.1 142.4h1.2v1.2h-1.2zM83.6 143.0h1.2v1.2h-1.2zM83.6 142.6h1.2v1.2h-1.2zM83.5 142.9h1.2v1.2h-1.2zM87.3 189.4h1.2v1.2h-1.2zM87.8 189.5h1.2v1.2h-1.2zM87.6 153.7h1.2v1.2h-1.2zM87.6 153.7h1.2v1.2h-1.2zM87.5 153.5h1.2v1.2h-1.2zM87.2 153.4h1.2v1.2h-1.2zM87.0 153.8h1.2v1.2h-1.2zM87.6 153.3h1.2v1.2h-1.2zM77.4 160.0h1.2v1.2h-1.2zM77.1 159.4h1.2v1.2h-1.2zM77.9 159.8h1.2v1.2h-1.2zM77.2 159.9h1.2v1.2h-1.2zM77.7 159.5h1.2v1.2h-1.2zM84.2 143.0h1.2v1.2h-1.2zM84.6 142.5h1.2v1.2h-1.2zM84.7 142.3h1.2v1.2h-1.2zM84.9 142.5h1.2v1.2h-1.2zM84.8 142.2h1.2v1.2h-1.2zM84.6 142.9h1.2v1.2h-1.2zM85.0 142.3h1.2v1.2h-1.2z" fill="rgb(72,192,120)"/>
<path d="M77.8 185.9h1.2v1.2h-1.2zM83.3 198.1h1.2v1.2h-1.2zM77.8 171.0h1.2v1.2h-1.2zM87.8 154.2h1.2v1.2h-1.2zM87.5 154.1h1.2v1.2h-1.2zM87.6 154.1h1.2v1.2h-1.2zM87.7 154.3h1.2v1.2h-1.2zM83.0 143.6h1.2v1.2h-1.2zM83.0 143.6h1.2v1.2h-1.2zM82.4 143.4h1.2v1.2h-1.2zM82.4 143.0h1.2v1.2h-1.2zM80.6 146.4h1.2v1.2h-1.2zM80.5 146.5h1.2v1.2h-1.2zM85.4 197.5h1.2v1.2h-1.2zM85.8 197.1h1.2v1.2h-1.2zM85.2 197.0h1.2v1.2h-1.2zM85.5 197.6h1.2v1.2h-1.2zM85.6 197.4h1.2v1.2h-1.2zM85.4 197.2h1.2v1.2h-1.2zM85.3 197.7h1.2v1.2h-1.2zM85.5 197.5h1.2v1.2h-1.2zM77.1 176.4h1.2v1.2h-1.2zM77.9 176.5h1.2v1.2h-1.2zM79.6 150.1h1.2v1.2h-1.2zM79.0 150.5h1.2v1.2h-1.2zM79.0 156.0h1.2v1.2h-1.2zM78.4 156.6h1.2v1.2h-1.2zM78.8 156.6h1.2v1.2h-1.2zM78.6 156.7h1.2v1.2h-1.2zM85.4 144.9h1.2v1.2h-1.2zM87.8 155.3h1.2v1.2h-1.2zM87.5 155.6h1.2v1.2h-1.2zM87.0 155.8h1.2v1.2h-1.2zM87.0 155.5h1.2v1.2h-1.2zM87.3 155.6h1.2v1.2h-1.2zM87.5 155.9h1.2v1.2h-1.2zM87.9 155.4h1.2v1.2h-1.2zM86.2 195.4h1.2v1.2h-1.2zM86.3 195.7h1.2v1.2h-1.2zM86.5 195.4h1.2v1.2h-1.2zM86.4 147.7h1.2v1.2h-1.2zM86.4 148.0h1.2v1.2h-1.2zM77.4 170.9h1.2v1.2h-1.2zM77.4 170.5h1.2v1.2h-1.2zM77.5 170.7h1.2v1.2h-1.2zM87.2 156.2h1.2v1.2h-1.2zM87.2 156.2h1.2v1.2h-1.2zM77.0 160.5h1.2v1.2h-1.2zM77.1 160.0h1.2v1.2h-1.2zM77.1 160.7h1.2v1.2h-1.2zM77.0 160.1h1.2v1.2h-1.2zM78.0 160.3h1.2v1.2h-1.2zM77.8 160.8h1.2v1.2h-1.2zM87.8 188.2h1.2v1.2h-1.2zM87.5 188.8h1.2v1.2h-1.2z" fill="rgb(72,192,108)"/>
<path d="M79.8 151.8h1.2v1.2h-1.2zM79.9 151.3h1.2v1.2h-1.2zM79.3 151.8h1.2v1.2h-1.2zM87.1 157.4h1.2v1.2h-1.2zM87.7 157.0h1.2v1.2h-1.2zM87.8 157.4h1.2v1.2h-1.2zM84.8 143.8h1.2v1.2h-1.2zM84.6 143.4h1.2v1.2h-1.2zM84.0 143.6h1.2v1.2h-1.2zM84.1 143.2h1.2v1.2h-1.2zM84.3 143.9h1.2v1.2h-1.2zM84.1 143.9h1.2v1.2h-1.2zM84.1 143.6h1.2v1.2h-1.2zM77.4 169.0h1.2v1.2h-1.2zM77.2 169.3h1.2v1.2h-1.2zM77.5 169.9h1.2v1.2h-1.2zM80.0 195.7h1.2v1.2h-1.2zM79.8 195.0h1.2v1.2h-1.2zM79.4 195.4h1.2v1.2h-1.2zM79.6 195.3h1.2v1.2h-1.2zM79.2 195.9h1.2v1.2h-1.2zM79.5 195.6h1.2v1.2h-1.2zM83.6 143.5h1.2v1.2h-1.2zM77.7 168.1h1.2v1.2h-1.2zM77.6 168.3h1.2v1.2h-1.2zM77.5 168.8h1.2v1.2h-1.2zM80.9 147.5h1.2v1.2h-1.2zM80.1 147.7h1.2v1.2h-1.2zM77.9 184.6h1.2v1.2h-1.2zM77.0 184.3h1.2v1.2h-1.2zM77.1 184.5h1.2v1.2h-1.2zM77.2 184.5h1.2v1.2h-1.2zM81.5 146.0h1.2v1.2h-1.2zM81.6 145.3h1.2v1.2h-1.2zM81.7 145.0h1.2v1.2h-1.2zM81.2 145.8h1.2v1.2h-1.2zM78.1 192.6h1.2v1.2h-1.2zM78.2 192.5h1.2v1.2h-1.2zM78.3 192.8h1.2v1.2h-1.2zM85.4 145.4h1.2v1.2h-1.2zM85.7 145.8h1.2v1.2h-1.2zM85.8 145.3h1.2v1.2h-1.2zM77.6 167.8h1.2v1.2h-1.2zM77.3 167.1h1.2v1.2h-1.2zM87.1 159.0h1.2v1.2h-1.2zM87.8 158.4h1.2v1.2h-1.2zM87.3 158.7h1.2v1.2h-1.2zM77.4 177.4h1.2v1.2h-1.2zM77.5 177.4h1.2v1.2h-1.2zM78.2 157.5h1.2v1.2h-1.2zM78.5 157.6h1.2v1.2h-1.2zM78.5 157.1h1.2v1.2h-1.2zM86.0 148.7h1.2v1.2h-1.2zM86.2 148.2h1.2v1.2h-1.2zM87.0 148.3h1.2v1.2h-1.2zM82.7 144.7h1.2v1.2h-1.2zM82.5 144.1h1.2v1.2h-1.2zM82.7 145.0h1.2v1.2h-1.2zM82.6 144.9h1.2v1.2h-1.2zM82.6 144.9h1.2v1.2h-1.2zM82.2 144.7h1.2v1.2h-1.2zM82.0 144.1h1.2v1.2h-1.2zM82.7 144.2h1.2v1.2h-1.2zM77.4 161.6h1.2v1.2h-1.2zM77.2 161.1h1.2v1.2h-1.2zM77.3 161.3h1.2v1.2h-1.2zM77.2 161.6h1.2v1.2h-1.2zM77.3 161.1h1.2v1.2h-1.2zM79.8 152.1h1.2v1.2h-1.2zM79.2 152.7h1.2v1.2h-1.2zM79.7 152.1h1.2v1.2h-1.2zM79.4 152.2h1.2v1.2h-1.2zM77.4 166.4h1.2v1.2h-1.2zM77.0 166.5h1.2v1.2h-1.2zM77.2 166.8h1.2v1.2h-1.2zM77.3 166.6h1.2v1.2h-1.2zM77.2 166.9h1.2v1.2h-1.2zM77.6 167.0h1.2v1.2h-1.2zM87.4 179.0h1.2v1.2h-1.2zM87.4 179.5h1.2v1.2h-1.2zM87.3 179.5h1.2v1.2h-1.2z" fill="rgb(72,192,96)"/>
<path d="M87.0 180.9h1.2v1.2h-1.2zM87.4 180.0h1.2v1.2h-1.2zM86.5 194.8h1.2v1.2h-1.2zM86.2 194.9h1.2v1.2h-1.2zM86.7 194.4h1.2v1.2h-1.2zM86.2 194.5h1.2v1.2h-1.2zM86.7 194.6h1.2v1.2h-1.2zM84.2 144.1h1.2v1.2h-1.2zM84.2 144.7h1.2v1.2h-1.2zM84.3 144.8h1.2v1.2h-1.2zM84.2 144.5h1.2v1.2h-1.2zM79.7 153.4h1.2v1.2h-1.2zM79.4 153.7h1.2v1.2h-1.2zM80.0 153.6h1.2v1.2h-1.2zM87.8 188.0h1.2v1.2h-1.2zM87.1 187.7h1.2v1.2h-1.2zM87.1 187.1h1.2v1.2h-1.2zM80.1 148.1h1.2v1.2h-1.2zM80.4 148.3h1.2v1.2h-1.2zM80.3 148.0h1.2v1.2h-1.2zM77.8 165.6h1.2v1.2h-1.2zM77.9 165.7h1.2v1.2h-1.2zM87.6 159.5h1.2v1.2h-1.2zM87.8 159.2h1.2v1.2h-1.2zM87.8 159.1h1.2v1.2h-1.2zM87.4 178.6h1.2v1.2h-1.2zM88.0 178.6h1.2v1.2h-1.2zM85.1 146.5h1.2v1.2h-1.2zM85.4 146.7h1.2v1.2h-1.2zM85.5 146.6h1.2v1.2h-1.2zM85.7 146.1h1.2v1.2h-1.2zM77.2 162.4h1.2v1.2h-1.2zM77.8 162.3h1.2v1.2h-1.2zM77.9 162.8h1.2v1.2h-1.2zM77.4 162.5h1.2v1.2h-1.2zM77.4 163.0h1.2v1.2h-1.2z" fill="rgb(72,192,84)"/>
<path d="M87.8 168.1h1.2v1.2h-1.2zM88.0 168.9h1.2v1.2h-1.2zM87.4 168.8h1.2v1.2h-1.2zM87.4 168.1h1.2v1.2h-1.2zM86.8 149.8h1.2v1.2h-1.2zM86.3 149.6h1.2v1.2h-1.2zM86.2 149.1h1.2v1.2h-1.2zM86.4 149.5h1.2v1.2h-1.2zM86.8 149.1h1.2v1.2h-1.2zM86.3 149.4h1.2v1.2h-1.2zM87.8 169.8h1.2v1.2h-1.2zM87.2 169.7h1.2v1.2h-1.2zM87.7 169.3h1.2v1.2h-1.2zM81.2 197.2h1.2v1.2h-1.2zM81.2 197.6h1.2v1.2h-1.2zM81.7 197.9h1.2v1.2h-1.2zM81.6 197.5h1.2v1.2h-1.2zM83.4 144.6h1.2v1.2h-1.2zM83.5 144.1h1.2v1.2h-1.2zM83.5 144.8h1.2v1.2h-1.2zM84.2 197.5h1.2v1.2h-1.2zM84.2 197.9h1.2v1.2h-1.2zM84.2 197.8h1.2v1.2h-1.2zM87.1 182.0h1.2v1.2h-1.2zM87.8 181.9h1.2v1.2h-1.2zM87.4 181.9h1.2v1.2h-1.2zM85.2 196.5h1.2v1.2h-1.2zM85.9 196.1h1.2v1.2h-1.2zM87.1 167.6h1.2v1.2h-1.2zM87.0 167.5h1.2v1.2h-1.2zM87.7 167.8h1.2v1.2h-1.2zM87.5 168.0h1.2v1.2h-1.2zM87.6 167.9h1.2v1.2h-1.2zM87.1 167.4h1.2v1.2h-1.2zM77.7 164.7h1.2v1.2h-1.2zM77.6 164.3h1.2v1.2h-1.2zM77.7 183.7h1.2v1.2h-1.2zM77.6 183.7h1.2v1.2h-1.2zM77.8 183.1h1.2v1.2h-1.2zM77.0 183.1h1.2v1.2h-1.2zM79.6 154.3h1.2v1.2h-1.2zM79.3 154.8h1.2v1.2h-1.2zM81.8 146.9h1.2v1.2h-1.2zM81.1 146.1h1.2v1.2h-1.2zM81.0 147.0h1.2v1.2h-1.2zM77.5 163.4h1.2v1.2h-1.2zM77.4 163.5h1.2v1.2h-1.2zM77.5 163.9h1.2v1.2h-1.2zM77.1 163.9h1.2v1.2h-1.2zM77.5 163.4h1.2v1.2h-1.2zM77.7 163.7h1.2v1.2h-1.2zM78.9 158.1h1.2v1.2h-1.2zM78.9 158.9h1.2v1.2h-1.2zM78.6 158.0h1.2v1.2h-1.2zM78.4 158.9h1.2v1.2h-1.2zM78.2 158.3h1.2v1.2h-1.2z" fill="rgb(84,192,84)"/>
<path d="M87.8 170.4h1.2v1.2h-1.2zM87.4 170.3h1.2v1.2h-1.2zM87.4 170.4h1.2v1.2h-1.2zM87.9 170.4h1.2v1.2h-1.2zM87.1 170.3h1.2v1.2h-1.2zM86.2 150.7h1.2v1.2h-1.2zM86.8 150.0h1.2v1.2h-1.2zM86.5 150.2h1.2v1.2h-1.2zM77.8 178.1h1.2v1.2h-1.2zM77.2 179.0h1.2v1.2h-1.2zM77.6 178.6h1.2v1.2h-1.2zM77.6 178.8h1.2v1.2h-1.2zM77.4 178.8h1.2v1.2h-1.2zM77.1 178.2h1.2v1.2h-1.2zM87.2 166.5h1.2v1.2h-1.2zM87.4 166.1h1.2v1.2h-1.2zM87.9 166.4h1.2v1.2h-1.2zM87.6 166.2h1.2v1.2h-1.2zM87.8 166.3h1.2v1.2h-1.2zM88.0 166.6h1.2v1.2h-1.2zM78.9 192.0h1.2v1.2h-1.2zM78.5 192.0h1.2v1.2h-1.2zM78.1 191.7h1.2v1.2h-1.2zM78.2 191.8h1.2v1.2h-1.2zM78.6 191.2h1.2v1.2h-1.2zM78.6 191.9h1.2v1.2h-1.2zM87.6 177.5h1.2v1.2h-1.2zM87.2 177.6h1.2v1.2h-1.2zM87.6 177.0h1.2v1.2h-1.2zM87.8 177.2h1.2v1.2h-1.2zM82.2 145.2h1.2v1.2h-1.2zM82.9 145.4h1.2v1.2h-1.2zM82.1 145.3h1.2v1.2h-1.2zM82.1 145.3h1.2v1.2h-1.2zM87.9 160.6h1.2v1.2h-1.2zM80.3 149.1h1.2v1.2h-1.2zM80.1 149.3h1.2v1.2h-1.2zM86.0 151.1h1.2v1.2h-1.2zM86.6 151.8h1.2v1.2h-1.2zM87.0 151.4h1.2v1.2h-1.2zM86.9 151.9h1.2v1.2h-1.2zM86.5 151.5h1.2v1.2h-1.2zM86.8 151.3h1.2v1.2h-1.2zM87.9 165.5h1.2v1.2h-1.2zM87.4 165.2h1.2v1.2h-1.2zM84.2 145.8h1.2v1.2h-1.2zM84.4 145.6h1.2v1.2h-1.2zM84.4 145.8h1.2v1.2h-1.2zM84.9 145.4h1.2v1.2h-1.2zM84.7 145.3h1.2v1.2h-1.2zM84.0 145.1h1.2v1.2h-1.2zM84.9 145.5h1.2v1.2h-1.2zM80.7 196.6h1.2v1.2h-1.2zM80.6 196.8h1.2v1.2h-1.2zM80.1 196.3h1.2v1.2h-1.2zM80.9 196.9h1.2v1.2h-1.2zM80.3 196.6h1.2v1.2h-1.2zM86.5 193.3h1.2v1.2h-1.2zM86.7 193.1h1.2v1.2h-1.2zM86.3 193.7h1.2v1.2h-1.2zM86.7 193.3h1.2v1.2h-1.2zM79.5 194.0h1.2v1.2h-1.2zM79.7 194.2h1.2v1.2h-1.2zM79.8 194.9h1.2v1.2h-1.2zM80.0 195.0h1.2v1.2h-1.2zM79.8 155.8h1.2v1.2h-1.2zM79.2 155.1h1.2v1.2h-1.2zM86.4 152.5h1.2v1.2h-1.2zM86.0 152.9h1.2v1.2h-1.2zM86.7 152.0h1.2v1.2h-1.2zM86.4 152.9h1.2v1.2h-1.2zM86.2 152.7h1.2v1.2h-1.2zM87.2 182.2h1.2v1.2h-1.2zM87.9 182.4h1.2v1.2h-1.2zM87.8 182.8h1.2v1.2h-1.2zM87.1 182.0h1.2v1.2h-1.2zM87.0 182.4h1.2v1.2h-1.2zM87.2 182.9h1.2v1.2h-1.2zM87.7 182.5h1.2v1.2h-1.2zM85.6 147.4h1.2v1.2h-1.2zM85.1 148.0h1.2v1.2h-1.2zM85.8 147.4h1.2v1.2h-1.2zM85.7 147.7h1.2v1.2h-1.2zM87.8 186.8h1.2v1.2h-1.2zM87.3 186.7h1.2v1.2h-1.2zM87.7 186.8h1.2v1.2h-1.2zM87.7 186.8h1.2v1.2h-1.2zM87.2 187.0h1.2v1.2h-1.2zM87.3 164.7h1.2v1.2h-1.2zM87.1 164.9h1.2v1.2h-1.2zM87.6 164.7h1.2v1.2h-1.2zM87.2 164.7h1.2v1.2h-1.2zM87.1 171.7h1.2v1.2h-1.2zM87.2 171.8h1.2v1.2h-1.2zM88.0 171.7h1.2v1.2h-1.2zM87.0 171.0h1.2v1.2h-1.2zM87.1 171.7h1.2v1.2h-1.2zM83.7 197.2h1.2v1.2h-1.2z" fill="rgb(84,192,72)"/>
<path d="M82.6 197.3h1.2v1.2h-1.2zM82.6 197.4h1.2v1.2h-1.2zM82.4 197.5h1.2v1.2h-1.2zM82.2 197.3h1.2v1.2h-1.2zM82.3 197.8h1.2v1.2h-1.2zM82.9 197.8h1.2v1.2h-1.2zM82.0 197.5h1.2v1.2h-1.2zM83.4 145.3h1.2v1.2h-1.2zM83.8 145.5h1.2v1.2h-1.2zM83.1 145.7h1.2v1.2h-1.2zM83.6 145.5h1.2v1.2h-1.2zM83.7 145.9h1.2v1.2h-1.2zM83.8 146.0h1.2v1.2h-1.2zM83.8 145.1h1.2v1.2h-1.2zM87.3 161.8h1.2v1.2h-1.2zM87.7 161.6h1.2v1.2h-1.2zM87.1 161.4h1.2v1.2h-1.2zM87.5 161.9h1.2v1.2h-1.2zM87.6 161.2h1.2v1.2h-1.2zM78.4 159.8h1.2v1.2h-1.2zM77.3 182.4h1.2v1.2h-1.2zM77.4 182.9h1.2v1.2h-1.2zM77.0 182.8h1.2v1.2h-1.2zM77.6 182.8h1.2v1.2h-1.2zM77.8 182.5h1.2v1.2h-1.2zM77.0 182.8h1.2v1.2h-1.2zM77.5 182.1h1.2v1.2h-1.2zM86.9 153.9h1.2v1.2h-1.2zM87.0 153.3h1.2v1.2h-1.2zM87.6 163.5h1.2v1.2h-1.2zM87.3 163.7h1.2v1.2h-1.2zM88.0 163.1h1.2v1.2h-1.2zM87.2 163.5h1.2v1.2h-1.2zM87.7 176.9h1.2v1.2h-1.2zM87.5 176.9h1.2v1.2h-1.2zM87.5 176.9h1.2v1.2h-1.2zM87.7 176.3h1.2v1.2h-1.2zM86.7 192.6h1.2v1.2h-1.2zM86.2 192.8h1.2v1.2h-1.2zM86.4 192.2h1.2v1.2h-1.2zM86.6 192.4h1.2v1.2h-1.2zM86.8 193.0h1.2v1.2h-1.2zM86.3 192.5h1.2v1.2h-1.2zM80.5 150.8h1.2v1.2h-1.2zM80.9 150.8h1.2v1.2h-1.2zM80.5 150.5h1.2v1.2h-1.2zM80.8 150.8h1.2v1.2h-1.2zM80.9 150.5h1.2v1.2h-1.2zM80.8 150.6h1.2v1.2h-1.2zM80.5 150.7h1.2v1.2h-1.2zM80.3 150.1h1.2v1.2h-1.2zM78.5 190.9h1.2v1.2h-1.2zM78.9 190.8h1.2v1.2h-1.2zM78.0 190.5h1.2v1.2h-1.2zM81.5 147.2h1.2v1.2h-1.2zM81.8 147.1h1.2v1.2h-1.2zM81.6 147.9h1.2v1.2h-1.2zM81.8 147.5h1.2v1.2h-1.2zM77.9 179.4h1.2v1.2h-1.2zM77.8 180.0h1.2v1.2h-1.2zM78.0 179.8h1.2v1.2h-1.2zM77.4 179.4h1.2v1.2h-1.2zM87.4 162.9h1.2v1.2h-1.2zM87.8 162.8h1.2v1.2h-1.2zM87.2 162.6h1.2v1.2h-1.2zM87.5 162.4h1.2v1.2h-1.2zM87.9 162.7h1.2v1.2h-1.2zM87.3 183.9h1.2v1.2h-1.2zM87.1 183.9h1.2v1.2h-1.2zM87.8 183.4h1.2v1.2h-1.2zM87.3 183.9h1.2v1.2h-1.2zM87.5 185.9h1.2v1.2h-1.2zM87.5 186.0h1.2v1.2h-1.2zM84.8 146.6h1.2v1.2h-1.2zM78.7 189.1h1.2v1.2h-1.2zM78.2 189.6h1.2v1.2h-1.2zM87.2 173.0h1.2v1.2h-1.2zM87.5 172.7h1.2v1.2h-1.2zM87.3 172.0h1.2v1.2h-1.2zM87.7 172.3h1.2v1.2h-1.2zM86.3 191.3h1.2v1.2h-1.2zM86.8 191.9h1.2v1.2h-1.2zM86.6 191.4h1.2v1.2h-1.2zM86.8 191.8h1.2v1.2h-1.2zM79.2 156.9h1.2v1.2h-1.2zM78.4 188.4h1.2v1.2h-1.2zM78.0 188.6h1.2v1.2h-1.2zM78.1 174.1h1.2v1.2h-1.2zM78.7 173.6h1.2v1.2h-1.2zM78.8 173.5h1.2v1.2h-1.2zM78.6 174.0h1.2v1.2h-1.2zM78.9 173.7h1.2v1.2h-1.2zM78.1 173.4h1.2v1.2h-1.2zM78.5 173.5h1.2v1.2h-1.2zM78.9 173.6h1.2v1.2h-1.2zM85.2 148.4h1.2v1.2h-1.2zM85.1 148.1h1.2v1.2h-1.2zM85.2 148.7h1.2v1.2h-1.2zM78.2 187.3h1.2v1.2h-1.2zM78.9 188.0h1.2v1.2h-1.2zM78.9 187.7h1.2v1.2h-1.2zM78.4 187.6h1.2v1.2h-1.2zM82.7 146.5h1.2v1.2h-1.2zM82.7 146.6h1.2v1.2h-1.2zM82.2 146.1h1.2v1.2h-1.2zM82.9 146.0h1.2v1.2h-1.2zM86.5 154.1h1.2v1.2h-1.2zM86.9 154.1h1.2v1.2h-1.2zM87.2 184.7h1.2v1.2h-1.2zM87.7 175.3h1.2v1.2h-1.2zM77.5 181.5h1.2v1.2h-1.2zM77.3 181.4h1.2v1.2h-1.2zM77.6 180.3h1.2v1.2h-1.2zM77.5 180.7h1.2v1.2h-1.2zM77.5 180.5h1.2v1.2h-1.2zM78.0 180.8h1.2v1.2h-1.2zM77.2 180.3h1.2v1.2h-1.2zM80.6 151.2h1.2v1.2h-1.2zM80.2 151.8h1.2v1.2h-1.2zM80.1 151.4h1.2v1.2h-1.2zM80.7 151.4h1.2v1.2h-1.2zM80.5 151.9h1.2v1.2h-1.2zM80.8 151.9h1.2v1.2h-1.2zM80.9 151.8h1.2v1.2h-1.2zM80.4 151.8h1.2v1.2h-1.2zM85.8 195.2h1.2v1.2h-1.2zM85.9 195.1h1.2v1.2h-1.2zM85.9 195.5h1.2v1.2h-1.2zM85.6 195.8h1.2v1.2h-1.2zM85.2 195.5h1.2v1.2h-1.2zM85.1 195.5h1.2v1.2h-1.2zM87.3 173.7h1.2v1.2h-1.2zM87.0 173.5h1.2v1.2h-1.2zM87.1 173.8h1.2v1.2h-1.2zM87.8 173.9h1.2v1.2h-1.2zM87.6 173.6h1.2v1.2h-1.2zM78.6 160.8h1.2v1.2h-1.2zM78.6 160.2h1.2v1.2h-1.2zM79.0 160.1h1.2v1.2h-1.2zM78.9 160.9h1.2v1.2h-1.2zM78.7 160.8h1.2v1.2h-1.2z" fill="rgb(84,192,60)"/>
<path d="M86.8 190.3h1.2v1.2h-1.2zM86.1 190.9h1.2v1.2h-1.2zM87.1 174.4h1.2v1.2h-1.2zM87.3 174.3h1.2v1.2h-1.2zM87.8 174.4h1.2v1.2h-1.2zM87.5 174.1h1.2v1.2h-1.2zM87.5 174.3h1.2v1.2h-1.2zM87.5 174.5h1.2v1.2h-1.2zM88.0 174.0h1.2v1.2h-1.2zM78.6 172.7h1.2v1.2h-1.2zM78.1 172.3h1.2v1.2h-1.2zM78.4 172.3h1.2v1.2h-1.2zM78.0 172.0h1.2v1.2h-1.2zM79.0 172.3h1.2v1.2h-1.2zM78.1 172.9h1.2v1.2h-1.2zM78.1 176.0h1.2v1.2h-1.2zM78.6 175.5h1.2v1.2h-1.2zM78.1 175.6h1.2v1.2h-1.2zM78.8 175.6h1.2v1.2h-1.2zM78.6 175.6h1.2v1.2h-1.2zM83.5 146.6h1.2v1.2h-1.2zM78.4 186.7h1.2v1.2h-1.2zM81.6 148.8h1.2v1.2h-1.2zM81.1 148.3h1.2v1.2h-1.2zM81.7 148.2h1.2v1.2h-1.2zM81.2 148.6h1.2v1.2h-1.2zM81.4 148.4h1.2v1.2h-1.2zM81.2 148.8h1.2v1.2h-1.2zM86.0 150.0h1.2v1.2h-1.2zM85.7 149.1h1.2v1.2h-1.2zM85.4 149.9h1.2v1.2h-1.2zM85.8 149.1h1.2v1.2h-1.2zM85.7 149.6h1.2v1.2h-1.2zM85.5 149.2h1.2v1.2h-1.2zM79.5 193.5h1.2v1.2h-1.2zM86.8 155.1h1.2v1.2h-1.2zM86.2 155.9h1.2v1.2h-1.2zM86.2 155.8h1.2v1.2h-1.2zM86.8 156.0h1.2v1.2h-1.2zM86.3 155.9h1.2v1.2h-1.2zM86.1 155.2h1.2v1.2h-1.2zM86.1 155.0h1.2v1.2h-1.2zM86.4 155.7h1.2v1.2h-1.2zM80.1 152.4h1.2v1.2h-1.2zM80.3 152.0h1.2v1.2h-1.2zM80.6 152.1h1.2v1.2h-1.2zM80.1 152.2h1.2v1.2h-1.2zM80.4 152.2h1.2v1.2h-1.2zM84.8 147.0h1.2v1.2h-1.2zM84.7 147.5h1.2v1.2h-1.2zM84.5 147.8h1.2v1.2h-1.2zM84.2 147.3h1.2v1.2h-1.2zM84.3 147.9h1.2v1.2h-1.2zM84.5 147.7h1.2v1.2h-1.2zM84.4 147.6h1.2v1.2h-1.2zM84.7 147.8h1.2v1.2h-1.2zM84.9 196.8h1.2v1.2h-1.2zM84.7 196.2h1.2v1.2h-1.2zM84.8 196.8h1.2v1.2h-1.2zM79.1 157.0h1.2v1.2h-1.2zM79.1 157.8h1.2v1.2h-1.2zM79.7 158.0h1.2v1.2h-1.2zM79.9 157.9h1.2v1.2h-1.2zM79.3 157.3h1.2v1.2h-1.2zM85.8 150.8h1.2v1.2h-1.2zM85.6 150.2h1.2v1.2h-1.2zM78.3 161.2h1.2v1.2h-1.2zM78.2 162.0h1.2v1.2h-1.2zM78.1 161.8h1.2v1.2h-1.2zM87.0 189.2h1.2v1.2h-1.2zM86.1 189.4h1.2v1.2h-1.2zM86.8 189.0h1.2v1.2h-1.2zM86.1 189.8h1.2v1.2h-1.2zM78.1 171.6h1.2v1.2h-1.2zM78.8 171.1h1.2v1.2h-1.2zM78.9 171.0h1.2v1.2h-1.2zM78.8 171.6h1.2v1.2h-1.2zM78.4 171.9h1.2v1.2h-1.2zM78.2 171.4h1.2v1.2h-1.2zM78.8 171.9h1.2v1.2h-1.2zM78.8 171.0h1.2v1.2h-1.2zM82.2 147.1h1.2v1.2h-1.2zM82.9 148.0h1.2v1.2h-1.2zM82.6 147.9h1.2v1.2h-1.2zM82.4 147.4h1.2v1.2h-1.2zM82.5 147.1h1.2v1.2h-1.2zM82.8 147.9h1.2v1.2h-1.2zM82.5 147.2h1.2v1.2h-1.2zM82.2 147.6h1.2v1.2h-1.2zM80.4 153.1h1.2v1.2h-1.2zM85.2 151.2h1.2v1.2h-1.2zM85.9 151.9h1.2v1.2h-1.2zM85.3 151.7h1.2v1.2h-1.2zM85.7 151.5h1.2v1.2h-1.2zM86.3 156.8h1.2v1.2h-1.2zM86.6 156.6h1.2v1.2h-1.2zM86.3 156.9h1.2v1.2h-1.2zM86.4 156.6h1.2v1.2h-1.2zM86.7 156.0h1.2v1.2h-1.2zM86.4 156.1h1.2v1.2h-1.2zM86.1 156.4h1.2v1.2h-1.2zM86.8 156.0h1.2v1.2h-1.2zM81.5 149.6h1.2v1.2h-1.2zM81.6 150.0h1.2v1.2h-1.2zM81.4 149.1h1.2v1.2h-1.2zM81.9 149.0h1.2v1.2h-1.2zM81.4 149.6h1.2v1.2h-1.2zM80.0 195.9h1.2v1.2h-1.2zM80.6 195.7h1.2v1.2h-1.2zM80.7 195.8h1.2v1.2h-1.2zM80.7 195.5h1.2v1.2h-1.2zM78.3 185.1h1.2v1.2h-1.2zM78.6 185.1h1.2v1.2h-1.2zM78.7 185.4h1.2v1.2h-1.2zM78.7 185.1h1.2v1.2h-1.2zM78.7 185.3h1.2v1.2h-1.2zM85.5 152.9h1.2v1.2h-1.2zM85.7 152.9h1.2v1.2h-1.2zM85.6 152.6h1.2v1.2h-1.2zM81.4 196.5h1.2v1.2h-1.2zM81.7 196.1h1.2v1.2h-1.2zM81.6 196.7h1.2v1.2h-1.2zM81.8 196.8h1.2v1.2h-1.2zM81.1 196.9h1.2v1.2h-1.2zM81.2 196.8h1.2v1.2h-1.2zM81.1 196.1h1.2v1.2h-1.2zM78.9 170.7h1.2v1.2h-1.2zM83.9 147.9h1.2v1.2h-1.2zM84.0 147.0h1.2v1.2h-1.2zM83.7 147.5h1.2v1.2h-1.2zM83.6 148.0h1.2v1.2h-1.2zM78.5 176.7h1.2v1.2h-1.2zM78.9 177.0h1.2v1.2h-1.2zM79.0 176.1h1.2v1.2h-1.2zM78.9 176.4h1.2v1.2h-1.2zM80.9 155.0h1.2v1.2h-1.2zM80.8 154.3h1.2v1.2h-1.2zM80.8 154.1h1.2v1.2h-1.2zM80.4 154.7h1.2v1.2h-1.2zM80.2 154.9h1.2v1.2h-1.2zM86.2 157.1h1.2v1.2h-1.2zM86.9 157.1h1.2v1.2h-1.2zM86.8 157.8h1.2v1.2h-1.2zM87.0 157.6h1.2v1.2h-1.2zM86.7 157.4h1.2v1.2h-1.2zM86.3 158.0h1.2v1.2h-1.2zM85.0 194.9h1.2v1.2h-1.2zM85.5 194.7h1.2v1.2h-1.2zM85.5 194.2h1.2v1.2h-1.2zM85.7 194.8h1.2v1.2h-1.2zM84.3 148.2h1.2v1.2h-1.2zM84.0 148.1h1.2v1.2h-1.2zM84.7 148.2h1.2v1.2h-1.2z" fill="rgb(96,192,60)"/>
<path d="M86.5 168.4h1.2v1.2h-1.2zM86.3 168.8h1.2v1.2h-1.2zM86.4 168.5h1.2v1.2h-1.2zM86.2 168.7h1.2v1.2h-1.2z" fill="rgb(108,192,60)"/>
<path d="M78.4 162.4h1.2v1.2h-1.2zM78.1 162.7h1.2v1.2h-1.2zM79.4 158.5h1.2v1.2h-1.2zM79.1 158.6h1.2v1.2h-1.2zM79.6 158.1h1.2v1.2h-1.2zM87.0 169.1h1.2v1.2h-1.2zM86.7 169.8h1.2v1.2h-1.2zM86.5 169.4h1.2v1.2h-1.2zM86.4 169.4h1.2v1.2h-1.2zM78.1 169.8h1.2v1.2h-1.2zM78.1 169.2h1.2v1.2h-1.2zM78.1 169.3h1.2v1.2h-1.2zM78.5 169.5h1.2v1.2h-1.2zM78.9 169.6h1.2v1.2h-1.2zM78.9 169.4h1.2v1.2h-1.2zM78.6 169.1h1.2v1.2h-1.2zM81.9 150.1h1.2v1.2h-1.2zM78.0 168.0h1.2v1.2h-1.2zM78.3 168.8h1.2v1.2h-1.2zM78.7 168.1h1.2v1.2h-1.2zM78.7 168.4h1.2v1.2h-1.2zM78.9 168.9h1.2v1.2h-1.2zM78.2 167.9h1.2v1.2h-1.2zM78.3 167.1h1.2v1.2h-1.2zM78.4 167.6h1.2v1.2h-1.2zM78.2 167.7h1.2v1.2h-1.2zM79.0 167.7h1.2v1.2h-1.2zM82.8 148.8h1.2v1.2h-1.2zM82.2 148.1h1.2v1.2h-1.2zM82.7 148.3h1.2v1.2h-1.2zM82.6 148.7h1.2v1.2h-1.2zM82.7 148.3h1.2v1.2h-1.2zM83.0 148.6h1.2v1.2h-1.2zM82.8 148.5h1.2v1.2h-1.2zM82.2 149.0h1.2v1.2h-1.2zM85.4 153.9h1.2v1.2h-1.2zM85.9 153.0h1.2v1.2h-1.2zM85.0 153.6h1.2v1.2h-1.2zM85.9 153.1h1.2v1.2h-1.2zM85.3 153.9h1.2v1.2h-1.2zM86.2 167.8h1.2v1.2h-1.2zM86.4 167.1h1.2v1.2h-1.2zM86.8 167.3h1.2v1.2h-1.2zM86.1 167.2h1.2v1.2h-1.2zM86.1 167.7h1.2v1.2h-1.2zM86.6 167.1h1.2v1.2h-1.2zM86.9 168.0h1.2v1.2h-1.2zM86.3 158.1h1.2v1.2h-1.2zM86.6 158.2h1.2v1.2h-1.2zM86.8 158.8h1.2v1.2h-1.2zM86.0 158.1h1.2v1.2h-1.2zM87.0 188.8h1.2v1.2h-1.2zM86.7 188.8h1.2v1.2h-1.2zM86.0 188.8h1.2v1.2h-1.2zM78.5 166.3h1.2v1.2h-1.2zM78.2 166.3h1.2v1.2h-1.2zM78.8 166.0h1.2v1.2h-1.2zM78.7 166.6h1.2v1.2h-1.2zM78.8 167.0h1.2v1.2h-1.2zM79.1 192.8h1.2v1.2h-1.2zM79.6 192.4h1.2v1.2h-1.2zM79.8 192.9h1.2v1.2h-1.2zM79.7 192.4h1.2v1.2h-1.2zM79.5 192.5h1.2v1.2h-1.2zM79.5 192.2h1.2v1.2h-1.2zM79.1 192.5h1.2v1.2h-1.2zM80.7 155.2h1.2v1.2h-1.2zM80.6 155.2h1.2v1.2h-1.2zM81.0 155.2h1.2v1.2h-1.2zM80.8 155.3h1.2v1.2h-1.2zM80.8 155.8h1.2v1.2h-1.2zM80.9 155.2h1.2v1.2h-1.2zM80.3 155.3h1.2v1.2h-1.2zM81.0 155.2h1.2v1.2h-1.2zM80.2 155.2h1.2v1.2h-1.2zM80.8 155.3h1.2v1.2h-1.2zM84.3 149.1h1.2v1.2h-1.2zM84.2 149.8h1.2v1.2h-1.2zM84.8 149.3h1.2v1.2h-1.2zM84.7 149.0h1.2v1.2h-1.2zM84.0 149.8h1.2v1.2h-1.2zM84.5 149.9h1.2v1.2h-1.2zM84.2 149.6h1.2v1.2h-1.2zM83.6 197.0h1.2v1.2h-1.2zM83.5 196.1h1.2v1.2h-1.2zM83.7 196.2h1.2v1.2h-1.2zM83.5 196.2h1.2v1.2h-1.2zM83.9 196.4h1.2v1.2h-1.2zM78.9 164.0h1.2v1.2h-1.2zM78.8 163.2h1.2v1.2h-1.2zM78.1 165.4h1.2v1.2h-1.2zM78.5 165.2h1.2v1.2h-1.2zM78.4 165.3h1.2v1.2h-1.2zM78.6 165.7h1.2v1.2h-1.2zM78.2 165.9h1.2v1.2h-1.2zM78.3 165.2h1.2v1.2h-1.2zM86.8 170.8h1.2v1.2h-1.2zM86.5 170.2h1.2v1.2h-1.2zM83.6 148.8h1.2v1.2h-1.2zM83.6 148.1h1.2v1.2h-1.2zM83.1 148.5h1.2v1.2h-1.2zM83.6 148.9h1.2v1.2h-1.2zM84.0 148.8h1.2v1.2h-1.2zM83.2 148.4h1.2v1.2h-1.2zM81.5 151.1h1.2v1.2h-1.2zM81.8 151.9h1.2v1.2h-1.2zM81.1 151.5h1.2v1.2h-1.2zM81.1 151.9h1.2v1.2h-1.2zM78.0 164.4h1.2v1.2h-1.2zM78.0 165.0h1.2v1.2h-1.2zM78.4 164.7h1.2v1.2h-1.2zM78.2 164.2h1.2v1.2h-1.2zM78.2 164.5h1.2v1.2h-1.2zM79.0 164.5h1.2v1.2h-1.2zM78.1 164.6h1.2v1.2h-1.2zM78.8 184.8h1.2v1.2h-1.2zM78.5 184.8h1.2v1.2h-1.2zM78.0 184.5h1.2v1.2h-1.2zM78.4 184.0h1.2v1.2h-1.2zM84.2 150.3h1.2v1.2h-1.2zM84.2 150.6h1.2v1.2h-1.2zM84.7 151.0h1.2v1.2h-1.2zM82.8 196.8h1.2v1.2h-1.2zM82.1 196.2h1.2v1.2h-1.2zM82.8 196.2h1.2v1.2h-1.2zM82.0 196.4h1.2v1.2h-1.2zM79.1 159.9h1.2v1.2h-1.2zM79.7 159.3h1.2v1.2h-1.2zM79.5 159.7h1.2v1.2h-1.2zM79.8 159.8h1.2v1.2h-1.2zM79.9 159.9h1.2v1.2h-1.2zM80.0 159.6h1.2v1.2h-1.2zM79.1 159.0h1.2v1.2h-1.2zM86.6 166.7h1.2v1.2h-1.2zM86.2 166.7h1.2v1.2h-1.2zM86.8 166.0h1.2v1.2h-1.2zM87.0 166.9h1.2v1.2h-1.2zM86.9 166.2h1.2v1.2h-1.2zM86.0 193.3h1.2v1.2h-1.2zM85.1 194.0h1.2v1.2h-1.2zM85.1 193.3h1.2v1.2h-1.2zM85.8 193.7h1.2v1.2h-1.2zM85.5 193.2h1.2v1.2h-1.2zM85.2 193.0h1.2v1.2h-1.2zM85.4 193.0h1.2v1.2h-1.2zM82.4 149.1h1.2v1.2h-1.2zM82.8 149.1h1.2v1.2h-1.2zM82.0 149.3h1.2v1.2h-1.2zM84.5 151.0h1.2v1.2h-1.2zM84.8 151.0h1.2v1.2h-1.2zM84.9 151.2h1.2v1.2h-1.2zM84.7 151.0h1.2v1.2h-1.2zM84.2 151.4h1.2v1.2h-1.2zM86.7 159.0h1.2v1.2h-1.2zM86.9 159.7h1.2v1.2h-1.2zM86.0 159.2h1.2v1.2h-1.2zM86.2 159.2h1.2v1.2h-1.2zM85.4 154.3h1.2v1.2h-1.2zM85.1 154.9h1.2v1.2h-1.2zM85.3 154.0h1.2v1.2h-1.2zM85.3 154.3h1.2v1.2h-1.2zM85.2 154.4h1.2v1.2h-1.2zM80.9 157.0h1.2v1.2h-1.2zM80.5 156.2h1.2v1.2h-1.2zM80.3 156.3h1.2v1.2h-1.2zM80.2 156.5h1.2v1.2h-1.2zM80.4 156.1h1.2v1.2h-1.2zM80.3 156.8h1.2v1.2h-1.2zM80.4 157.0h1.2v1.2h-1.2zM84.6 195.9h1.2v1.2h-1.2zM84.1 195.5h1.2v1.2h-1.2zM84.3 195.6h1.2v1.2h-1.2zM84.3 195.7h1.2v1.2h-1.2zM84.4 195.2h1.2v1.2h-1.2zM84.4 195.8h1.2v1.2h-1.2zM81.8 152.6h1.2v1.2h-1.2zM81.8 152.8h1.2v1.2h-1.2zM81.9 152.9h1.2v1.2h-1.2zM81.0 152.9h1.2v1.2h-1.2zM78.6 177.7h1.2v1.2h-1.2zM78.6 177.2h1.2v1.2h-1.2zM78.6 177.5h1.2v1.2h-1.2zM78.9 177.6h1.2v1.2h-1.2zM83.5 149.2h1.2v1.2h-1.2zM83.2 150.0h1.2v1.2h-1.2zM83.8 149.5h1.2v1.2h-1.2zM83.9 149.4h1.2v1.2h-1.2zM83.8 149.0h1.2v1.2h-1.2z" fill="rgb(108,204,60)"/>
<path d="M84.9 152.9h1.2v1.2h-1.2zM84.2 152.3h1.2v1.2h-1.2zM84.2 152.9h1.2v1.2h-1.2zM84.4 152.2h1.2v1.2h-1.2zM80.1 194.8h1.2v1.2h-1.2zM80.0 194.9h1.2v1.2h-1.2zM80.0 194.4h1.2v1.2h-1.2zM80.3 194.3h1.2v1.2h-1.2zM81.0 194.9h1.2v1.2h-1.2zM80.4 194.9h1.2v1.2h-1.2zM86.7 165.0h1.2v1.2h-1.2zM86.3 165.5h1.2v1.2h-1.2zM86.6 165.3h1.2v1.2h-1.2zM82.9 150.1h1.2v1.2h-1.2zM82.5 150.4h1.2v1.2h-1.2zM83.0 150.8h1.2v1.2h-1.2zM82.9 150.2h1.2v1.2h-1.2zM82.0 150.2h1.2v1.2h-1.2zM86.8 171.6h1.2v1.2h-1.2zM86.9 171.7h1.2v1.2h-1.2zM86.3 171.5h1.2v1.2h-1.2zM86.7 171.5h1.2v1.2h-1.2zM83.1 150.1h1.2v1.2h-1.2zM83.3 150.5h1.2v1.2h-1.2zM83.1 150.4h1.2v1.2h-1.2zM83.9 150.2h1.2v1.2h-1.2zM83.7 150.9h1.2v1.2h-1.2zM83.1 150.1h1.2v1.2h-1.2zM85.6 192.7h1.2v1.2h-1.2zM85.4 192.8h1.2v1.2h-1.2zM85.1 192.8h1.2v1.2h-1.2zM81.3 153.5h1.2v1.2h-1.2zM81.4 153.5h1.2v1.2h-1.2zM81.3 153.5h1.2v1.2h-1.2zM81.1 153.3h1.2v1.2h-1.2zM82.0 153.2h1.2v1.2h-1.2zM81.7 153.3h1.2v1.2h-1.2zM81.7 153.4h1.2v1.2h-1.2zM81.7 153.8h1.2v1.2h-1.2zM81.7 153.1h1.2v1.2h-1.2zM81.8 153.6h1.2v1.2h-1.2zM79.6 160.0h1.2v1.2h-1.2zM79.7 160.8h1.2v1.2h-1.2zM79.1 160.1h1.2v1.2h-1.2zM79.8 160.2h1.2v1.2h-1.2zM86.1 187.3h1.2v1.2h-1.2zM86.7 187.1h1.2v1.2h-1.2zM86.6 187.1h1.2v1.2h-1.2zM86.8 187.6h1.2v1.2h-1.2zM86.8 187.6h1.2v1.2h-1.2zM86.6 187.1h1.2v1.2h-1.2zM79.0 191.8h1.2v1.2h-1.2zM79.5 191.1h1.2v1.2h-1.2zM79.6 191.8h1.2v1.2h-1.2zM79.6 191.3h1.2v1.2h-1.2zM79.4 191.3h1.2v1.2h-1.2zM79.4 191.4h1.2v1.2h-1.2zM79.4 191.9h1.2v1.2h-1.2zM79.5 191.7h1.2v1.2h-1.2zM82.2 151.3h1.2v1.2h-1.2zM82.6 151.6h1.2v1.2h-1.2zM82.4 151.5h1.2v1.2h-1.2zM82.2 151.4h1.2v1.2h-1.2zM82.3 151.9h1.2v1.2h-1.2zM83.0 151.1h1.2v1.2h-1.2zM86.9 160.5h1.2v1.2h-1.2zM86.2 160.6h1.2v1.2h-1.2zM86.4 160.8h1.2v1.2h-1.2zM83.9 151.2h1.2v1.2h-1.2zM83.4 151.6h1.2v1.2h-1.2zM83.8 151.9h1.2v1.2h-1.2zM83.5 151.1h1.2v1.2h-1.2zM83.9 151.6h1.2v1.2h-1.2z" fill="rgb(120,204,60)"/>
<path d="M86.1 164.1h1.2v1.2h-1.2zM87.0 164.2h1.2v1.2h-1.2zM86.8 165.0h1.2v1.2h-1.2zM86.9 164.3h1.2v1.2h-1.2zM78.4 183.6h1.2v1.2h-1.2zM78.7 183.2h1.2v1.2h-1.2zM78.7 183.4h1.2v1.2h-1.2zM78.6 183.1h1.2v1.2h-1.2zM85.2 155.3h1.2v1.2h-1.2zM85.7 155.8h1.2v1.2h-1.2zM85.9 155.7h1.2v1.2h-1.2zM85.9 155.6h1.2v1.2h-1.2zM86.0 155.4h1.2v1.2h-1.2zM84.5 153.8h1.2v1.2h-1.2zM84.8 154.0h1.2v1.2h-1.2zM84.4 153.1h1.2v1.2h-1.2zM84.2 153.3h1.2v1.2h-1.2zM80.1 157.2h1.2v1.2h-1.2zM80.7 157.9h1.2v1.2h-1.2zM80.7 157.8h1.2v1.2h-1.2zM80.2 157.0h1.2v1.2h-1.2zM80.5 157.4h1.2v1.2h-1.2zM80.8 157.0h1.2v1.2h-1.2zM87.0 179.2h1.2v1.2h-1.2zM86.5 179.3h1.2v1.2h-1.2zM86.8 179.7h1.2v1.2h-1.2zM86.8 179.5h1.2v1.2h-1.2zM86.5 179.6h1.2v1.2h-1.2zM86.2 180.4h1.2v1.2h-1.2zM81.0 154.2h1.2v1.2h-1.2zM81.6 155.0h1.2v1.2h-1.2zM81.8 154.9h1.2v1.2h-1.2zM81.2 154.5h1.2v1.2h-1.2zM81.8 195.9h1.2v1.2h-1.2zM81.6 195.1h1.2v1.2h-1.2zM81.1 195.1h1.2v1.2h-1.2zM81.7 195.2h1.2v1.2h-1.2zM86.6 178.9h1.2v1.2h-1.2zM86.2 178.0h1.2v1.2h-1.2zM86.5 178.3h1.2v1.2h-1.2zM86.2 178.8h1.2v1.2h-1.2zM86.8 178.1h1.2v1.2h-1.2zM85.7 191.8h1.2v1.2h-1.2zM85.2 191.9h1.2v1.2h-1.2zM85.5 191.2h1.2v1.2h-1.2zM85.7 191.2h1.2v1.2h-1.2zM85.9 191.0h1.2v1.2h-1.2zM85.4 191.1h1.2v1.2h-1.2zM83.9 152.5h1.2v1.2h-1.2zM83.3 152.3h1.2v1.2h-1.2zM82.7 152.6h1.2v1.2h-1.2zM82.8 152.8h1.2v1.2h-1.2zM82.8 152.5h1.2v1.2h-1.2zM82.6 152.9h1.2v1.2h-1.2zM83.0 152.2h1.2v1.2h-1.2zM83.0 152.5h1.2v1.2h-1.2zM82.4 152.8h1.2v1.2h-1.2zM82.5 152.4h1.2v1.2h-1.2zM82.5 152.7h1.2v1.2h-1.2zM86.1 172.8h1.2v1.2h-1.2zM86.5 172.1h1.2v1.2h-1.2zM86.6 172.4h1.2v1.2h-1.2zM86.1 172.9h1.2v1.2h-1.2zM86.6 172.4h1.2v1.2h-1.2zM86.2 172.8h1.2v1.2h-1.2zM86.5 172.7h1.2v1.2h-1.2zM86.4 163.8h1.2v1.2h-1.2zM86.2 163.7h1.2v1.2h-1.2zM86.4 163.2h1.2v1.2h-1.2zM86.1 181.5h1.2v1.2h-1.2zM86.0 181.3h1.2v1.2h-1.2zM86.3 181.0h1.2v1.2h-1.2zM86.8 181.2h1.2v1.2h-1.2zM86.4 181.7h1.2v1.2h-1.2zM86.8 181.7h1.2v1.2h-1.2zM86.9 181.9h1.2v1.2h-1.2zM86.8 181.9h1.2v1.2h-1.2zM86.9 181.8h1.2v1.2h-1.2zM86.7 161.6h1.2v1.2h-1.2zM86.3 161.9h1.2v1.2h-1.2zM86.0 161.8h1.2v1.2h-1.2zM86.8 161.1h1.2v1.2h-1.2zM86.1 161.2h1.2v1.2h-1.2zM86.9 161.2h1.2v1.2h-1.2zM86.1 161.7h1.2v1.2h-1.2zM86.6 161.7h1.2v1.2h-1.2zM79.6 161.4h1.2v1.2h-1.2zM78.9 178.3h1.2v1.2h-1.2zM78.3 178.9h1.2v1.2h-1.2zM78.4 178.5h1.2v1.2h-1.2zM86.4 162.9h1.2v1.2h-1.2zM86.5 162.3h1.2v1.2h-1.2zM86.7 177.4h1.2v1.2h-1.2zM86.8 177.0h1.2v1.2h-1.2zM86.1 177.4h1.2v1.2h-1.2zM86.3 177.2h1.2v1.2h-1.2zM86.3 177.4h1.2v1.2h-1.2zM86.3 177.0h1.2v1.2h-1.2zM85.3 156.1h1.2v1.2h-1.2zM85.8 156.4h1.2v1.2h-1.2zM85.8 156.8h1.2v1.2h-1.2zM85.5 156.1h1.2v1.2h-1.2z" fill="rgb(120,204,48)"/>
<path d="M79.4 190.0h1.2v1.2h-1.2zM79.9 191.0h1.2v1.2h-1.2zM79.3 190.5h1.2v1.2h-1.2zM79.7 190.2h1.2v1.2h-1.2zM79.3 190.2h1.2v1.2h-1.2zM79.3 190.9h1.2v1.2h-1.2zM79.3 190.6h1.2v1.2h-1.2zM84.7 194.1h1.2v1.2h-1.2zM84.1 194.0h1.2v1.2h-1.2zM84.8 194.1h1.2v1.2h-1.2zM84.8 194.8h1.2v1.2h-1.2zM84.4 195.0h1.2v1.2h-1.2zM86.0 186.5h1.2v1.2h-1.2zM86.2 186.2h1.2v1.2h-1.2zM86.5 186.3h1.2v1.2h-1.2zM86.0 186.7h1.2v1.2h-1.2zM86.9 186.6h1.2v1.2h-1.2zM86.7 186.7h1.2v1.2h-1.2zM86.5 186.2h1.2v1.2h-1.2zM81.6 155.9h1.2v1.2h-1.2zM81.4 155.2h1.2v1.2h-1.2zM81.5 155.2h1.2v1.2h-1.2zM81.4 155.5h1.2v1.2h-1.2zM81.5 155.9h1.2v1.2h-1.2zM80.0 158.2h1.2v1.2h-1.2zM80.7 158.7h1.2v1.2h-1.2zM80.9 158.1h1.2v1.2h-1.2zM80.3 158.3h1.2v1.2h-1.2zM80.7 158.7h1.2v1.2h-1.2zM80.6 158.8h1.2v1.2h-1.2zM82.5 153.6h1.2v1.2h-1.2zM82.0 153.8h1.2v1.2h-1.2zM82.1 153.3h1.2v1.2h-1.2zM82.0 153.8h1.2v1.2h-1.2zM82.0 153.2h1.2v1.2h-1.2zM79.4 174.0h1.2v1.2h-1.2zM83.4 195.2h1.2v1.2h-1.2zM83.6 195.7h1.2v1.2h-1.2zM83.1 195.1h1.2v1.2h-1.2zM83.8 195.2h1.2v1.2h-1.2zM83.2 195.8h1.2v1.2h-1.2zM83.3 195.3h1.2v1.2h-1.2zM84.0 195.1h1.2v1.2h-1.2zM84.2 154.2h1.2v1.2h-1.2zM84.7 155.0h1.2v1.2h-1.2zM84.1 154.5h1.2v1.2h-1.2zM84.4 154.3h1.2v1.2h-1.2zM84.0 154.7h1.2v1.2h-1.2zM83.4 153.1h1.2v1.2h-1.2zM83.6 153.4h1.2v1.2h-1.2zM83.1 154.0h1.2v1.2h-1.2zM83.9 153.6h1.2v1.2h-1.2zM83.7 153.0h1.2v1.2h-1.2zM80.5 193.3h1.2v1.2h-1.2zM80.9 193.5h1.2v1.2h-1.2zM80.8 193.4h1.2v1.2h-1.2zM87.0 173.4h1.2v1.2h-1.2zM86.4 173.6h1.2v1.2h-1.2zM86.9 174.0h1.2v1.2h-1.2zM86.8 173.2h1.2v1.2h-1.2zM86.3 173.8h1.2v1.2h-1.2zM79.8 174.5h1.2v1.2h-1.2zM79.1 174.2h1.2v1.2h-1.2zM79.2 174.9h1.2v1.2h-1.2zM79.5 174.1h1.2v1.2h-1.2zM80.0 174.8h1.2v1.2h-1.2zM86.7 176.8h1.2v1.2h-1.2zM86.5 176.5h1.2v1.2h-1.2zM86.9 176.4h1.2v1.2h-1.2zM86.3 176.5h1.2v1.2h-1.2zM86.0 190.6h1.2v1.2h-1.2zM85.5 190.5h1.2v1.2h-1.2zM78.6 182.8h1.2v1.2h-1.2zM78.1 182.5h1.2v1.2h-1.2zM78.6 182.1h1.2v1.2h-1.2zM78.5 183.0h1.2v1.2h-1.2zM79.8 189.0h1.2v1.2h-1.2zM79.7 189.3h1.2v1.2h-1.2zM79.5 189.9h1.2v1.2h-1.2zM79.6 189.5h1.2v1.2h-1.2zM79.6 189.1h1.2v1.2h-1.2zM79.1 189.7h1.2v1.2h-1.2zM86.7 174.1h1.2v1.2h-1.2zM86.2 174.7h1.2v1.2h-1.2zM86.5 174.4h1.2v1.2h-1.2zM86.8 174.8h1.2v1.2h-1.2zM86.8 174.7h1.2v1.2h-1.2zM86.3 174.6h1.2v1.2h-1.2zM86.5 175.3h1.2v1.2h-1.2zM86.1 175.2h1.2v1.2h-1.2zM86.4 175.5h1.2v1.2h-1.2zM86.3 175.3h1.2v1.2h-1.2zM86.5 175.0h1.2v1.2h-1.2zM86.2 175.9h1.2v1.2h-1.2zM86.3 175.6h1.2v1.2h-1.2zM79.5 172.7h1.2v1.2h-1.2zM79.7 172.5h1.2v1.2h-1.2zM79.0 172.8h1.2v1.2h-1.2zM79.5 173.0h1.2v1.2h-1.2zM79.3 172.2h1.2v1.2h-1.2zM79.9 172.7h1.2v1.2h-1.2zM82.9 195.6h1.2v1.2h-1.2zM82.3 195.3h1.2v1.2h-1.2zM82.2 195.0h1.2v1.2h-1.2zM82.8 195.3h1.2v1.2h-1.2zM82.9 195.8h1.2v1.2h-1.2zM82.6 195.2h1.2v1.2h-1.2zM82.8 195.5h1.2v1.2h-1.2zM82.4 195.6h1.2v1.2h-1.2zM82.2 195.8h1.2v1.2h-1.2zM85.5 157.2h1.2v1.2h-1.2zM85.7 157.6h1.2v1.2h-1.2zM85.8 157.2h1.2v1.2h-1.2zM85.5 157.4h1.2v1.2h-1.2zM85.6 157.9h1.2v1.2h-1.2zM85.3 158.0h1.2v1.2h-1.2zM86.5 183.2h1.2v1.2h-1.2zM87.0 183.2h1.2v1.2h-1.2zM86.4 183.2h1.2v1.2h-1.2zM86.3 183.9h1.2v1.2h-1.2zM79.8 188.1h1.2v1.2h-1.2zM79.1 188.4h1.2v1.2h-1.2zM79.6 188.4h1.2v1.2h-1.2zM79.3 188.3h1.2v1.2h-1.2zM79.2 188.1h1.2v1.2h-1.2zM79.2 188.3h1.2v1.2h-1.2zM85.4 168.5h1.2v1.2h-1.2zM85.9 168.9h1.2v1.2h-1.2zM86.0 168.5h1.2v1.2h-1.2zM85.6 169.0h1.2v1.2h-1.2zM85.9 169.0h1.2v1.2h-1.2zM86.0 185.1h1.2v1.2h-1.2zM86.8 185.0h1.2v1.2h-1.2zM86.4 185.0h1.2v1.2h-1.2zM86.9 185.4h1.2v1.2h-1.2zM86.8 185.3h1.2v1.2h-1.2zM86.8 185.7h1.2v1.2h-1.2zM82.2 154.2h1.2v1.2h-1.2zM82.2 154.7h1.2v1.2h-1.2zM81.9 156.6h1.2v1.2h-1.2zM81.7 156.4h1.2v1.2h-1.2zM85.3 169.2h1.2v1.2h-1.2zM85.5 170.0h1.2v1.2h-1.2zM85.1 169.5h1.2v1.2h-1.2zM79.5 187.6h1.2v1.2h-1.2zM80.0 187.9h1.2v1.2h-1.2zM79.9 187.6h1.2v1.2h-1.2zM79.1 187.4h1.2v1.2h-1.2zM79.6 162.1h1.2v1.2h-1.2zM79.4 162.7h1.2v1.2h-1.2zM79.7 162.3h1.2v1.2h-1.2zM79.4 162.9h1.2v1.2h-1.2zM79.2 163.0h1.2v1.2h-1.2zM79.1 163.0h1.2v1.2h-1.2zM79.6 162.0h1.2v1.2h-1.2zM86.8 184.2h1.2v1.2h-1.2zM86.3 184.3h1.2v1.2h-1.2zM87.0 184.8h1.2v1.2h-1.2zM87.0 184.4h1.2v1.2h-1.2zM86.2 184.2h1.2v1.2h-1.2zM86.4 184.5h1.2v1.2h-1.2zM80.9 159.4h1.2v1.2h-1.2zM80.2 159.4h1.2v1.2h-1.2zM80.8 159.5h1.2v1.2h-1.2zM81.0 160.0h1.2v1.2h-1.2zM78.0 179.7h1.2v1.2h-1.2zM78.2 179.2h1.2v1.2h-1.2zM78.8 179.4h1.2v1.2h-1.2zM78.9 179.6h1.2v1.2h-1.2zM79.2 175.1h1.2v1.2h-1.2zM79.5 175.4h1.2v1.2h-1.2zM79.4 175.6h1.2v1.2h-1.2zM79.6 175.3h1.2v1.2h-1.2zM83.6 154.2h1.2v1.2h-1.2zM83.1 154.0h1.2v1.2h-1.2zM83.9 154.4h1.2v1.2h-1.2zM83.0 154.9h1.2v1.2h-1.2zM79.7 171.3h1.2v1.2h-1.2zM79.1 171.4h1.2v1.2h-1.2zM79.6 171.6h1.2v1.2h-1.2zM79.6 171.4h1.2v1.2h-1.2zM79.7 171.3h1.2v1.2h-1.2zM78.8 181.8h1.2v1.2h-1.2zM78.0 181.7h1.2v1.2h-1.2zM78.7 181.0h1.2v1.2h-1.2zM78.2 181.6h1.2v1.2h-1.2zM78.9 181.2h1.2v1.2h-1.2zM84.8 155.0h1.2v1.2h-1.2zM84.3 155.1h1.2v1.2h-1.2zM84.7 155.1h1.2v1.2h-1.2zM84.8 155.8h1.2v1.2h-1.2zM84.6 155.0h1.2v1.2h-1.2zM84.6 155.8h1.2v1.2h-1.2zM84.2 193.3h1.2v1.2h-1.2zM84.3 193.9h1.2v1.2h-1.2zM84.4 193.7h1.2v1.2h-1.2zM84.5 193.9h1.2v1.2h-1.2zM84.1 193.2h1.2v1.2h-1.2zM84.4 193.4h1.2v1.2h-1.2zM84.5 193.3h1.2v1.2h-1.2zM84.8 193.1h1.2v1.2h-1.2zM85.0 167.1h1.2v1.2h-1.2zM86.0 167.8h1.2v1.2h-1.2zM85.7 167.9h1.2v1.2h-1.2zM85.5 158.3h1.2v1.2h-1.2zM85.8 158.6h1.2v1.2h-1.2zM85.1 158.5h1.2v1.2h-1.2zM85.8 158.2h1.2v1.2h-1.2zM78.1 180.9h1.2v1.2h-1.2zM78.1 180.5h1.2v1.2h-1.2zM78.7 180.2h1.2v1.2h-1.2zM78.8 180.4h1.2v1.2h-1.2zM78.6 180.3h1.2v1.2h-1.2zM78.2 180.0h1.2v1.2h-1.2z" fill="rgb(132,204,48)"/>
<path d="M79.5 187.0h1.2v1.2h-1.2zM79.8 186.8h1.2v1.2h-1.2zM79.3 186.1h1.2v1.2h-1.2zM79.6 186.7h1.2v1.2h-1.2zM79.9 186.3h1.2v1.2h-1.2zM81.6 194.3h1.2v1.2h-1.2zM81.8 194.7h1.2v1.2h-1.2zM81.6 194.1h1.2v1.2h-1.2zM81.8 194.2h1.2v1.2h-1.2zM81.8 194.9h1.2v1.2h-1.2zM81.5 194.7h1.2v1.2h-1.2zM81.5 194.6h1.2v1.2h-1.2zM81.9 194.6h1.2v1.2h-1.2zM85.4 189.9h1.2v1.2h-1.2zM85.5 189.2h1.2v1.2h-1.2zM85.2 189.6h1.2v1.2h-1.2zM85.3 189.5h1.2v1.2h-1.2zM85.6 189.6h1.2v1.2h-1.2zM85.1 189.8h1.2v1.2h-1.2zM79.1 170.5h1.2v1.2h-1.2zM79.9 170.3h1.2v1.2h-1.2zM79.9 170.9h1.2v1.2h-1.2zM79.8 170.9h1.2v1.2h-1.2zM79.8 170.3h1.2v1.2h-1.2zM79.1 170.9h1.2v1.2h-1.2zM79.2 170.1h1.2v1.2h-1.2zM82.9 155.0h1.2v1.2h-1.2zM82.4 155.8h1.2v1.2h-1.2zM82.2 155.9h1.2v1.2h-1.2zM82.3 155.8h1.2v1.2h-1.2zM82.3 155.5h1.2v1.2h-1.2zM85.7 170.5h1.2v1.2h-1.2zM85.6 170.8h1.2v1.2h-1.2zM85.7 170.3h1.2v1.2h-1.2zM85.6 170.6h1.2v1.2h-1.2zM85.4 170.7h1.2v1.2h-1.2zM85.2 170.4h1.2v1.2h-1.2zM81.5 157.9h1.2v1.2h-1.2zM81.8 157.7h1.2v1.2h-1.2zM82.0 157.0h1.2v1.2h-1.2zM81.9 157.4h1.2v1.2h-1.2zM81.7 157.4h1.2v1.2h-1.2zM81.4 157.2h1.2v1.2h-1.2zM81.7 157.1h1.2v1.2h-1.2zM81.4 157.7h1.2v1.2h-1.2zM79.2 163.2h1.2v1.2h-1.2zM79.9 163.6h1.2v1.2h-1.2zM79.3 163.6h1.2v1.2h-1.2zM79.5 163.9h1.2v1.2h-1.2zM79.6 163.1h1.2v1.2h-1.2zM79.2 163.1h1.2v1.2h-1.2zM80.2 192.2h1.2v1.2h-1.2zM80.9 192.8h1.2v1.2h-1.2zM80.0 192.4h1.2v1.2h-1.2zM80.4 192.7h1.2v1.2h-1.2zM79.3 169.1h1.2v1.2h-1.2zM79.3 169.4h1.2v1.2h-1.2zM79.6 169.6h1.2v1.2h-1.2zM79.4 169.3h1.2v1.2h-1.2zM79.8 169.3h1.2v1.2h-1.2zM79.8 169.3h1.2v1.2h-1.2zM80.0 168.5h1.2v1.2h-1.2zM79.8 168.4h1.2v1.2h-1.2zM79.3 168.7h1.2v1.2h-1.2zM79.5 168.8h1.2v1.2h-1.2zM79.2 168.1h1.2v1.2h-1.2zM79.2 168.3h1.2v1.2h-1.2zM79.5 168.6h1.2v1.2h-1.2zM80.0 167.7h1.2v1.2h-1.2zM79.2 167.7h1.2v1.2h-1.2zM79.8 167.7h1.2v1.2h-1.2zM79.6 167.5h1.2v1.2h-1.2zM79.2 167.9h1.2v1.2h-1.2zM80.2 160.5h1.2v1.2h-1.2zM80.9 160.7h1.2v1.2h-1.2zM80.5 160.4h1.2v1.2h-1.2zM80.6 160.2h1.2v1.2h-1.2zM80.9 160.1h1.2v1.2h-1.2zM80.6 160.2h1.2v1.2h-1.2zM80.1 160.6h1.2v1.2h-1.2zM80.1 160.0h1.2v1.2h-1.2zM80.3 160.4h1.2v1.2h-1.2zM80.8 160.8h1.2v1.2h-1.2zM83.5 155.2h1.2v1.2h-1.2zM83.1 156.0h1.2v1.2h-1.2zM83.6 155.3h1.2v1.2h-1.2zM83.1 155.8h1.2v1.2h-1.2zM83.5 155.1h1.2v1.2h-1.2zM83.9 155.8h1.2v1.2h-1.2zM83.6 155.6h1.2v1.2h-1.2zM83.2 155.8h1.2v1.2h-1.2zM83.9 155.9h1.2v1.2h-1.2zM83.2 194.6h1.2v1.2h-1.2zM83.3 194.9h1.2v1.2h-1.2zM83.9 194.6h1.2v1.2h-1.2zM83.7 194.3h1.2v1.2h-1.2zM79.9 166.1h1.2v1.2h-1.2zM85.8 166.0h1.2v1.2h-1.2zM85.2 166.7h1.2v1.2h-1.2zM85.3 166.6h1.2v1.2h-1.2zM85.3 166.6h1.2v1.2h-1.2zM86.0 166.0h1.2v1.2h-1.2zM85.5 166.7h1.2v1.2h-1.2zM85.8 166.6h1.2v1.2h-1.2zM84.4 156.4h1.2v1.2h-1.2zM84.2 156.8h1.2v1.2h-1.2zM84.3 156.3h1.2v1.2h-1.2zM84.5 156.2h1.2v1.2h-1.2zM84.0 156.0h1.2v1.2h-1.2zM84.9 156.7h1.2v1.2h-1.2zM79.5 164.1h1.2v1.2h-1.2zM79.8 165.0h1.2v1.2h-1.2zM79.7 164.7h1.2v1.2h-1.2zM79.2 164.4h1.2v1.2h-1.2zM79.6 164.0h1.2v1.2h-1.2zM79.3 165.4h1.2v1.2h-1.2zM79.2 165.3h1.2v1.2h-1.2zM79.3 165.6h1.2v1.2h-1.2zM79.2 165.9h1.2v1.2h-1.2zM84.4 192.7h1.2v1.2h-1.2zM85.3 159.5h1.2v1.2h-1.2zM85.0 159.7h1.2v1.2h-1.2zM85.9 159.8h1.2v1.2h-1.2zM85.5 159.8h1.2v1.2h-1.2zM85.8 159.8h1.2v1.2h-1.2zM85.4 159.5h1.2v1.2h-1.2zM85.5 159.3h1.2v1.2h-1.2zM85.9 159.9h1.2v1.2h-1.2zM85.9 159.2h1.2v1.2h-1.2zM79.6 185.2h1.2v1.2h-1.2zM79.3 185.7h1.2v1.2h-1.2zM79.2 176.2h1.2v1.2h-1.2zM79.7 176.8h1.2v1.2h-1.2zM79.0 176.6h1.2v1.2h-1.2zM79.7 176.9h1.2v1.2h-1.2zM79.4 176.6h1.2v1.2h-1.2zM79.8 176.3h1.2v1.2h-1.2zM82.7 156.4h1.2v1.2h-1.2zM82.1 156.9h1.2v1.2h-1.2zM82.8 156.2h1.2v1.2h-1.2zM82.6 156.6h1.2v1.2h-1.2zM81.2 158.1h1.2v1.2h-1.2zM81.6 158.3h1.2v1.2h-1.2zM81.4 158.1h1.2v1.2h-1.2zM81.3 158.4h1.2v1.2h-1.2zM81.1 158.7h1.2v1.2h-1.2zM82.6 194.5h1.2v1.2h-1.2zM82.7 194.6h1.2v1.2h-1.2zM82.3 194.7h1.2v1.2h-1.2zM82.4 194.4h1.2v1.2h-1.2zM82.6 194.6h1.2v1.2h-1.2zM82.7 194.2h1.2v1.2h-1.2zM82.9 194.6h1.2v1.2h-1.2zM83.0 194.6h1.2v1.2h-1.2zM85.7 171.9h1.2v1.2h-1.2zM85.7 171.2h1.2v1.2h-1.2zM85.3 171.3h1.2v1.2h-1.2zM85.9 171.4h1.2v1.2h-1.2zM85.6 171.2h1.2v1.2h-1.2zM85.6 171.6h1.2v1.2h-1.2zM85.1 188.5h1.2v1.2h-1.2zM85.8 188.9h1.2v1.2h-1.2zM85.3 188.2h1.2v1.2h-1.2zM85.3 188.7h1.2v1.2h-1.2zM83.4 156.4h1.2v1.2h-1.2zM83.2 156.1h1.2v1.2h-1.2zM83.9 156.5h1.2v1.2h-1.2zM84.0 157.0h1.2v1.2h-1.2zM83.9 156.3h1.2v1.2h-1.2zM83.1 156.0h1.2v1.2h-1.2zM83.3 156.1h1.2v1.2h-1.2zM84.0 156.3h1.2v1.2h-1.2zM84.8 157.2h1.2v1.2h-1.2zM84.2 157.1h1.2v1.2h-1.2zM84.7 157.9h1.2v1.2h-1.2zM84.2 157.6h1.2v1.2h-1.2z" fill="rgb(144,204,48)"/>
<path d="M85.0 165.3h1.2v1.2h-1.2zM85.4 165.3h1.2v1.2h-1.2zM85.1 165.9h1.2v1.2h-1.2zM85.7 165.2h1.2v1.2h-1.2zM81.4 193.3h1.2v1.2h-1.2zM81.7 193.4h1.2v1.2h-1.2zM81.4 193.7h1.2v1.2h-1.2zM81.1 193.9h1.2v1.2h-1.2zM81.2 193.7h1.2v1.2h-1.2zM81.1 193.2h1.2v1.2h-1.2zM81.3 193.7h1.2v1.2h-1.2zM82.0 193.2h1.2v1.2h-1.2zM81.3 193.6h1.2v1.2h-1.2zM80.5 161.4h1.2v1.2h-1.2zM80.2 161.9h1.2v1.2h-1.2zM80.1 161.4h1.2v1.2h-1.2zM80.7 161.8h1.2v1.2h-1.2zM80.5 161.9h1.2v1.2h-1.2zM82.9 157.2h1.2v1.2h-1.2zM82.1 157.4h1.2v1.2h-1.2zM83.0 157.8h1.2v1.2h-1.2zM82.8 157.3h1.2v1.2h-1.2zM82.0 157.7h1.2v1.2h-1.2zM80.3 192.0h1.2v1.2h-1.2zM80.1 191.0h1.2v1.2h-1.2zM80.3 191.1h1.2v1.2h-1.2zM80.6 191.1h1.2v1.2h-1.2zM81.0 191.2h1.2v1.2h-1.2zM80.3 192.0h1.2v1.2h-1.2zM80.0 191.5h1.2v1.2h-1.2zM80.8 191.3h1.2v1.2h-1.2zM84.4 191.6h1.2v1.2h-1.2zM84.5 191.4h1.2v1.2h-1.2zM84.5 191.8h1.2v1.2h-1.2zM84.4 191.2h1.2v1.2h-1.2zM84.1 191.1h1.2v1.2h-1.2zM84.1 191.7h1.2v1.2h-1.2zM84.2 191.5h1.2v1.2h-1.2zM85.6 160.5h1.2v1.2h-1.2zM85.1 160.2h1.2v1.2h-1.2zM85.3 160.6h1.2v1.2h-1.2zM85.1 160.7h1.2v1.2h-1.2zM85.2 160.0h1.2v1.2h-1.2zM85.5 160.3h1.2v1.2h-1.2zM83.4 193.1h1.2v1.2h-1.2zM83.8 193.2h1.2v1.2h-1.2zM83.3 193.8h1.2v1.2h-1.2zM81.8 159.2h1.2v1.2h-1.2zM81.2 159.0h1.2v1.2h-1.2zM81.3 159.6h1.2v1.2h-1.2zM81.5 159.3h1.2v1.2h-1.2zM80.0 184.7h1.2v1.2h-1.2zM79.2 184.7h1.2v1.2h-1.2zM79.3 184.1h1.2v1.2h-1.2zM80.0 184.3h1.2v1.2h-1.2zM79.4 184.5h1.2v1.2h-1.2zM79.8 184.7h1.2v1.2h-1.2zM79.4 184.6h1.2v1.2h-1.2zM83.6 157.3h1.2v1.2h-1.2zM83.5 157.2h1.2v1.2h-1.2zM83.1 157.3h1.2v1.2h-1.2zM85.6 164.2h1.2v1.2h-1.2zM85.8 164.3h1.2v1.2h-1.2zM86.0 164.1h1.2v1.2h-1.2zM85.3 164.9h1.2v1.2h-1.2zM85.9 164.9h1.2v1.2h-1.2zM85.3 172.3h1.2v1.2h-1.2zM86.0 172.1h1.2v1.2h-1.2zM85.5 172.6h1.2v1.2h-1.2zM85.8 172.8h1.2v1.2h-1.2zM85.5 172.9h1.2v1.2h-1.2zM85.9 172.5h1.2v1.2h-1.2zM85.0 158.6h1.2v1.2h-1.2zM84.5 158.8h1.2v1.2h-1.2zM84.2 158.1h1.2v1.2h-1.2zM84.2 158.2h1.2v1.2h-1.2zM84.6 158.7h1.2v1.2h-1.2zM84.1 158.0h1.2v1.2h-1.2zM84.9 158.4h1.2v1.2h-1.2z" fill="rgb(156,204,48)"/>
<path d="M82.5 158.6h1.2v1.2h-1.2zM82.9 158.1h1.2v1.2h-1.2zM83.0 158.6h1.2v1.2h-1.2zM82.5 158.4h1.2v1.2h-1.2zM82.6 158.6h1.2v1.2h-1.2zM82.6 158.3h1.2v1.2h-1.2zM82.5 158.3h1.2v1.2h-1.2zM82.5 158.0h1.2v1.2h-1.2zM82.9 158.5h1.2v1.2h-1.2zM82.9 193.2h1.2v1.2h-1.2zM82.5 193.1h1.2v1.2h-1.2zM82.1 193.2h1.2v1.2h-1.2zM82.9 193.8h1.2v1.2h-1.2zM82.4 193.7h1.2v1.2h-1.2zM83.0 193.6h1.2v1.2h-1.2zM82.7 193.8h1.2v1.2h-1.2zM79.5 177.9h1.2v1.2h-1.2zM79.8 177.4h1.2v1.2h-1.2zM79.1 177.3h1.2v1.2h-1.2zM79.6 177.7h1.2v1.2h-1.2zM79.8 177.9h1.2v1.2h-1.2zM79.4 177.7h1.2v1.2h-1.2zM79.9 177.4h1.2v1.2h-1.2zM79.5 177.4h1.2v1.2h-1.2zM85.0 161.2h1.2v1.2h-1.2zM85.5 161.4h1.2v1.2h-1.2zM85.5 161.9h1.2v1.2h-1.2zM85.7 161.9h1.2v1.2h-1.2zM85.4 161.1h1.2v1.2h-1.2zM85.4 161.2h1.2v1.2h-1.2zM85.1 161.3h1.2v1.2h-1.2zM85.5 161.8h1.2v1.2h-1.2zM84.7 168.3h1.2v1.2h-1.2zM84.1 168.6h1.2v1.2h-1.2zM84.4 168.1h1.2v1.2h-1.2zM85.2 163.3h1.2v1.2h-1.2zM85.9 163.4h1.2v1.2h-1.2zM85.0 163.2h1.2v1.2h-1.2zM85.7 187.6h1.2v1.2h-1.2zM85.4 188.0h1.2v1.2h-1.2zM85.7 187.8h1.2v1.2h-1.2zM85.7 187.8h1.2v1.2h-1.2zM85.1 187.5h1.2v1.2h-1.2zM85.6 187.4h1.2v1.2h-1.2zM84.9 169.8h1.2v1.2h-1.2zM84.8 169.8h1.2v1.2h-1.2zM84.3 169.8h1.2v1.2h-1.2zM84.9 169.1h1.2v1.2h-1.2zM80.0 191.0h1.2v1.2h-1.2zM80.3 190.9h1.2v1.2h-1.2zM80.6 190.3h1.2v1.2h-1.2zM80.7 190.9h1.2v1.2h-1.2zM80.3 190.2h1.2v1.2h-1.2zM85.4 162.6h1.2v1.2h-1.2zM85.9 162.2h1.2v1.2h-1.2zM86.0 162.4h1.2v1.2h-1.2zM85.7 162.1h1.2v1.2h-1.2zM85.6 162.8h1.2v1.2h-1.2zM85.6 162.7h1.2v1.2h-1.2zM85.3 173.0h1.2v1.2h-1.2zM85.7 173.5h1.2v1.2h-1.2zM81.9 192.3h1.2v1.2h-1.2zM81.4 192.5h1.2v1.2h-1.2zM80.8 162.9h1.2v1.2h-1.2zM80.2 162.1h1.2v1.2h-1.2zM81.0 162.8h1.2v1.2h-1.2zM81.4 160.3h1.2v1.2h-1.2zM82.0 160.4h1.2v1.2h-1.2zM81.8 160.9h1.2v1.2h-1.2z" fill="rgb(168,204,48)"/>
<path d="M84.2 191.0h1.2v1.2h-1.2zM84.8 190.2h1.2v1.2h-1.2zM84.4 190.2h1.2v1.2h-1.2zM84.7 191.0h1.2v1.2h-1.2zM84.3 190.1h1.2v1.2h-1.2zM84.5 190.7h1.2v1.2h-1.2zM84.3 190.9h1.2v1.2h-1.2zM84.0 158.8h1.2v1.2h-1.2zM83.0 158.5h1.2v1.2h-1.2zM83.6 158.3h1.2v1.2h-1.2zM83.8 158.2h1.2v1.2h-1.2zM83.4 192.4h1.2v1.2h-1.2zM83.1 192.6h1.2v1.2h-1.2zM79.7 183.4h1.2v1.2h-1.2zM80.1 174.0h1.2v1.2h-1.2zM80.6 173.8h1.2v1.2h-1.2zM80.3 173.8h1.2v1.2h-1.2zM81.0 173.7h1.2v1.2h-1.2zM80.2 173.9h1.2v1.2h-1.2zM80.8 173.4h1.2v1.2h-1.2zM80.2 174.2h1.2v1.2h-1.2zM80.6 174.6h1.2v1.2h-1.2zM80.9 174.6h1.2v1.2h-1.2zM80.8 174.0h1.2v1.2h-1.2zM84.3 167.8h1.2v1.2h-1.2zM84.5 168.0h1.2v1.2h-1.2zM84.0 167.3h1.2v1.2h-1.2zM85.0 167.6h1.2v1.2h-1.2zM84.5 167.2h1.2v1.2h-1.2zM84.7 159.6h1.2v1.2h-1.2zM84.7 159.7h1.2v1.2h-1.2zM85.0 159.2h1.2v1.2h-1.2zM84.8 159.9h1.2v1.2h-1.2zM84.2 159.0h1.2v1.2h-1.2zM84.3 159.6h1.2v1.2h-1.2zM84.8 159.3h1.2v1.2h-1.2zM84.3 159.3h1.2v1.2h-1.2z" fill="rgb(168,204,36)"/>
<path d="M86.0 174.4h1.2v1.2h-1.2zM85.7 174.5h1.2v1.2h-1.2zM85.8 174.4h1.2v1.2h-1.2zM85.1 174.5h1.2v1.2h-1.2zM80.9 172.1h1.2v1.2h-1.2zM80.4 172.6h1.2v1.2h-1.2zM82.4 159.0h1.2v1.2h-1.2zM82.4 159.6h1.2v1.2h-1.2zM82.5 159.5h1.2v1.2h-1.2zM82.0 159.4h1.2v1.2h-1.2zM80.5 189.5h1.2v1.2h-1.2zM80.4 189.7h1.2v1.2h-1.2zM81.0 189.2h1.2v1.2h-1.2zM84.4 170.5h1.2v1.2h-1.2zM84.3 170.8h1.2v1.2h-1.2zM84.3 170.5h1.2v1.2h-1.2zM81.0 171.4h1.2v1.2h-1.2zM80.5 171.7h1.2v1.2h-1.2zM80.6 171.0h1.2v1.2h-1.2zM80.3 171.9h1.2v1.2h-1.2zM80.7 171.1h1.2v1.2h-1.2zM80.9 171.7h1.2v1.2h-1.2zM80.7 171.7h1.2v1.2h-1.2zM80.4 171.4h1.2v1.2h-1.2zM85.7 175.2h1.2v1.2h-1.2zM85.6 175.7h1.2v1.2h-1.2zM82.7 192.2h1.2v1.2h-1.2zM82.3 192.0h1.2v1.2h-1.2zM82.6 192.5h1.2v1.2h-1.2zM82.2 192.7h1.2v1.2h-1.2zM82.7 192.8h1.2v1.2h-1.2zM82.9 192.9h1.2v1.2h-1.2zM82.2 192.9h1.2v1.2h-1.2zM80.8 170.5h1.2v1.2h-1.2zM80.5 170.2h1.2v1.2h-1.2zM80.6 170.4h1.2v1.2h-1.2zM80.3 170.7h1.2v1.2h-1.2zM80.9 170.4h1.2v1.2h-1.2zM80.4 170.7h1.2v1.2h-1.2zM85.4 187.0h1.2v1.2h-1.2zM85.1 186.6h1.2v1.2h-1.2zM85.2 186.7h1.2v1.2h-1.2zM85.3 186.7h1.2v1.2h-1.2zM80.2 169.3h1.2v1.2h-1.2zM80.8 169.3h1.2v1.2h-1.2zM80.4 169.9h1.2v1.2h-1.2zM85.8 176.3h1.2v1.2h-1.2zM85.7 176.7h1.2v1.2h-1.2zM85.8 176.7h1.2v1.2h-1.2zM85.4 177.0h1.2v1.2h-1.2zM85.9 176.5h1.2v1.2h-1.2zM85.5 176.5h1.2v1.2h-1.2zM85.3 177.0h1.2v1.2h-1.2zM85.7 176.7h1.2v1.2h-1.2zM85.8 176.8h1.2v1.2h-1.2zM85.3 176.7h1.2v1.2h-1.2zM80.6 168.6h1.2v1.2h-1.2zM80.1 168.2h1.2v1.2h-1.2zM80.4 168.2h1.2v1.2h-1.2zM80.6 168.8h1.2v1.2h-1.2zM80.7 168.4h1.2v1.2h-1.2zM80.1 168.8h1.2v1.2h-1.2zM80.1 168.6h1.2v1.2h-1.2zM80.2 168.8h1.2v1.2h-1.2zM80.2 163.7h1.2v1.2h-1.2zM80.6 163.6h1.2v1.2h-1.2zM80.7 163.2h1.2v1.2h-1.2zM80.6 163.8h1.2v1.2h-1.2zM80.4 163.7h1.2v1.2h-1.2zM80.4 163.2h1.2v1.2h-1.2zM80.8 163.2h1.2v1.2h-1.2zM80.5 163.8h1.2v1.2h-1.2zM85.1 179.5h1.2v1.2h-1.2zM85.4 179.1h1.2v1.2h-1.2zM85.5 179.6h1.2v1.2h-1.2zM85.1 179.8h1.2v1.2h-1.2zM85.9 179.6h1.2v1.2h-1.2zM85.1 180.9h1.2v1.2h-1.2zM85.2 180.2h1.2v1.2h-1.2zM85.9 180.5h1.2v1.2h-1.2zM85.4 180.3h1.2v1.2h-1.2zM85.4 180.5h1.2v1.2h-1.2zM85.2 180.4h1.2v1.2h-1.2zM85.7 178.2h1.2v1.2h-1.2zM85.3 178.9h1.2v1.2h-1.2zM85.8 178.9h1.2v1.2h-1.2zM85.4 179.0h1.2v1.2h-1.2zM85.2 178.4h1.2v1.2h-1.2zM85.1 178.8h1.2v1.2h-1.2zM85.3 181.8h1.2v1.2h-1.2zM85.1 181.8h1.2v1.2h-1.2zM85.8 181.4h1.2v1.2h-1.2zM85.8 181.4h1.2v1.2h-1.2zM85.6 182.0h1.2v1.2h-1.2zM85.2 181.2h1.2v1.2h-1.2zM85.4 181.3h1.2v1.2h-1.2zM86.0 177.6h1.2v1.2h-1.2zM85.4 177.2h1.2v1.2h-1.2zM85.9 177.1h1.2v1.2h-1.2zM85.4 177.4h1.2v1.2h-1.2zM80.2 188.3h1.2v1.2h-1.2zM80.6 188.5h1.2v1.2h-1.2zM80.8 188.6h1.2v1.2h-1.2zM80.5 188.3h1.2v1.2h-1.2zM80.7 188.3h1.2v1.2h-1.2zM80.1 188.1h1.2v1.2h-1.2zM80.4 188.5h1.2v1.2h-1.2zM83.8 160.0h1.2v1.2h-1.2zM83.4 159.5h1.2v1.2h-1.2zM83.8 159.3h1.2v1.2h-1.2zM80.1 175.4h1.2v1.2h-1.2zM80.5 175.2h1.2v1.2h-1.2zM80.4 175.6h1.2v1.2h-1.2zM80.4 175.8h1.2v1.2h-1.2zM80.2 175.9h1.2v1.2h-1.2zM80.3 175.2h1.2v1.2h-1.2zM80.7 175.5h1.2v1.2h-1.2zM80.9 175.9h1.2v1.2h-1.2zM80.9 175.4h1.2v1.2h-1.2zM80.4 175.8h1.2v1.2h-1.2zM79.7 178.7h1.2v1.2h-1.2zM79.7 178.7h1.2v1.2h-1.2zM79.9 178.9h1.2v1.2h-1.2zM79.7 178.7h1.2v1.2h-1.2zM80.4 167.6h1.2v1.2h-1.2zM80.9 167.1h1.2v1.2h-1.2zM80.6 167.3h1.2v1.2h-1.2zM80.7 167.4h1.2v1.2h-1.2zM80.7 167.2h1.2v1.2h-1.2zM79.8 182.9h1.2v1.2h-1.2zM79.7 182.0h1.2v1.2h-1.2zM79.5 183.0h1.2v1.2h-1.2zM79.8 182.1h1.2v1.2h-1.2zM79.3 182.7h1.2v1.2h-1.2zM79.6 182.1h1.2v1.2h-1.2zM85.7 182.3h1.2v1.2h-1.2zM85.8 182.2h1.2v1.2h-1.2zM85.5 182.2h1.2v1.2h-1.2z" fill="rgb(180,204,36)"/>
<path d="M84.2 166.9h1.2v1.2h-1.2zM84.0 166.4h1.2v1.2h-1.2zM81.1 161.3h1.2v1.2h-1.2zM81.9 162.0h1.2v1.2h-1.2zM81.0 161.6h1.2v1.2h-1.2zM81.3 161.8h1.2v1.2h-1.2zM84.4 189.8h1.2v1.2h-1.2zM84.0 189.8h1.2v1.2h-1.2zM84.2 189.3h1.2v1.2h-1.2zM83.2 191.7h1.2v1.2h-1.2zM83.5 191.4h1.2v1.2h-1.2zM83.3 191.0h1.2v1.2h-1.2zM83.4 191.2h1.2v1.2h-1.2zM81.8 191.3h1.2v1.2h-1.2zM81.8 191.7h1.2v1.2h-1.2zM81.4 191.4h1.2v1.2h-1.2zM85.5 184.0h1.2v1.2h-1.2zM85.6 183.8h1.2v1.2h-1.2zM85.7 183.6h1.2v1.2h-1.2zM85.6 183.7h1.2v1.2h-1.2zM85.3 183.0h1.2v1.2h-1.2zM85.3 183.1h1.2v1.2h-1.2zM80.1 166.8h1.2v1.2h-1.2zM80.6 166.2h1.2v1.2h-1.2zM80.1 166.5h1.2v1.2h-1.2zM80.2 166.6h1.2v1.2h-1.2zM80.8 166.1h1.2v1.2h-1.2zM84.3 160.8h1.2v1.2h-1.2zM84.6 160.3h1.2v1.2h-1.2zM84.7 160.0h1.2v1.2h-1.2zM84.0 160.7h1.2v1.2h-1.2zM84.6 160.4h1.2v1.2h-1.2zM84.5 160.2h1.2v1.2h-1.2zM84.8 160.2h1.2v1.2h-1.2zM84.3 160.0h1.2v1.2h-1.2zM84.8 160.9h1.2v1.2h-1.2zM84.9 160.7h1.2v1.2h-1.2zM85.4 185.7h1.2v1.2h-1.2zM85.4 185.3h1.2v1.2h-1.2zM85.7 185.5h1.2v1.2h-1.2zM85.2 185.4h1.2v1.2h-1.2zM85.5 185.3h1.2v1.2h-1.2zM85.7 185.6h1.2v1.2h-1.2zM85.3 185.4h1.2v1.2h-1.2zM85.7 185.8h1.2v1.2h-1.2zM80.9 164.8h1.2v1.2h-1.2zM80.2 164.2h1.2v1.2h-1.2zM80.4 164.7h1.2v1.2h-1.2zM80.2 164.2h1.2v1.2h-1.2zM80.2 187.3h1.2v1.2h-1.2zM80.8 187.9h1.2v1.2h-1.2zM80.8 188.0h1.2v1.2h-1.2zM80.3 187.7h1.2v1.2h-1.2zM80.8 187.0h1.2v1.2h-1.2zM85.0 184.2h1.2v1.2h-1.2zM85.9 184.0h1.2v1.2h-1.2zM85.3 184.0h1.2v1.2h-1.2zM85.8 184.4h1.2v1.2h-1.2zM85.1 184.2h1.2v1.2h-1.2zM85.5 184.6h1.2v1.2h-1.2zM85.5 184.5h1.2v1.2h-1.2zM85.1 184.7h1.2v1.2h-1.2zM85.9 184.0h1.2v1.2h-1.2zM80.4 165.5h1.2v1.2h-1.2zM80.1 165.2h1.2v1.2h-1.2zM80.1 165.9h1.2v1.2h-1.2zM84.8 171.6h1.2v1.2h-1.2zM85.0 172.0h1.2v1.2h-1.2zM84.5 171.6h1.2v1.2h-1.2zM84.6 171.9h1.2v1.2h-1.2zM85.0 171.4h1.2v1.2h-1.2zM84.6 171.5h1.2v1.2h-1.2zM82.4 160.7h1.2v1.2h-1.2zM82.3 160.3h1.2v1.2h-1.2zM82.7 160.4h1.2v1.2h-1.2zM82.3 160.0h1.2v1.2h-1.2zM82.4 160.9h1.2v1.2h-1.2zM82.0 160.3h1.2v1.2h-1.2z" fill="rgb(192,204,36)"/>
<path d="M79.6 181.3h1.2v1.2h-1.2zM79.0 181.4h1.2v1.2h-1.2zM79.9 181.9h1.2v1.2h-1.2zM79.5 181.8h1.2v1.2h-1.2zM79.2 181.9h1.2v1.2h-1.2zM84.7 165.3h1.2v1.2h-1.2zM84.4 166.0h1.2v1.2h-1.2zM84.8 165.8h1.2v1.2h-1.2zM84.9 165.5h1.2v1.2h-1.2zM84.4 166.0h1.2v1.2h-1.2zM85.0 165.9h1.2v1.2h-1.2zM84.8 165.8h1.2v1.2h-1.2zM79.9 179.8h1.2v1.2h-1.2zM79.8 180.0h1.2v1.2h-1.2zM79.8 179.7h1.2v1.2h-1.2zM79.4 179.5h1.2v1.2h-1.2zM79.9 179.7h1.2v1.2h-1.2zM79.7 179.4h1.2v1.2h-1.2zM79.3 179.1h1.2v1.2h-1.2zM79.4 179.3h1.2v1.2h-1.2zM79.1 179.4h1.2v1.2h-1.2zM80.5 186.5h1.2v1.2h-1.2zM80.7 186.8h1.2v1.2h-1.2zM80.0 186.6h1.2v1.2h-1.2zM80.4 186.1h1.2v1.2h-1.2zM80.0 186.5h1.2v1.2h-1.2zM82.1 191.1h1.2v1.2h-1.2zM82.5 191.4h1.2v1.2h-1.2zM82.3 191.5h1.2v1.2h-1.2zM82.2 191.5h1.2v1.2h-1.2zM82.3 191.8h1.2v1.2h-1.2zM82.6 191.7h1.2v1.2h-1.2zM82.1 191.4h1.2v1.2h-1.2zM82.8 191.8h1.2v1.2h-1.2zM82.9 191.4h1.2v1.2h-1.2zM82.1 191.9h1.2v1.2h-1.2zM83.8 160.8h1.2v1.2h-1.2zM83.0 160.6h1.2v1.2h-1.2zM83.7 160.0h1.2v1.2h-1.2zM83.7 160.4h1.2v1.2h-1.2zM83.7 160.1h1.2v1.2h-1.2zM83.2 168.9h1.2v1.2h-1.2zM83.5 168.8h1.2v1.2h-1.2zM83.3 168.1h1.2v1.2h-1.2zM83.1 169.0h1.2v1.2h-1.2zM83.5 168.2h1.2v1.2h-1.2zM83.1 169.5h1.2v1.2h-1.2zM83.6 169.2h1.2v1.2h-1.2zM83.7 169.9h1.2v1.2h-1.2zM83.5 169.3h1.2v1.2h-1.2zM83.1 169.4h1.2v1.2h-1.2zM83.5 169.9h1.2v1.2h-1.2zM84.7 161.1h1.2v1.2h-1.2zM84.5 161.8h1.2v1.2h-1.2zM84.0 161.7h1.2v1.2h-1.2zM84.7 161.4h1.2v1.2h-1.2zM84.6 161.8h1.2v1.2h-1.2zM84.0 161.0h1.2v1.2h-1.2zM84.6 161.2h1.2v1.2h-1.2zM84.4 161.4h1.2v1.2h-1.2zM79.0 180.6h1.2v1.2h-1.2zM79.5 180.2h1.2v1.2h-1.2zM79.7 180.7h1.2v1.2h-1.2zM79.8 180.8h1.2v1.2h-1.2zM79.3 181.0h1.2v1.2h-1.2zM79.3 180.0h1.2v1.2h-1.2zM79.9 180.4h1.2v1.2h-1.2zM79.7 180.2h1.2v1.2h-1.2zM79.0 180.1h1.2v1.2h-1.2zM84.5 172.8h1.2v1.2h-1.2zM84.9 172.7h1.2v1.2h-1.2zM84.9 172.9h1.2v1.2h-1.2zM84.3 172.8h1.2v1.2h-1.2zM84.6 172.7h1.2v1.2h-1.2zM80.2 176.7h1.2v1.2h-1.2zM80.6 176.1h1.2v1.2h-1.2zM80.5 177.0h1.2v1.2h-1.2zM80.9 176.8h1.2v1.2h-1.2zM80.1 176.2h1.2v1.2h-1.2zM81.5 190.0h1.2v1.2h-1.2zM81.6 190.0h1.2v1.2h-1.2zM81.1 190.6h1.2v1.2h-1.2zM81.1 190.6h1.2v1.2h-1.2zM81.4 190.9h1.2v1.2h-1.2zM81.8 190.6h1.2v1.2h-1.2zM81.6 190.1h1.2v1.2h-1.2zM81.7 190.1h1.2v1.2h-1.2zM84.9 188.8h1.2v1.2h-1.2zM84.5 189.0h1.2v1.2h-1.2zM84.6 188.5h1.2v1.2h-1.2zM84.0 188.9h1.2v1.2h-1.2zM84.9 188.4h1.2v1.2h-1.2zM84.7 188.7h1.2v1.2h-1.2zM84.6 188.7h1.2v1.2h-1.2zM81.1 162.7h1.2v1.2h-1.2zM81.0 162.9h1.2v1.2h-1.2zM81.6 162.9h1.2v1.2h-1.2zM81.7 162.9h1.2v1.2h-1.2zM81.9 162.3h1.2v1.2h-1.2zM81.1 162.4h1.2v1.2h-1.2zM83.4 190.5h1.2v1.2h-1.2zM83.2 190.5h1.2v1.2h-1.2zM83.4 190.3h1.2v1.2h-1.2zM83.8 190.5h1.2v1.2h-1.2zM83.9 190.2h1.2v1.2h-1.2zM83.4 190.9h1.2v1.2h-1.2zM83.6 190.1h1.2v1.2h-1.2zM83.9 190.7h1.2v1.2h-1.2zM83.2 190.6h1.2v1.2h-1.2zM83.3 190.5h1.2v1.2h-1.2zM83.3 190.9h1.2v1.2h-1.2zM83.6 191.0h1.2v1.2h-1.2z" fill="rgb(204,204,36)"/>
<path d="M84.8 164.9h1.2v1.2h-1.2zM84.4 164.2h1.2v1.2h-1.2zM84.4 164.8h1.2v1.2h-1.2zM84.3 164.5h1.2v1.2h-1.2zM84.2 164.0h1.2v1.2h-1.2zM84.2 164.4h1.2v1.2h-1.2zM84.1 164.3h1.2v1.2h-1.2zM84.2 164.2h1.2v1.2h-1.2zM84.5 164.4h1.2v1.2h-1.2zM84.8 164.8h1.2v1.2h-1.2zM84.4 164.7h1.2v1.2h-1.2zM84.6 164.4h1.2v1.2h-1.2zM84.3 164.5h1.2v1.2h-1.2zM84.7 164.2h1.2v1.2h-1.2zM83.9 167.7h1.2v1.2h-1.2zM83.1 167.4h1.2v1.2h-1.2zM84.0 167.4h1.2v1.2h-1.2zM83.4 167.3h1.2v1.2h-1.2zM84.0 167.5h1.2v1.2h-1.2zM83.7 167.9h1.2v1.2h-1.2zM83.0 167.9h1.2v1.2h-1.2zM80.5 185.2h1.2v1.2h-1.2zM80.4 185.7h1.2v1.2h-1.2zM80.9 185.1h1.2v1.2h-1.2zM81.0 185.7h1.2v1.2h-1.2zM83.1 170.2h1.2v1.2h-1.2zM83.9 170.1h1.2v1.2h-1.2zM84.5 162.0h1.2v1.2h-1.2zM84.4 162.8h1.2v1.2h-1.2zM84.3 162.8h1.2v1.2h-1.2zM84.7 162.7h1.2v1.2h-1.2zM84.6 162.7h1.2v1.2h-1.2zM84.7 162.8h1.2v1.2h-1.2zM84.2 162.7h1.2v1.2h-1.2zM84.4 162.1h1.2v1.2h-1.2zM81.4 169.5h1.2v1.2h-1.2zM81.9 169.4h1.2v1.2h-1.2zM83.0 161.0h1.2v1.2h-1.2zM82.1 161.4h1.2v1.2h-1.2zM82.5 161.5h1.2v1.2h-1.2zM82.8 161.2h1.2v1.2h-1.2zM82.6 162.0h1.2v1.2h-1.2zM82.4 161.2h1.2v1.2h-1.2zM84.7 173.9h1.2v1.2h-1.2zM84.0 173.1h1.2v1.2h-1.2zM84.5 173.7h1.2v1.2h-1.2zM84.6 173.2h1.2v1.2h-1.2zM84.8 173.4h1.2v1.2h-1.2zM81.0 168.4h1.2v1.2h-1.2zM81.9 168.4h1.2v1.2h-1.2zM81.4 168.4h1.2v1.2h-1.2zM81.3 168.1h1.2v1.2h-1.2zM81.8 168.9h1.2v1.2h-1.2zM84.9 163.3h1.2v1.2h-1.2zM84.0 164.0h1.2v1.2h-1.2zM84.3 163.9h1.2v1.2h-1.2zM81.3 170.2h1.2v1.2h-1.2zM81.6 170.4h1.2v1.2h-1.2zM81.0 170.4h1.2v1.2h-1.2zM81.3 170.9h1.2v1.2h-1.2zM81.3 170.7h1.2v1.2h-1.2zM81.3 173.5h1.2v1.2h-1.2zM81.9 174.0h1.2v1.2h-1.2zM81.2 173.5h1.2v1.2h-1.2zM81.4 173.7h1.2v1.2h-1.2zM81.7 173.7h1.2v1.2h-1.2zM81.6 173.1h1.2v1.2h-1.2zM81.8 172.0h1.2v1.2h-1.2zM81.9 172.1h1.2v1.2h-1.2zM81.3 172.0h1.2v1.2h-1.2zM81.4 172.9h1.2v1.2h-1.2zM81.4 172.2h1.2v1.2h-1.2zM81.3 172.1h1.2v1.2h-1.2zM81.3 172.7h1.2v1.2h-1.2zM81.3 173.0h1.2v1.2h-1.2zM81.4 171.1h1.2v1.2h-1.2zM81.7 171.8h1.2v1.2h-1.2zM81.7 171.9h1.2v1.2h-1.2zM81.8 171.2h1.2v1.2h-1.2zM81.6 171.1h1.2v1.2h-1.2zM81.9 171.2h1.2v1.2h-1.2zM81.8 167.7h1.2v1.2h-1.2zM81.7 167.4h1.2v1.2h-1.2zM81.3 167.6h1.2v1.2h-1.2zM81.7 167.5h1.2v1.2h-1.2zM81.1 167.2h1.2v1.2h-1.2zM81.1 167.8h1.2v1.2h-1.2zM81.8 167.0h1.2v1.2h-1.2zM83.6 161.4h1.2v1.2h-1.2zM83.5 161.2h1.2v1.2h-1.2zM83.6 161.5h1.2v1.2h-1.2zM83.4 161.8h1.2v1.2h-1.2zM83.4 161.2h1.2v1.2h-1.2zM84.0 161.3h1.2v1.2h-1.2zM83.6 161.7h1.2v1.2h-1.2zM82.4 168.6h1.2v1.2h-1.2zM82.9 169.0h1.2v1.2h-1.2zM82.4 168.0h1.2v1.2h-1.2zM82.2 168.1h1.2v1.2h-1.2zM82.3 168.8h1.2v1.2h-1.2zM82.2 168.6h1.2v1.2h-1.2zM82.8 168.3h1.2v1.2h-1.2zM82.5 168.7h1.2v1.2h-1.2zM82.6 168.1h1.2v1.2h-1.2zM82.5 168.5h1.2v1.2h-1.2zM82.7 168.5h1.2v1.2h-1.2zM82.3 168.4h1.2v1.2h-1.2zM82.3 168.6h1.2v1.2h-1.2zM82.2 169.1h1.2v1.2h-1.2zM82.7 169.7h1.2v1.2h-1.2zM82.8 169.9h1.2v1.2h-1.2zM82.3 169.1h1.2v1.2h-1.2zM82.8 169.5h1.2v1.2h-1.2zM81.6 174.8h1.2v1.2h-1.2zM81.3 174.8h1.2v1.2h-1.2zM81.7 174.9h1.2v1.2h-1.2zM81.1 174.9h1.2v1.2h-1.2zM81.4 174.9h1.2v1.2h-1.2zM84.9 174.2h1.2v1.2h-1.2zM84.1 174.1h1.2v1.2h-1.2zM84.4 174.2h1.2v1.2h-1.2zM84.3 174.1h1.2v1.2h-1.2zM84.5 174.6h1.2v1.2h-1.2zM84.7 174.9h1.2v1.2h-1.2zM84.3 174.0h1.2v1.2h-1.2zM84.7 174.9h1.2v1.2h-1.2z" fill="rgb(216,204,36)"/>
<path d="M80.5 184.7h1.2v1.2h-1.2zM80.3 184.3h1.2v1.2h-1.2zM80.9 184.5h1.2v1.2h-1.2zM80.7 184.8h1.2v1.2h-1.2zM80.4 184.4h1.2v1.2h-1.2zM80.5 184.0h1.2v1.2h-1.2zM80.3 185.0h1.2v1.2h-1.2zM82.3 190.3h1.2v1.2h-1.2zM82.5 190.5h1.2v1.2h-1.2zM82.6 190.1h1.2v1.2h-1.2zM82.7 190.3h1.2v1.2h-1.2zM82.5 190.6h1.2v1.2h-1.2zM82.5 190.1h1.2v1.2h-1.2zM82.8 190.4h1.2v1.2h-1.2zM82.4 190.7h1.2v1.2h-1.2zM81.3 189.4h1.2v1.2h-1.2zM81.1 189.8h1.2v1.2h-1.2zM81.5 189.1h1.2v1.2h-1.2zM81.8 189.2h1.2v1.2h-1.2zM81.8 189.9h1.2v1.2h-1.2zM81.1 189.9h1.2v1.2h-1.2zM83.5 166.9h1.2v1.2h-1.2zM83.0 166.5h1.2v1.2h-1.2zM83.3 166.9h1.2v1.2h-1.2zM81.9 163.0h1.2v1.2h-1.2zM81.2 163.9h1.2v1.2h-1.2zM81.7 163.2h1.2v1.2h-1.2zM81.8 163.3h1.2v1.2h-1.2zM81.6 163.8h1.2v1.2h-1.2zM81.4 163.7h1.2v1.2h-1.2zM81.3 163.4h1.2v1.2h-1.2zM81.2 163.4h1.2v1.2h-1.2zM81.8 163.9h1.2v1.2h-1.2zM81.3 163.9h1.2v1.2h-1.2zM81.4 163.2h1.2v1.2h-1.2zM81.9 163.8h1.2v1.2h-1.2zM81.9 163.4h1.2v1.2h-1.2zM83.8 171.9h1.2v1.2h-1.2zM83.6 171.7h1.2v1.2h-1.2zM83.8 171.6h1.2v1.2h-1.2zM83.7 171.6h1.2v1.2h-1.2zM84.0 172.0h1.2v1.2h-1.2zM83.6 171.2h1.2v1.2h-1.2zM83.0 171.1h1.2v1.2h-1.2zM83.4 171.7h1.2v1.2h-1.2zM83.2 171.9h1.2v1.2h-1.2zM83.5 171.9h1.2v1.2h-1.2zM83.7 171.5h1.2v1.2h-1.2zM83.3 171.1h1.2v1.2h-1.2zM83.1 171.6h1.2v1.2h-1.2zM84.1 187.5h1.2v1.2h-1.2zM84.1 187.7h1.2v1.2h-1.2zM85.0 187.9h1.2v1.2h-1.2zM84.8 187.5h1.2v1.2h-1.2zM84.9 187.1h1.2v1.2h-1.2zM85.0 187.5h1.2v1.2h-1.2zM84.6 187.5h1.2v1.2h-1.2zM81.6 166.2h1.2v1.2h-1.2zM81.6 166.9h1.2v1.2h-1.2zM81.0 166.6h1.2v1.2h-1.2zM81.3 166.8h1.2v1.2h-1.2zM81.8 166.6h1.2v1.2h-1.2zM81.3 166.5h1.2v1.2h-1.2zM81.5 166.1h1.2v1.2h-1.2zM81.3 166.1h1.2v1.2h-1.2zM81.6 166.9h1.2v1.2h-1.2zM81.5 167.0h1.2v1.2h-1.2zM82.3 170.8h1.2v1.2h-1.2zM82.1 170.3h1.2v1.2h-1.2zM82.2 170.5h1.2v1.2h-1.2zM82.4 170.7h1.2v1.2h-1.2zM82.8 170.8h1.2v1.2h-1.2zM82.5 170.1h1.2v1.2h-1.2zM82.3 170.5h1.2v1.2h-1.2zM82.6 170.2h1.2v1.2h-1.2zM82.9 170.3h1.2v1.2h-1.2zM82.7 171.0h1.2v1.2h-1.2zM82.8 167.7h1.2v1.2h-1.2zM82.1 167.3h1.2v1.2h-1.2zM82.4 167.3h1.2v1.2h-1.2zM82.1 167.4h1.2v1.2h-1.2zM82.5 167.7h1.2v1.2h-1.2zM82.4 167.0h1.2v1.2h-1.2zM82.8 167.5h1.2v1.2h-1.2zM82.4 167.7h1.2v1.2h-1.2zM82.3 167.9h1.2v1.2h-1.2zM83.9 189.4h1.2v1.2h-1.2zM83.5 189.7h1.2v1.2h-1.2zM83.6 189.5h1.2v1.2h-1.2zM83.9 189.9h1.2v1.2h-1.2zM83.3 189.2h1.2v1.2h-1.2zM83.7 189.6h1.2v1.2h-1.2zM83.7 189.3h1.2v1.2h-1.2zM83.2 189.5h1.2v1.2h-1.2zM84.2 175.6h1.2v1.2h-1.2zM84.6 176.0h1.2v1.2h-1.2zM84.8 175.1h1.2v1.2h-1.2zM84.9 176.0h1.2v1.2h-1.2zM84.2 175.3h1.2v1.2h-1.2zM84.7 175.1h1.2v1.2h-1.2zM84.6 175.3h1.2v1.2h-1.2zM84.3 175.3h1.2v1.2h-1.2zM80.7 178.0h1.2v1.2h-1.2zM80.6 177.2h1.2v1.2h-1.2zM80.3 177.4h1.2v1.2h-1.2zM80.2 177.5h1.2v1.2h-1.2zM80.6 177.2h1.2v1.2h-1.2zM81.7 165.4h1.2v1.2h-1.2zM81.1 165.3h1.2v1.2h-1.2zM81.6 165.6h1.2v1.2h-1.2zM81.8 165.1h1.2v1.2h-1.2zM81.2 165.5h1.2v1.2h-1.2zM81.5 165.8h1.2v1.2h-1.2zM81.4 165.9h1.2v1.2h-1.2zM81.0 164.8h1.2v1.2h-1.2zM81.3 164.6h1.2v1.2h-1.2zM81.8 164.9h1.2v1.2h-1.2zM81.9 164.6h1.2v1.2h-1.2zM81.2 164.9h1.2v1.2h-1.2zM81.7 164.9h1.2v1.2h-1.2zM81.7 164.2h1.2v1.2h-1.2zM82.2 162.6h1.2v1.2h-1.2zM82.9 162.7h1.2v1.2h-1.2zM81.9 175.1h1.2v1.2h-1.2zM81.6 175.4h1.2v1.2h-1.2zM81.8 175.1h1.2v1.2h-1.2zM81.2 175.4h1.2v1.2h-1.2zM82.0 175.7h1.2v1.2h-1.2zM80.6 183.1h1.2v1.2h-1.2zM80.1 183.5h1.2v1.2h-1.2zM80.6 183.3h1.2v1.2h-1.2zM80.9 183.6h1.2v1.2h-1.2zM80.8 183.2h1.2v1.2h-1.2zM81.0 183.8h1.2v1.2h-1.2zM80.0 183.7h1.2v1.2h-1.2zM80.5 184.0h1.2v1.2h-1.2zM80.3 184.0h1.2v1.2h-1.2zM81.0 183.7h1.2v1.2h-1.2zM83.4 172.5h1.2v1.2h-1.2zM83.0 172.1h1.2v1.2h-1.2zM83.3 172.3h1.2v1.2h-1.2zM83.9 172.2h1.2v1.2h-1.2zM83.7 172.1h1.2v1.2h-1.2zM83.9 172.1h1.2v1.2h-1.2zM83.6 172.3h1.2v1.2h-1.2zM83.0 173.0h1.2v1.2h-1.2zM83.8 172.7h1.2v1.2h-1.2zM81.1 188.8h1.2v1.2h-1.2zM82.0 188.1h1.2v1.2h-1.2zM81.0 188.7h1.2v1.2h-1.2zM81.2 188.0h1.2v1.2h-1.2zM81.8 188.0h1.2v1.2h-1.2zM81.2 188.4h1.2v1.2h-1.2zM81.7 188.6h1.2v1.2h-1.2zM82.1 171.9h1.2v1.2h-1.2zM82.9 171.7h1.2v1.2h-1.2zM82.9 171.4h1.2v1.2h-1.2zM82.2 171.1h1.2v1.2h-1.2zM82.6 171.6h1.2v1.2h-1.2zM82.0 171.8h1.2v1.2h-1.2zM82.0 171.7h1.2v1.2h-1.2zM82.6 171.5h1.2v1.2h-1.2zM82.4 171.8h1.2v1.2h-1.2zM82.7 171.5h1.2v1.2h-1.2zM82.4 171.0h1.2v1.2h-1.2zM82.7 171.2h1.2v1.2h-1.2zM83.8 162.6h1.2v1.2h-1.2zM83.2 162.4h1.2v1.2h-1.2zM83.1 162.6h1.2v1.2h-1.2zM83.9 162.1h1.2v1.2h-1.2zM83.8 162.5h1.2v1.2h-1.2zM84.0 162.5h1.2v1.2h-1.2zM83.8 162.3h1.2v1.2h-1.2zM83.9 162.9h1.2v1.2h-1.2zM84.0 162.5h1.2v1.2h-1.2zM83.5 162.5h1.2v1.2h-1.2zM83.3 162.4h1.2v1.2h-1.2zM83.6 165.9h1.2v1.2h-1.2zM83.5 165.1h1.2v1.2h-1.2zM83.4 165.8h1.2v1.2h-1.2zM83.4 165.7h1.2v1.2h-1.2zM83.4 165.1h1.2v1.2h-1.2zM83.2 165.7h1.2v1.2h-1.2zM83.8 165.4h1.2v1.2h-1.2zM83.1 165.3h1.2v1.2h-1.2z" fill="rgb(228,204,36)"/>
<path d="M82.7 166.8h1.2v1.2h-1.2zM82.4 166.1h1.2v1.2h-1.2zM82.3 166.1h1.2v1.2h-1.2zM82.6 166.6h1.2v1.2h-1.2zM82.4 166.3h1.2v1.2h-1.2zM82.7 166.3h1.2v1.2h-1.2zM82.1 166.3h1.2v1.2h-1.2zM82.5 166.1h1.2v1.2h-1.2zM82.4 166.3h1.2v1.2h-1.2zM84.7 176.1h1.2v1.2h-1.2zM84.3 176.4h1.2v1.2h-1.2zM85.0 176.7h1.2v1.2h-1.2zM85.0 176.3h1.2v1.2h-1.2zM84.1 176.7h1.2v1.2h-1.2zM82.7 172.3h1.2v1.2h-1.2zM83.0 172.7h1.2v1.2h-1.2zM82.5 172.3h1.2v1.2h-1.2zM82.9 172.7h1.2v1.2h-1.2zM82.4 172.4h1.2v1.2h-1.2zM82.9 173.0h1.2v1.2h-1.2zM82.6 172.9h1.2v1.2h-1.2zM82.8 172.8h1.2v1.2h-1.2zM82.3 172.1h1.2v1.2h-1.2zM82.5 172.0h1.2v1.2h-1.2zM84.1 186.3h1.2v1.2h-1.2zM84.8 186.1h1.2v1.2h-1.2zM84.3 186.1h1.2v1.2h-1.2zM84.6 186.6h1.2v1.2h-1.2zM84.6 186.4h1.2v1.2h-1.2zM83.3 174.0h1.2v1.2h-1.2zM83.2 173.4h1.2v1.2h-1.2zM83.1 173.1h1.2v1.2h-1.2zM83.3 173.2h1.2v1.2h-1.2zM83.6 173.3h1.2v1.2h-1.2zM83.3 173.9h1.2v1.2h-1.2zM83.7 173.4h1.2v1.2h-1.2zM82.4 189.1h1.2v1.2h-1.2zM82.2 189.8h1.2v1.2h-1.2zM82.9 189.2h1.2v1.2h-1.2zM82.5 189.8h1.2v1.2h-1.2zM82.8 189.2h1.2v1.2h-1.2zM82.5 189.7h1.2v1.2h-1.2zM82.2 189.2h1.2v1.2h-1.2zM82.9 189.5h1.2v1.2h-1.2zM82.4 189.8h1.2v1.2h-1.2zM82.3 189.0h1.2v1.2h-1.2zM82.7 173.0h1.2v1.2h-1.2zM82.9 173.7h1.2v1.2h-1.2zM82.1 173.8h1.2v1.2h-1.2zM83.2 164.6h1.2v1.2h-1.2zM83.1 164.5h1.2v1.2h-1.2zM83.8 164.6h1.2v1.2h-1.2zM83.8 164.2h1.2v1.2h-1.2zM83.8 164.8h1.2v1.2h-1.2zM83.1 163.6h1.2v1.2h-1.2zM83.9 163.4h1.2v1.2h-1.2zM83.1 163.0h1.2v1.2h-1.2zM83.4 163.4h1.2v1.2h-1.2zM83.0 163.7h1.2v1.2h-1.2zM83.2 163.7h1.2v1.2h-1.2zM83.9 163.9h1.2v1.2h-1.2zM81.5 187.2h1.2v1.2h-1.2zM82.0 187.1h1.2v1.2h-1.2zM81.3 187.8h1.2v1.2h-1.2zM81.3 187.5h1.2v1.2h-1.2zM82.3 163.6h1.2v1.2h-1.2zM82.4 163.6h1.2v1.2h-1.2zM82.6 163.8h1.2v1.2h-1.2zM82.7 163.7h1.2v1.2h-1.2zM82.4 163.8h1.2v1.2h-1.2zM82.9 163.1h1.2v1.2h-1.2zM82.7 163.9h1.2v1.2h-1.2zM82.1 163.1h1.2v1.2h-1.2zM82.6 163.2h1.2v1.2h-1.2zM82.8 163.4h1.2v1.2h-1.2zM82.2 163.2h1.2v1.2h-1.2zM83.2 174.9h1.2v1.2h-1.2zM83.6 174.5h1.2v1.2h-1.2zM83.4 174.6h1.2v1.2h-1.2zM83.1 174.5h1.2v1.2h-1.2zM83.9 174.4h1.2v1.2h-1.2zM83.7 174.8h1.2v1.2h-1.2zM83.7 174.1h1.2v1.2h-1.2zM83.7 174.6h1.2v1.2h-1.2zM82.7 174.9h1.2v1.2h-1.2zM82.8 174.7h1.2v1.2h-1.2zM82.6 174.3h1.2v1.2h-1.2zM82.8 174.8h1.2v1.2h-1.2zM82.4 174.9h1.2v1.2h-1.2zM82.3 174.1h1.2v1.2h-1.2zM82.5 174.5h1.2v1.2h-1.2zM82.3 174.5h1.2v1.2h-1.2zM82.9 174.5h1.2v1.2h-1.2zM84.1 185.6h1.2v1.2h-1.2zM84.0 185.8h1.2v1.2h-1.2zM84.2 185.1h1.2v1.2h-1.2zM84.8 185.3h1.2v1.2h-1.2zM84.9 185.2h1.2v1.2h-1.2zM85.0 185.4h1.2v1.2h-1.2zM84.7 185.0h1.2v1.2h-1.2zM84.4 185.9h1.2v1.2h-1.2zM83.5 188.2h1.2v1.2h-1.2zM83.7 188.7h1.2v1.2h-1.2zM83.1 188.2h1.2v1.2h-1.2zM83.5 188.1h1.2v1.2h-1.2zM83.7 188.7h1.2v1.2h-1.2zM83.7 188.4h1.2v1.2h-1.2zM83.7 188.3h1.2v1.2h-1.2z" fill="rgb(228,192,36)"/>
<path d="M80.9 182.4h1.2v1.2h-1.2zM80.7 182.9h1.2v1.2h-1.2zM80.3 182.2h1.2v1.2h-1.2zM80.7 182.7h1.2v1.2h-1.2zM80.0 182.6h1.2v1.2h-1.2zM80.5 182.3h1.2v1.2h-1.2zM80.5 182.1h1.2v1.2h-1.2zM80.4 182.3h1.2v1.2h-1.2zM84.6 183.6h1.2v1.2h-1.2zM84.0 183.8h1.2v1.2h-1.2zM84.2 183.7h1.2v1.2h-1.2zM84.2 183.7h1.2v1.2h-1.2zM84.8 183.5h1.2v1.2h-1.2zM84.3 183.2h1.2v1.2h-1.2zM84.0 183.4h1.2v1.2h-1.2zM84.0 183.2h1.2v1.2h-1.2zM84.4 177.8h1.2v1.2h-1.2zM84.4 177.5h1.2v1.2h-1.2zM84.9 178.0h1.2v1.2h-1.2zM84.6 177.6h1.2v1.2h-1.2zM84.2 177.6h1.2v1.2h-1.2zM84.7 177.6h1.2v1.2h-1.2zM84.1 177.2h1.2v1.2h-1.2zM82.3 165.7h1.2v1.2h-1.2zM82.5 165.2h1.2v1.2h-1.2zM82.1 165.6h1.2v1.2h-1.2zM82.2 165.2h1.2v1.2h-1.2zM82.1 165.4h1.2v1.2h-1.2zM82.6 165.6h1.2v1.2h-1.2zM82.5 165.4h1.2v1.2h-1.2zM82.1 165.9h1.2v1.2h-1.2zM82.0 165.5h1.2v1.2h-1.2zM82.5 165.1h1.2v1.2h-1.2zM84.3 184.4h1.2v1.2h-1.2zM85.0 184.1h1.2v1.2h-1.2zM84.7 184.6h1.2v1.2h-1.2zM84.2 184.6h1.2v1.2h-1.2zM84.1 184.1h1.2v1.2h-1.2zM84.3 184.4h1.2v1.2h-1.2zM84.9 182.7h1.2v1.2h-1.2zM84.3 182.3h1.2v1.2h-1.2zM84.1 182.0h1.2v1.2h-1.2zM84.9 182.3h1.2v1.2h-1.2zM84.4 182.7h1.2v1.2h-1.2zM84.9 182.8h1.2v1.2h-1.2z" fill="rgb(228,180,36)"/>
<path d="M82.8 164.5h1.2v1.2h-1.2zM83.0 164.3h1.2v1.2h-1.2zM82.4 164.7h1.2v1.2h-1.2zM82.7 164.7h1.2v1.2h-1.2zM82.3 164.3h1.2v1.2h-1.2zM82.5 164.3h1.2v1.2h-1.2zM82.4 164.9h1.2v1.2h-1.2zM84.8 181.1h1.2v1.2h-1.2zM84.1 181.7h1.2v1.2h-1.2zM84.8 181.9h1.2v1.2h-1.2zM84.5 181.5h1.2v1.2h-1.2zM84.4 181.4h1.2v1.2h-1.2zM84.2 181.7h1.2v1.2h-1.2zM80.2 178.2h1.2v1.2h-1.2zM80.0 178.5h1.2v1.2h-1.2zM80.0 178.6h1.2v1.2h-1.2zM81.0 178.5h1.2v1.2h-1.2zM80.1 178.7h1.2v1.2h-1.2zM80.1 178.9h1.2v1.2h-1.2zM84.1 178.9h1.2v1.2h-1.2zM84.6 178.6h1.2v1.2h-1.2zM84.1 178.6h1.2v1.2h-1.2zM84.1 178.4h1.2v1.2h-1.2zM84.0 178.0h1.2v1.2h-1.2zM81.3 177.0h1.2v1.2h-1.2zM81.6 176.2h1.2v1.2h-1.2zM81.7 176.6h1.2v1.2h-1.2zM81.9 176.9h1.2v1.2h-1.2zM81.6 176.8h1.2v1.2h-1.2zM81.2 186.4h1.2v1.2h-1.2zM81.8 186.3h1.2v1.2h-1.2zM81.7 186.6h1.2v1.2h-1.2zM81.7 186.2h1.2v1.2h-1.2zM81.5 186.7h1.2v1.2h-1.2zM81.6 186.8h1.2v1.2h-1.2zM81.8 186.6h1.2v1.2h-1.2zM81.5 186.8h1.2v1.2h-1.2zM82.0 186.4h1.2v1.2h-1.2zM81.8 186.0h1.2v1.2h-1.2z" fill="rgb(228,180,24)"/>
<path d="M84.9 180.8h1.2v1.2h-1.2zM84.3 180.0h1.2v1.2h-1.2zM84.1 180.7h1.2v1.2h-1.2zM84.7 181.0h1.2v1.2h-1.2zM84.8 180.3h1.2v1.2h-1.2zM84.6 180.8h1.2v1.2h-1.2zM84.9 180.4h1.2v1.2h-1.2zM84.0 180.0h1.2v1.2h-1.2zM84.4 180.6h1.2v1.2h-1.2zM84.4 179.7h1.2v1.2h-1.2zM84.8 179.5h1.2v1.2h-1.2zM84.5 179.2h1.2v1.2h-1.2zM84.9 179.9h1.2v1.2h-1.2zM84.7 180.0h1.2v1.2h-1.2zM84.0 179.1h1.2v1.2h-1.2zM82.2 188.8h1.2v1.2h-1.2zM82.2 188.4h1.2v1.2h-1.2zM82.8 188.4h1.2v1.2h-1.2zM82.3 188.5h1.2v1.2h-1.2zM82.6 189.0h1.2v1.2h-1.2zM82.7 188.5h1.2v1.2h-1.2z" fill="rgb(240,180,24)"/>
<path d="M83.3 175.8h1.2v1.2h-1.2zM83.6 175.7h1.2v1.2h-1.2zM83.6 175.0h1.2v1.2h-1.2zM83.7 175.9h1.2v1.2h-1.2zM83.5 175.0h1.2v1.2h-1.2zM83.1 175.6h1.2v1.2h-1.2zM83.8 175.4h1.2v1.2h-1.2zM83.3 175.2h1.2v1.2h-1.2zM83.9 175.9h1.2v1.2h-1.2zM82.8 175.7h1.2v1.2h-1.2zM82.5 175.5h1.2v1.2h-1.2zM82.6 175.8h1.2v1.2h-1.2zM80.6 181.7h1.2v1.2h-1.2zM80.8 181.2h1.2v1.2h-1.2zM80.2 181.5h1.2v1.2h-1.2zM80.1 181.9h1.2v1.2h-1.2zM84.0 187.4h1.2v1.2h-1.2zM83.4 187.5h1.2v1.2h-1.2zM83.2 187.4h1.2v1.2h-1.2zM83.8 187.9h1.2v1.2h-1.2zM83.3 187.3h1.2v1.2h-1.2zM83.8 187.9h1.2v1.2h-1.2zM83.5 187.4h1.2v1.2h-1.2zM83.4 187.7h1.2v1.2h-1.2zM81.2 185.3h1.2v1.2h-1.2zM81.5 185.2h1.2v1.2h-1.2zM81.8 185.2h1.2v1.2h-1.2zM81.5 185.3h1.2v1.2h-1.2zM81.0 185.3h1.2v1.2h-1.2zM81.1 185.3h1.2v1.2h-1.2zM81.7 185.1h1.2v1.2h-1.2zM81.5 185.9h1.2v1.2h-1.2zM81.7 185.4h1.2v1.2h-1.2zM80.8 179.9h1.2v1.2h-1.2zM80.1 179.4h1.2v1.2h-1.2zM80.4 179.7h1.2v1.2h-1.2zM80.5 179.2h1.2v1.2h-1.2zM80.3 179.4h1.2v1.2h-1.2zM80.6 179.9h1.2v1.2h-1.2zM80.2 179.6h1.2v1.2h-1.2zM80.2 179.3h1.2v1.2h-1.2zM80.8 179.4h1.2v1.2h-1.2z" fill="rgb(240,168,24)"/>
<path d="M80.8 181.0h1.2v1.2h-1.2zM80.5 180.9h1.2v1.2h-1.2zM80.4 180.2h1.2v1.2h-1.2zM80.2 180.5h1.2v1.2h-1.2zM80.8 180.6h1.2v1.2h-1.2zM81.1 184.5h1.2v1.2h-1.2zM81.2 184.9h1.2v1.2h-1.2zM81.5 184.1h1.2v1.2h-1.2zM81.9 184.9h1.2v1.2h-1.2zM81.6 184.6h1.2v1.2h-1.2zM81.8 184.5h1.2v1.2h-1.2zM81.6 184.1h1.2v1.2h-1.2zM81.5 184.1h1.2v1.2h-1.2zM81.4 184.1h1.2v1.2h-1.2zM81.0 184.3h1.2v1.2h-1.2zM81.9 184.9h1.2v1.2h-1.2zM81.4 184.6h1.2v1.2h-1.2zM82.8 187.6h1.2v1.2h-1.2zM82.4 187.0h1.2v1.2h-1.2zM82.5 187.9h1.2v1.2h-1.2zM82.2 187.7h1.2v1.2h-1.2zM82.5 187.1h1.2v1.2h-1.2zM82.5 187.9h1.2v1.2h-1.2zM82.4 187.2h1.2v1.2h-1.2zM82.7 187.5h1.2v1.2h-1.2zM82.2 187.1h1.2v1.2h-1.2zM82.4 187.3h1.2v1.2h-1.2zM83.8 176.1h1.2v1.2h-1.2zM83.8 176.5h1.2v1.2h-1.2zM83.2 176.2h1.2v1.2h-1.2zM83.2 176.7h1.2v1.2h-1.2zM83.7 176.6h1.2v1.2h-1.2zM83.0 176.9h1.2v1.2h-1.2zM83.8 176.8h1.2v1.2h-1.2zM83.4 176.8h1.2v1.2h-1.2zM83.2 186.5h1.2v1.2h-1.2zM83.8 187.0h1.2v1.2h-1.2zM83.4 186.1h1.2v1.2h-1.2zM84.0 186.0h1.2v1.2h-1.2zM83.6 186.2h1.2v1.2h-1.2zM83.8 186.2h1.2v1.2h-1.2zM84.0 186.8h1.2v1.2h-1.2z" fill="rgb(240,156,24)"/>
<path d="M82.0 176.6h1.2v1.2h-1.2zM83.0 176.5h1.2v1.2h-1.2zM82.5 177.0h1.2v1.2h-1.2zM82.1 176.4h1.2v1.2h-1.2zM82.8 176.0h1.2v1.2h-1.2zM82.3 176.4h1.2v1.2h-1.2zM82.7 176.0h1.2v1.2h-1.2zM82.0 176.3h1.2v1.2h-1.2zM82.2 176.2h1.2v1.2h-1.2zM81.3 177.3h1.2v1.2h-1.2zM81.1 177.8h1.2v1.2h-1.2zM81.0 177.3h1.2v1.2h-1.2zM81.7 178.0h1.2v1.2h-1.2zM81.7 177.4h1.2v1.2h-1.2zM81.0 183.0h1.2v1.2h-1.2zM81.7 183.9h1.2v1.2h-1.2zM81.2 183.3h1.2v1.2h-1.2zM81.1 183.2h1.2v1.2h-1.2zM81.3 183.3h1.2v1.2h-1.2zM81.0 183.2h1.2v1.2h-1.2zM81.1 183.3h1.2v1.2h-1.2zM82.9 186.1h1.2v1.2h-1.2zM82.9 186.8h1.2v1.2h-1.2zM82.6 186.2h1.2v1.2h-1.2zM82.9 186.2h1.2v1.2h-1.2zM82.1 186.6h1.2v1.2h-1.2zM82.3 187.0h1.2v1.2h-1.2zM82.4 186.9h1.2v1.2h-1.2zM82.1 186.9h1.2v1.2h-1.2zM82.1 186.3h1.2v1.2h-1.2zM82.2 186.3h1.2v1.2h-1.2zM82.2 186.2h1.2v1.2h-1.2zM83.3 185.6h1.2v1.2h-1.2zM83.9 185.6h1.2v1.2h-1.2zM83.9 185.6h1.2v1.2h-1.2zM83.3 185.3h1.2v1.2h-1.2zM83.3 185.3h1.2v1.2h-1.2zM83.9 185.3h1.2v1.2h-1.2zM83.6 185.0h1.2v1.2h-1.2zM83.3 185.7h1.2v1.2h-1.2zM84.0 184.9h1.2v1.2h-1.2zM83.8 184.6h1.2v1.2h-1.2zM83.8 184.3h1.2v1.2h-1.2zM83.9 184.2h1.2v1.2h-1.2zM83.8 184.5h1.2v1.2h-1.2zM83.8 184.6h1.2v1.2h-1.2z" fill="rgb(240,144,24)"/>
<path d="M83.3 183.7h1.2v1.2h-1.2zM83.8 183.1h1.2v1.2h-1.2zM83.8 183.4h1.2v1.2h-1.2zM83.2 183.5h1.2v1.2h-1.2zM83.2 177.9h1.2v1.2h-1.2zM83.5 177.9h1.2v1.2h-1.2zM83.3 177.8h1.2v1.2h-1.2zM83.9 177.4h1.2v1.2h-1.2zM83.5 177.9h1.2v1.2h-1.2zM83.1 177.5h1.2v1.2h-1.2zM83.0 177.1h1.2v1.2h-1.2zM83.7 177.4h1.2v1.2h-1.2zM83.3 177.9h1.2v1.2h-1.2zM82.1 185.4h1.2v1.2h-1.2zM82.7 185.7h1.2v1.2h-1.2zM82.1 185.9h1.2v1.2h-1.2zM82.6 185.3h1.2v1.2h-1.2zM82.5 185.8h1.2v1.2h-1.2zM82.8 185.1h1.2v1.2h-1.2zM82.6 185.2h1.2v1.2h-1.2zM82.4 185.4h1.2v1.2h-1.2zM82.3 185.5h1.2v1.2h-1.2zM83.0 185.4h1.2v1.2h-1.2zM82.1 185.4h1.2v1.2h-1.2zM81.8 182.9h1.2v1.2h-1.2zM81.3 182.1h1.2v1.2h-1.2zM81.6 182.7h1.2v1.2h-1.2zM81.8 182.2h1.2v1.2h-1.2zM81.6 183.0h1.2v1.2h-1.2zM81.1 182.6h1.2v1.2h-1.2zM81.3 182.7h1.2v1.2h-1.2zM83.8 182.4h1.2v1.2h-1.2zM83.4 182.8h1.2v1.2h-1.2zM83.9 182.9h1.2v1.2h-1.2zM83.7 182.1h1.2v1.2h-1.2zM83.2 182.7h1.2v1.2h-1.2zM83.0 182.3h1.2v1.2h-1.2zM83.3 182.5h1.2v1.2h-1.2zM83.1 182.9h1.2v1.2h-1.2zM83.7 182.4h1.2v1.2h-1.2zM83.1 182.0h1.2v1.2h-1.2zM83.2 182.5h1.2v1.2h-1.2z" fill="rgb(240,132,24)"/>
<path d="M82.6 184.8h1.2v1.2h-1.2zM82.9 184.7h1.2v1.2h-1.2zM82.2 184.3h1.2v1.2h-1.2zM82.3 184.8h1.2v1.2h-1.2zM82.8 184.2h1.2v1.2h-1.2zM82.2 184.7h1.2v1.2h-1.2zM82.9 183.6h1.2v1.2h-1.2zM82.7 183.8h1.2v1.2h-1.2zM82.5 183.1h1.2v1.2h-1.2zM82.8 183.5h1.2v1.2h-1.2zM82.8 183.9h1.2v1.2h-1.2z" fill="rgb(240,120,24)"/>
<path d="M83.0 181.0h1.2v1.2h-1.2zM83.8 181.1h1.2v1.2h-1.2zM83.2 181.4h1.2v1.2h-1.2zM83.1 181.4h1.2v1.2h-1.2zM83.5 181.4h1.2v1.2h-1.2zM83.0 181.5h1.2v1.2h-1.2zM83.3 181.2h1.2v1.2h-1.2zM83.4 181.8h1.2v1.2h-1.2zM83.4 182.0h1.2v1.2h-1.2zM83.3 181.8h1.2v1.2h-1.2zM83.7 181.3h1.2v1.2h-1.2zM82.8 177.5h1.2v1.2h-1.2zM82.1 177.4h1.2v1.2h-1.2zM82.6 177.5h1.2v1.2h-1.2zM82.0 177.5h1.2v1.2h-1.2zM82.3 177.1h1.2v1.2h-1.2zM82.2 178.0h1.2v1.2h-1.2zM82.4 177.9h1.2v1.2h-1.2zM82.7 177.7h1.2v1.2h-1.2zM82.4 177.9h1.2v1.2h-1.2zM82.8 177.8h1.2v1.2h-1.2zM82.0 177.3h1.2v1.2h-1.2zM82.8 177.7h1.2v1.2h-1.2zM82.3 177.1h1.2v1.2h-1.2zM82.7 177.5h1.2v1.2h-1.2zM82.2 178.0h1.2v1.2h-1.2zM81.7 178.4h1.2v1.2h-1.2zM81.5 178.9h1.2v1.2h-1.2zM81.7 178.4h1.2v1.2h-1.2zM81.9 178.7h1.2v1.2h-1.2zM81.9 178.5h1.2v1.2h-1.2zM81.9 178.5h1.2v1.2h-1.2zM82.0 178.1h1.2v1.2h-1.2zM81.5 178.8h1.2v1.2h-1.2zM81.2 178.7h1.2v1.2h-1.2zM81.4 178.3h1.2v1.2h-1.2zM83.6 178.9h1.2v1.2h-1.2zM83.0 179.0h1.2v1.2h-1.2zM83.1 178.9h1.2v1.2h-1.2zM83.2 178.4h1.2v1.2h-1.2zM83.9 178.6h1.2v1.2h-1.2zM83.7 178.7h1.2v1.2h-1.2zM83.4 179.0h1.2v1.2h-1.2zM81.7 181.6h1.2v1.2h-1.2zM81.6 181.2h1.2v1.2h-1.2zM81.9 181.7h1.2v1.2h-1.2zM81.4 181.3h1.2v1.2h-1.2zM81.5 181.2h1.2v1.2h-1.2zM81.3 181.8h1.2v1.2h-1.2zM81.6 181.5h1.2v1.2h-1.2z" fill="rgb(240,108,24)"/>
<path d="M82.8 182.1h1.2v1.2h-1.2zM82.2 182.2h1.2v1.2h-1.2zM82.3 182.6h1.2v1.2h-1.2zM82.1 182.0h1.2v1.2h-1.2zM82.8 182.2h1.2v1.2h-1.2zM82.4 182.3h1.2v1.2h-1.2zM84.0 180.0h1.2v1.2h-1.2zM83.9 180.4h1.2v1.2h-1.2zM83.4 180.6h1.2v1.2h-1.2zM83.4 180.3h1.2v1.2h-1.2zM83.2 180.8h1.2v1.2h-1.2zM83.2 180.4h1.2v1.2h-1.2zM83.1 180.7h1.2v1.2h-1.2zM83.4 180.9h1.2v1.2h-1.2zM83.4 180.4h1.2v1.2h-1.2zM83.6 180.4h1.2v1.2h-1.2zM83.4 179.2h1.2v1.2h-1.2zM83.2 179.5h1.2v1.2h-1.2zM83.4 179.1h1.2v1.2h-1.2zM83.0 179.2h1.2v1.2h-1.2zM83.1 179.6h1.2v1.2h-1.2zM83.9 179.9h1.2v1.2h-1.2zM83.1 179.8h1.2v1.2h-1.2zM83.4 179.4h1.2v1.2h-1.2zM83.3 179.8h1.2v1.2h-1.2z" fill="rgb(240,96,24)"/>
<path d="M81.2 179.8h1.2v1.2h-1.2zM82.0 179.9h1.2v1.2h-1.2zM81.6 179.4h1.2v1.2h-1.2zM81.9 179.1h1.2v1.2h-1.2zM82.0 179.6h1.2v1.2h-1.2zM81.2 179.2h1.2v1.2h-1.2zM82.0 180.0h1.2v1.2h-1.2zM81.5 179.2h1.2v1.2h-1.2zM81.4 179.4h1.2v1.2h-1.2zM83.0 179.4h1.2v1.2h-1.2zM82.9 179.0h1.2v1.2h-1.2zM82.8 178.3h1.2v1.2h-1.2zM81.4 180.2h1.2v1.2h-1.2zM82.8 181.1h1.2v1.2h-1.2zM82.9 181.6h1.2v1.2h-1.2zM81.2 180.1h1.2v1.2h-1.2zM82.5 179.4h1.2v1.2h-1.2zM82.3 178.9h1.2v1.2h-1.2zM82.7 179.7h1.2v1.2h-1.2zM82.5 181.9h1.2v1.2h-1.2zM81.7 180.4h1.2v1.2h-1.2zM82.7 180.5h1.2v1.2h-1.2zM82.3 181.4h1.2v1.2h-1.2zM82.1 178.3h1.2v1.2h-1.2zM81.4 180.6h1.2v1.2h-1.2zM81.4 180.7h1.2v1.2h-1.2zM82.7 180.1h1.2v1.2h-1.2zM82.3 180.9h1.2v1.2h-1.2zM82.1 180.4h1.2v1.2h-1.2zM82.8 180.7h1.2v1.2h-1.2zM81.7 180.5h1.2v1.2h-1.2zM82.4 178.9h1.2v1.2h-1.2zM82.5 179.7h1.2v1.2h-1.2zM81.9 180.3h1.2v1.2h-1.2zM82.0 180.1h1.2v1.2h-1.2zM81.4 180.4h1.2v1.2h-1.2zM82.3 178.5h1.2v1.2h-1.2zM82.8 179.0h1.2v1.2h-1.2zM82.7 180.8h1.2v1.2h-1.2zM81.8 180.5h1.2v1.2h-1.2zM82.9 179.0h1.2v1.2h-1.2zM82.4 179.1h1.2v1.2h-1.2zM82.8 179.7h1.2v1.2h-1.2zM81.4 180.4h1.2v1.2h-1.2zM82.2 180.6h1.2v1.2h-1.2zM82.9 180.5h1.2v1.2h-1.2zM82.3 180.4h1.2v1.2h-1.2zM81.8 180.9h1.2v1.2h-1.2zM82.9 180.4h1.2v1.2h-1.2zM82.4 179.3h1.2v1.2h-1.2zM81.8 180.6h1.2v1.2h-1.2zM81.8 180.1h1.2v1.2h-1.2zM82.1 181.5h1.2v1.2h-1.2z" fill="rgb(240,84,24)"/>
<line x1="36.5" y1="20.3" x2="112.5" y2="20.3" stroke="#555" stroke-width="1.2"/>
<line x1="36.5" y1="20.3" x2="36.5" y2="226.8" stroke="#666" stroke-width="1.1"/>
<line x1="36.5" y1="226.8" x2="112.5" y2="226.8" stroke="#555" stroke-width="1.2"/>
<rect x="112.5" y="20.5" width="130.2" height="206.2" fill="none" stroke="#222" stroke-width="1.4"/>
<text x="176.5" y="120.5" font-size="8.5" font-weight="bold" text-anchor="middle" fill="#111" textLength="21" lengthAdjust="spacingAndGlyphs">CD45</text>
<text x="176.5" y="133.2" font-size="8.5" font-weight="bold" text-anchor="middle" fill="#111" textLength="16" lengthAdjust="spacingAndGlyphs">7,63</text>
<text x="137.5" y="245.2" font-size="8.5" font-weight="bold" text-anchor="middle" fill="#555" textLength="39" lengthAdjust="spacingAndGlyphs">PE-Cy7-A</text>
<text transform="translate(17.5,123.5) rotate(-90)" font-size="8.5" font-weight="bold" text-anchor="middle" fill="#555" textLength="27.3" lengthAdjust="spacingAndGlyphs">SSC-A</text>
<rect x="405" y="0" width="83" height="227.7" fill="#f2f2f2"/>
<text x="364.4" y="26.5" font-size="11.5" font-weight="bold" text-anchor="middle" fill="#333" textLength="39" lengthAdjust="spacingAndGlyphs">Control</text>
<text x="450.1" y="23.8" font-size="11.5" font-weight="bold" text-anchor="middle" fill="#333" textLength="31.5" lengthAdjust="spacingAndGlyphs">NK-92</text>
<text x="557.6" y="26.6" font-size="11.5" font-weight="bold" text-anchor="middle" fill="#333" textLength="70.5" lengthAdjust="spacingAndGlyphs">NK-92/5.28.z</text>
<line x1="377.7" y1="62.2" x2="555.9" y2="62.2" stroke="#222" stroke-width="1"/>
<line x1="377.7" y1="62.2" x2="377.7" y2="217" stroke="#222" stroke-width="1"/>
<line x1="555.9" y1="62.2" x2="555.9" y2="202" stroke="#222" stroke-width="1"/>
<line x1="466.6" y1="62.2" x2="466.6" y2="158" stroke="#000" stroke-width="2"/>
<text x="418.5" y="63.5" font-size="18" font-weight="normal" text-anchor="middle" fill="#222">**</text>
<text x="508" y="63.5" font-size="18" font-weight="normal" text-anchor="middle" fill="#222">**</text>
<line x1="320.2" y1="228.7" x2="320.2" y2="53.7" stroke="#000" stroke-width="2"/>
<line x1="313.7" y1="227.7" x2="320.2" y2="227.7" stroke="#000" stroke-width="1.5"/>
<text x="310.5" y="232.3" font-size="12.8" font-weight="normal" text-anchor="end" fill="#000" stroke="#000" stroke-width="0.35">0</text>
<line x1="313.7" y1="184.2" x2="320.2" y2="184.2" stroke="#000" stroke-width="1.5"/>
<text x="310.5" y="188.8" font-size="12.8" font-weight="normal" text-anchor="end" fill="#000" stroke="#000" stroke-width="0.35">5</text>
<line x1="313.7" y1="140.7" x2="320.2" y2="140.7" stroke="#000" stroke-width="1.5"/>
<text x="310.5" y="145.3" font-size="12.8" font-weight="normal" text-anchor="end" fill="#000" stroke="#000" stroke-width="0.35">10</text>
<line x1="313.7" y1="97.2" x2="320.2" y2="97.2" stroke="#000" stroke-width="1.5"/>
<text x="310.5" y="101.8" font-size="12.8" font-weight="normal" text-anchor="end" fill="#000" stroke="#000" stroke-width="0.35">15</text>
<line x1="313.7" y1="53.7" x2="320.2" y2="53.7" stroke="#000" stroke-width="1.5"/>
<text x="310.5" y="58.3" font-size="12.8" font-weight="normal" text-anchor="end" fill="#000" stroke="#000" stroke-width="0.35">20</text>
<text transform="translate(286.6,141.2) rotate(-90)" font-size="12.5" font-weight="normal" text-anchor="middle" fill="#000" textLength="107.5" lengthAdjust="spacingAndGlyphs" stroke="#000" stroke-width="0.3">CD45+ cells [%]</text>
<ellipse cx="330.3" cy="227.7" rx="5" ry="1.7" fill="#000"/>
<ellipse cx="346.1" cy="227.7" rx="5" ry="1.7" fill="#000"/>
<ellipse cx="361.8" cy="227.7" rx="5" ry="1.7" fill="#000"/>
<ellipse cx="377.6" cy="227.7" rx="5" ry="1.7" fill="#000"/>
<ellipse cx="393.3" cy="227.7" rx="5" ry="1.7" fill="#000"/>
<line x1="419.8" y1="95.5" x2="419.8" y2="227.7" stroke="#000" stroke-width="1.6"/>
<rect x="415" y="198.1" width="9.6" height="28.7" fill="#a6a6a6" stroke="#000" stroke-width="1.6"/>
<line x1="415" y1="222.5" x2="424.6" y2="222.5" stroke="#000" stroke-width="1.6"/>
<circle cx="419.8" cy="210.3" r="1.5" fill="#000"/>
<circle cx="419.8" cy="197.2" r="1.5" fill="#000"/>
<circle cx="417.8" cy="222.5" r="1.5" fill="#000"/>
<circle cx="421.8" cy="223.3" r="1.5" fill="#000"/>
<circle cx="419.8" cy="226.8" r="1.5" fill="#000"/>
<circle cx="419.8" cy="95.5" r="1.7" fill="#000"/>
<line x1="435.6" y1="221.6" x2="435.6" y2="227.7" stroke="#000" stroke-width="1.6"/>
<rect x="431.6" y="224.2" width="8" height="3" fill="#a6a6a6" stroke="#000" stroke-width="1.6"/>
<line x1="431.6" y1="226" x2="439.6" y2="226" stroke="#000" stroke-width="1.6"/>
<circle cx="433.6" cy="225.1" r="1.5" fill="#000"/>
<circle cx="437.6" cy="223.3" r="1.5" fill="#000"/>
<circle cx="435.6" cy="221.6" r="1.5" fill="#000"/>
<circle cx="432.6" cy="226.8" r="1.5" fill="#000"/>
<circle cx="438.6" cy="226.4" r="1.5" fill="#000"/>
<circle cx="435.6" cy="221.6" r="1.7" fill="#000"/>
<line x1="451.3" y1="164.2" x2="451.3" y2="227.7" stroke="#000" stroke-width="1.6"/>
<rect x="446.5" y="186.8" width="9.6" height="33.9" fill="#a6a6a6" stroke="#000" stroke-width="1.6"/>
<line x1="446.5" y1="202.5" x2="456.1" y2="202.5" stroke="#000" stroke-width="1.6"/>
<circle cx="451.3" cy="168.5" r="1.5" fill="#000"/>
<circle cx="451.3" cy="175.5" r="1.5" fill="#000"/>
<circle cx="449.3" cy="194.6" r="1.5" fill="#000"/>
<circle cx="453.3" cy="199.9" r="1.5" fill="#000"/>
<circle cx="451.3" cy="210.3" r="1.5" fill="#000"/>
<circle cx="449.3" cy="190.3" r="1.5" fill="#000"/>
<circle cx="453.3" cy="214.6" r="1.5" fill="#000"/>
<circle cx="451.3" cy="164.2" r="1.7" fill="#000"/>
<line x1="467.1" y1="165.9" x2="467.1" y2="227.7" stroke="#000" stroke-width="1.6"/>
<rect x="462.2" y="190.3" width="9.6" height="28.7" fill="#a6a6a6" stroke="#000" stroke-width="1.6"/>
<line x1="462.2" y1="204.2" x2="471.9" y2="204.2" stroke="#000" stroke-width="1.6"/>
<circle cx="465.1" cy="189.4" r="1.5" fill="#000"/>
<circle cx="469.1" cy="189.4" r="1.5" fill="#000"/>
<circle cx="467.1" cy="201.6" r="1.5" fill="#000"/>
<circle cx="465.1" cy="196.4" r="1.5" fill="#000"/>
<circle cx="469.1" cy="208.6" r="1.5" fill="#000"/>
<circle cx="467.1" cy="216.4" r="1.5" fill="#000"/>
<circle cx="467.1" cy="165.9" r="1.7" fill="#000"/>
<line x1="482.8" y1="222.5" x2="482.8" y2="227.7" stroke="#000" stroke-width="1.6"/>
<rect x="478.8" y="224.7" width="8" height="2.6" fill="#a6a6a6" stroke="#000" stroke-width="1.6"/>
<line x1="478.8" y1="226" x2="486.8" y2="226" stroke="#000" stroke-width="1.6"/>
<circle cx="480.8" cy="225.1" r="1.5" fill="#000"/>
<circle cx="484.8" cy="224.2" r="1.5" fill="#000"/>
<circle cx="482.8" cy="222.5" r="1.5" fill="#000"/>
<circle cx="479.8" cy="226.8" r="1.5" fill="#000"/>
<circle cx="482.8" cy="222.5" r="1.7" fill="#000"/>
<line x1="508.7" y1="72.8" x2="508.7" y2="227.7" stroke="#000" stroke-width="1.6"/>
<rect x="503.9" y="208.6" width="9.6" height="18.3" fill="#7f7f7f" stroke="#000" stroke-width="1.6"/>
<line x1="503.9" y1="225.1" x2="513.5" y2="225.1" stroke="#000" stroke-width="1.6"/>
<circle cx="508.7" cy="210.3" r="1.5" fill="#000"/>
<circle cx="508.7" cy="198.1" r="1.5" fill="#000"/>
<circle cx="506.7" cy="220.7" r="1.5" fill="#000"/>
<circle cx="509.7" cy="226.8" r="1.5" fill="#000"/>
<circle cx="508.7" cy="72.8" r="1.7" fill="#000"/>
<line x1="524.5" y1="216.4" x2="524.5" y2="227.7" stroke="#000" stroke-width="1.6"/>
<rect x="519.7" y="221.6" width="9.6" height="5.2" fill="#7f7f7f" stroke="#000" stroke-width="1.6"/>
<line x1="519.7" y1="224.2" x2="529.2" y2="224.2" stroke="#000" stroke-width="1.6"/>
<circle cx="522.5" cy="219" r="1.5" fill="#000"/>
<circle cx="526.5" cy="218.1" r="1.5" fill="#000"/>
<circle cx="524.5" cy="222.5" r="1.5" fill="#000"/>
<circle cx="524.5" cy="216.4" r="1.7" fill="#000"/>
<line x1="540.2" y1="132" x2="540.2" y2="227.7" stroke="#000" stroke-width="1.6"/>
<rect x="535.4" y="157.2" width="9.6" height="64.4" fill="#7f7f7f" stroke="#000" stroke-width="1.6"/>
<line x1="535.4" y1="210.3" x2="545" y2="210.3" stroke="#000" stroke-width="1.6"/>
<circle cx="540.2" cy="152" r="1.5" fill="#000"/>
<circle cx="538.2" cy="208.6" r="1.5" fill="#000"/>
<circle cx="542.2" cy="212" r="1.5" fill="#000"/>
<circle cx="540.2" cy="225.1" r="1.5" fill="#000"/>
<circle cx="540.2" cy="132" r="1.7" fill="#000"/>
<line x1="556" y1="209.4" x2="556" y2="227.7" stroke="#000" stroke-width="1.6"/>
<rect x="551.2" y="220.3" width="9.6" height="6.5" fill="#7f7f7f" stroke="#000" stroke-width="1.6"/>
<line x1="551.2" y1="222.5" x2="560.8" y2="222.5" stroke="#000" stroke-width="1.6"/>
<circle cx="554" cy="215.5" r="1.5" fill="#000"/>
<circle cx="558" cy="220.7" r="1.5" fill="#000"/>
<circle cx="556" cy="225.1" r="1.5" fill="#000"/>
<circle cx="556" cy="209.4" r="1.5" fill="#000"/>
<circle cx="556" cy="209.4" r="1.7" fill="#000"/>
<line x1="571.7" y1="132.9" x2="571.7" y2="227.7" stroke="#000" stroke-width="1.6"/>
<rect x="566.9" y="208.6" width="9.6" height="18.3" fill="#7f7f7f" stroke="#000" stroke-width="1.6"/>
<line x1="566.9" y1="224.2" x2="576.5" y2="224.2" stroke="#000" stroke-width="1.6"/>
<circle cx="569.7" cy="223.3" r="1.5" fill="#000"/>
<circle cx="571.7" cy="209.4" r="1.5" fill="#000"/>
<circle cx="572.7" cy="220.7" r="1.5" fill="#000"/>
<circle cx="571.7" cy="132.9" r="1.7" fill="#000"/>
<line x1="320.2" y1="227.7" x2="582" y2="227.7" stroke="#000" stroke-width="2"/>
<line x1="330.3" y1="227.7" x2="330.3" y2="234.7" stroke="#000" stroke-width="1.3"/>
<line x1="346.1" y1="227.7" x2="346.1" y2="234.7" stroke="#000" stroke-width="1.3"/>
<line x1="361.8" y1="227.7" x2="361.8" y2="234.7" stroke="#000" stroke-width="1.3"/>
<line x1="377.6" y1="227.7" x2="377.6" y2="234.7" stroke="#000" stroke-width="1.3"/>
<line x1="393.3" y1="227.7" x2="393.3" y2="234.7" stroke="#000" stroke-width="1.3"/>
<line x1="419.8" y1="227.7" x2="419.8" y2="234.7" stroke="#000" stroke-width="1.3"/>
<line x1="435.6" y1="227.7" x2="435.6" y2="234.7" stroke="#000" stroke-width="1.3"/>
<line x1="451.3" y1="227.7" x2="451.3" y2="234.7" stroke="#000" stroke-width="1.3"/>
<line x1="467.1" y1="227.7" x2="467.1" y2="234.7" stroke="#000" stroke-width="1.3"/>
<line x1="482.8" y1="227.7" x2="482.8" y2="234.7" stroke="#000" stroke-width="1.3"/>
<line x1="508.7" y1="227.7" x2="508.7" y2="234.7" stroke="#000" stroke-width="1.3"/>
<line x1="524.5" y1="227.7" x2="524.5" y2="234.7" stroke="#000" stroke-width="1.3"/>
<line x1="540.2" y1="227.7" x2="540.2" y2="234.7" stroke="#000" stroke-width="1.3"/>
<line x1="556" y1="227.7" x2="556" y2="234.7" stroke="#000" stroke-width="1.3"/>
<line x1="571.7" y1="227.7" x2="571.7" y2="234.7" stroke="#000" stroke-width="1.3"/>
<text transform="translate(334.8,237.8) rotate(-90)" font-size="12.5" font-weight="normal" text-anchor="end" fill="#000" textLength="29.2" lengthAdjust="spacingAndGlyphs" stroke="#000" stroke-width="0.35">Liver</text>
<text transform="translate(350.6,237.8) rotate(-90)" font-size="12.5" font-weight="normal" text-anchor="end" fill="#000" textLength="30" lengthAdjust="spacingAndGlyphs" stroke="#000" stroke-width="0.35">Lung</text>
<text transform="translate(366.3,237.8) rotate(-90)" font-size="12.5" font-weight="normal" text-anchor="end" fill="#000" textLength="41.2" lengthAdjust="spacingAndGlyphs" stroke="#000" stroke-width="0.35">Spleen</text>
<text transform="translate(382.1,237.8) rotate(-90)" font-size="12.5" font-weight="normal" text-anchor="end" fill="#000" textLength="18.2" lengthAdjust="spacingAndGlyphs" stroke="#000" stroke-width="0.35">BM</text>
<text transform="translate(397.8,237.8) rotate(-90)" font-size="12.5" font-weight="normal" text-anchor="end" fill="#000" textLength="34.6" lengthAdjust="spacingAndGlyphs" stroke="#000" stroke-width="0.35">Blood</text>
<text transform="translate(424.3,237.8) rotate(-90)" font-size="12.5" font-weight="normal" text-anchor="end" fill="#000" textLength="29.2" lengthAdjust="spacingAndGlyphs" stroke="#000" stroke-width="0.35">Liver</text>
<text transform="translate(440.1,237.8) rotate(-90)" font-size="12.5" font-weight="normal" text-anchor="end" fill="#000" textLength="30" lengthAdjust="spacingAndGlyphs" stroke="#000" stroke-width="0.35">Lung</text>
<text transform="translate(455.8,237.8) rotate(-90)" font-size="12.5" font-weight="normal" text-anchor="end" fill="#000" textLength="41.2" lengthAdjust="spacingAndGlyphs" stroke="#000" stroke-width="0.35">Spleen</text>
<text transform="translate(471.6,237.8) rotate(-90)" font-size="12.5" font-weight="normal" text-anchor="end" fill="#000" textLength="18.2" lengthAdjust="spacingAndGlyphs" stroke="#000" stroke-width="0.35">BM</text>
<text transform="translate(487.3,237.8) rotate(-90)" font-size="12.5" font-weight="normal" text-anchor="end" fill="#000" textLength="34.6" lengthAdjust="spacingAndGlyphs" stroke="#000" stroke-width="0.35">Blood</text>
<text transform="translate(513.2,237.8) rotate(-90)" font-size="12.5" font-weight="normal" text-anchor="end" fill="#000" textLength="29.2" lengthAdjust="spacingAndGlyphs" stroke="#000" stroke-width="0.35">Liver</text>
<text transform="translate(529,237.8) rotate(-90)" font-size="12.5" font-weight="normal" text-anchor="end" fill="#000" textLength="30" lengthAdjust="spacingAndGlyphs" stroke="#000" stroke-width="0.35">Lung</text>
<text transform="translate(544.7,237.8) rotate(-90)" font-size="12.5" font-weight="normal" text-anchor="end" fill="#000" textLength="41.2" lengthAdjust="spacingAndGlyphs" stroke="#000" stroke-width="0.35">Spleen</text>
<text transform="translate(560.5,237.8) rotate(-90)" font-size="12.5" font-weight="normal" text-anchor="end" fill="#000" textLength="18.2" lengthAdjust="spacingAndGlyphs" stroke="#000" stroke-width="0.35">BM</text>
<text transform="translate(576.2,237.8) rotate(-90)" font-size="12.5" font-weight="normal" text-anchor="end" fill="#000" textLength="34.6" lengthAdjust="spacingAndGlyphs" stroke="#000" stroke-width="0.35">Blood</text>
<rect x="125" y="342.5" width="93.3" height="222.2" fill="#f2f2f2"/>
<text x="85" y="362" font-size="11.5" font-weight="bold" text-anchor="middle" fill="#333" textLength="39.3" lengthAdjust="spacingAndGlyphs">Control</text>
<text x="174.7" y="362" font-size="11.5" font-weight="bold" text-anchor="middle" fill="#333" textLength="32.3" lengthAdjust="spacingAndGlyphs">NK-92</text>
<text x="262" y="362" font-size="11.5" font-weight="bold" text-anchor="middle" fill="#333" textLength="70.6" lengthAdjust="spacingAndGlyphs">NK-92/5.28.z</text>
<line x1="40" y1="565.7" x2="40" y2="393.5" stroke="#000" stroke-width="2"/>
<line x1="35.5" y1="564.7" x2="40" y2="564.7" stroke="#000" stroke-width="1.5"/>
<text x="32.8" y="569" font-size="12" font-weight="bold" text-anchor="end" fill="#000">0</text>
<line x1="35.5" y1="507.6" x2="40" y2="507.6" stroke="#000" stroke-width="1.5"/>
<text x="32.8" y="511.9" font-size="12" font-weight="bold" text-anchor="end" fill="#000">20</text>
<line x1="35.5" y1="450.5" x2="40" y2="450.5" stroke="#000" stroke-width="1.5"/>
<text x="32.8" y="454.8" font-size="12" font-weight="bold" text-anchor="end" fill="#000">40</text>
<line x1="35.5" y1="393.4" x2="40" y2="393.4" stroke="#000" stroke-width="1.5"/>
<text x="32.8" y="397.7" font-size="12" font-weight="bold" text-anchor="end" fill="#000">60</text>
<text transform="translate(11,478.5) rotate(-90)" font-size="12.5" font-weight="normal" text-anchor="middle" fill="#000" textLength="107" lengthAdjust="spacingAndGlyphs" stroke="#000" stroke-width="0.3">Effector cell [%]</text>
<line x1="91.2" y1="405.4" x2="91.2" y2="558" stroke="#707070" stroke-width="1"/>
<line x1="91.2" y1="405.4" x2="177" y2="405.4" stroke="#707070" stroke-width="1"/>
<line x1="177" y1="405.4" x2="177" y2="411.5" stroke="#707070" stroke-width="1"/>
<line x1="177" y1="392.7" x2="177" y2="400.5" stroke="#707070" stroke-width="1"/>
<line x1="177" y1="392.7" x2="262.7" y2="392.7" stroke="#707070" stroke-width="1"/>
<line x1="262.7" y1="392.7" x2="262.7" y2="510" stroke="#707070" stroke-width="1"/>
<text x="133.3" y="406.8" font-size="22.5" font-weight="normal" text-anchor="middle" fill="#111" stroke="#111" stroke-width="0.3">**</text>
<text x="213.5" y="395" font-size="22" font-weight="normal" text-anchor="middle" fill="#111" stroke="#111" stroke-width="0.3">*</text>
<line x1="109.7" y1="601.5" x2="109.7" y2="618.3" stroke="#707070" stroke-width="1"/>
<line x1="109.7" y1="618.3" x2="195.3" y2="618.3" stroke="#707070" stroke-width="1"/>
<line x1="195.3" y1="601.5" x2="195.3" y2="618.3" stroke="#707070" stroke-width="1"/>
<line x1="194.5" y1="619.5" x2="194.5" y2="630.7" stroke="#707070" stroke-width="1"/>
<line x1="194.5" y1="630.7" x2="281" y2="630.7" stroke="#707070" stroke-width="1"/>
<line x1="281" y1="604.5" x2="281" y2="630.7" stroke="#707070" stroke-width="1"/>
<text x="149.7" y="622" font-size="23.5" font-weight="normal" text-anchor="middle" fill="#111" stroke="#111" stroke-width="0.3">**</text>
<text x="240.9" y="634.5" font-size="24" font-weight="normal" text-anchor="middle" fill="#111" stroke="#111" stroke-width="0.3">*</text>
<ellipse cx="54.2" cy="564.7" rx="6.5" ry="1.6" fill="#000"/>
<ellipse cx="72.7" cy="564.7" rx="6.5" ry="1.6" fill="#000"/>
<ellipse cx="91.2" cy="564.7" rx="6.5" ry="1.6" fill="#000"/>
<ellipse cx="109.7" cy="564.7" rx="6.5" ry="1.6" fill="#000"/>
<line x1="140.4" y1="557" x2="140.4" y2="560.1" stroke="#a8a8a8" stroke-width="2"/>
<line x1="140.4" y1="564.4" x2="140.4" y2="564.7" stroke="#a8a8a8" stroke-width="2"/>
<rect x="134.4" y="560.1" width="12" height="4.3" fill="none" stroke="#a8a8a8" stroke-width="2"/>
<line x1="134.4" y1="563" x2="146.4" y2="563" stroke="#a8a8a8" stroke-width="2"/>
<rect x="138.7" y="555.2" width="3.5" height="3.5" fill="#000"/>
<rect x="134.7" y="558.4" width="3.5" height="3.5" fill="#000"/>
<rect x="141.7" y="559.2" width="3.5" height="3.5" fill="#000"/>
<rect x="136.7" y="560.4" width="3.5" height="3.5" fill="#000"/>
<rect x="140.7" y="561.2" width="3.5" height="3.5" fill="#000"/>
<rect x="133.7" y="561.8" width="3.5" height="3.5" fill="#000"/>
<rect x="143.7" y="562.1" width="3.5" height="3.5" fill="#000"/>
<rect x="138.7" y="562.4" width="3.5" height="3.5" fill="#000"/>
<rect x="135.7" y="562.7" width="3.5" height="3.5" fill="#000"/>
<rect x="141.7" y="562.8" width="3.5" height="3.5" fill="#000"/>
<line x1="158.7" y1="551" x2="158.7" y2="556.7" stroke="#a8a8a8" stroke-width="2"/>
<line x1="158.7" y1="564.1" x2="158.7" y2="564.7" stroke="#a8a8a8" stroke-width="2"/>
<rect x="152.7" y="556.7" width="12" height="7.4" fill="none" stroke="#a8a8a8" stroke-width="2"/>
<line x1="152.7" y1="561.3" x2="164.7" y2="561.3" stroke="#a8a8a8" stroke-width="2"/>
<rect x="154" y="550.7" width="3.5" height="3.5" fill="#000"/>
<rect x="160" y="549.2" width="3.5" height="3.5" fill="#000"/>
<rect x="153" y="554.4" width="3.5" height="3.5" fill="#000"/>
<rect x="157" y="555.5" width="3.5" height="3.5" fill="#000"/>
<rect x="161" y="556.1" width="3.5" height="3.5" fill="#000"/>
<rect x="155" y="557.8" width="3.5" height="3.5" fill="#000"/>
<rect x="159" y="559.2" width="3.5" height="3.5" fill="#000"/>
<rect x="153" y="560.7" width="3.5" height="3.5" fill="#000"/>
<rect x="157" y="561.5" width="3.5" height="3.5" fill="#000"/>
<rect x="161" y="562.1" width="3.5" height="3.5" fill="#000"/>
<rect x="156" y="562.7" width="3.5" height="3.5" fill="#000"/>
<rect x="159" y="562.8" width="3.5" height="3.5" fill="#000"/>
<line x1="177" y1="417.1" x2="177" y2="497.6" stroke="#a8a8a8" stroke-width="2"/>
<line x1="177" y1="540.4" x2="177" y2="551" stroke="#a8a8a8" stroke-width="2"/>
<rect x="170.5" y="497.6" width="13" height="42.8" fill="none" stroke="#a8a8a8" stroke-width="2"/>
<rect x="175.6" y="415.2" width="3.5" height="3.5" fill="#000"/>
<rect x="175.6" y="444.6" width="3.5" height="3.5" fill="#000"/>
<rect x="175.6" y="492.6" width="3.5" height="3.5" fill="#000"/>
<rect x="172.7" y="499.9" width="3.5" height="3.5" fill="#000"/>
<rect x="177.8" y="501.4" width="3.5" height="3.5" fill="#000"/>
<rect x="175.2" y="518.9" width="3.5" height="3.5" fill="#000"/>
<rect x="172.7" y="522.6" width="3.5" height="3.5" fill="#000"/>
<rect x="177.8" y="525.4" width="3.5" height="3.5" fill="#000"/>
<rect x="177.8" y="533.1" width="3.5" height="3.5" fill="#000"/>
<rect x="172.7" y="535.9" width="3.5" height="3.5" fill="#000"/>
<rect x="175.6" y="542.5" width="3.5" height="3.5" fill="#000"/>
<rect x="177.8" y="545.9" width="3.5" height="3.5" fill="#000"/>
<rect x="172.7" y="549.6" width="3.5" height="3.5" fill="#000"/>
<line x1="195.3" y1="545.3" x2="195.3" y2="549.9" stroke="#a8a8a8" stroke-width="2"/>
<line x1="195.3" y1="563.8" x2="195.3" y2="564.7" stroke="#a8a8a8" stroke-width="2"/>
<rect x="188.8" y="549.9" width="13" height="14" fill="none" stroke="#a8a8a8" stroke-width="2"/>
<line x1="188.8" y1="559" x2="201.8" y2="559" stroke="#a8a8a8" stroke-width="2"/>
<rect x="193.6" y="543.5" width="3.5" height="3.5" fill="#000"/>
<rect x="189.6" y="547.8" width="3.5" height="3.5" fill="#000"/>
<rect x="196.6" y="547" width="3.5" height="3.5" fill="#000"/>
<rect x="191.6" y="549.8" width="3.5" height="3.5" fill="#000"/>
<rect x="197.6" y="551.5" width="3.5" height="3.5" fill="#000"/>
<rect x="188.6" y="553.5" width="3.5" height="3.5" fill="#000"/>
<rect x="193.6" y="554.4" width="3.5" height="3.5" fill="#000"/>
<rect x="198.6" y="555.5" width="3.5" height="3.5" fill="#000"/>
<rect x="190.6" y="557.2" width="3.5" height="3.5" fill="#000"/>
<rect x="196.6" y="558.4" width="3.5" height="3.5" fill="#000"/>
<rect x="192.6" y="559.5" width="3.5" height="3.5" fill="#000"/>
<rect x="195.6" y="560.7" width="3.5" height="3.5" fill="#000"/>
<rect x="191.6" y="561.5" width="3.5" height="3.5" fill="#000"/>
<rect x="193.6" y="562.4" width="3.5" height="3.5" fill="#000"/>
<rect x="194.6" y="562.8" width="3.5" height="3.5" fill="#000"/>
<line x1="226.1" y1="561.8" x2="226.1" y2="562.4" stroke="#959595" stroke-width="2"/>
<line x1="226.1" y1="564.6" x2="226.1" y2="564.7" stroke="#959595" stroke-width="2"/>
<rect x="220.1" y="562.4" width="12" height="2.1" fill="none" stroke="#959595" stroke-width="2"/>
<line x1="220.1" y1="563.8" x2="232.1" y2="563.8" stroke="#959595" stroke-width="2"/>
<polygon points="220.4,562 223.8,562 222.1,565.1" fill="#000"/>
<polygon points="224.4,561.5 227.8,561.5 226.1,564.5" fill="#000"/>
<polygon points="228.4,562.3 231.8,562.3 230.1,565.4" fill="#000"/>
<polygon points="222.4,562.9 225.8,562.9 224.1,565.9" fill="#000"/>
<polygon points="226.4,562.9 229.8,562.9 228.1,565.9" fill="#000"/>
<line x1="244.4" y1="558.4" x2="244.4" y2="559" stroke="#959595" stroke-width="2"/>
<line x1="244.4" y1="564.1" x2="244.4" y2="564.7" stroke="#959595" stroke-width="2"/>
<rect x="238.4" y="559" width="12" height="5.1" fill="none" stroke="#959595" stroke-width="2"/>
<line x1="238.4" y1="561.8" x2="250.4" y2="561.8" stroke="#959595" stroke-width="2"/>
<polygon points="238.7,557.7 242.1,557.7 240.4,560.8" fill="#000"/>
<polygon points="242.7,557.5 246.1,557.5 244.4,560.5" fill="#000"/>
<polygon points="246.7,558 250.1,558 248.4,561.1" fill="#000"/>
<polygon points="240.7,561.5 244.1,561.5 242.4,564.5" fill="#000"/>
<polygon points="244.7,562.3 248.1,562.3 246.4,565.4" fill="#000"/>
<line x1="262.7" y1="517" x2="262.7" y2="527" stroke="#959595" stroke-width="2"/>
<line x1="262.7" y1="564.4" x2="262.7" y2="564.7" stroke="#959595" stroke-width="2"/>
<rect x="256.2" y="527" width="13" height="37.4" fill="none" stroke="#959595" stroke-width="2"/>
<line x1="256.2" y1="560.4" x2="269.2" y2="560.4" stroke="#959595" stroke-width="2"/>
<polygon points="261,515.5 264.4,515.5 262.7,518.6" fill="#000"/>
<polygon points="258,524.9 261.4,524.9 259.7,528" fill="#000"/>
<polygon points="264,526.1 267.4,526.1 265.7,529.1" fill="#000"/>
<polygon points="261,551.8 264.4,551.8 262.7,554.8" fill="#000"/>
<polygon points="258,558.9 261.4,558.9 259.7,561.9" fill="#000"/>
<polygon points="264,560.3 267.4,560.3 265.7,563.4" fill="#000"/>
<polygon points="261,562.3 264.4,562.3 262.7,565.4" fill="#000"/>
<line x1="281" y1="544.1" x2="281" y2="559.8" stroke="#959595" stroke-width="2"/>
<line x1="281" y1="564.4" x2="281" y2="564.7" stroke="#959595" stroke-width="2"/>
<rect x="274.5" y="559.8" width="13" height="4.6" fill="none" stroke="#959595" stroke-width="2"/>
<line x1="274.5" y1="563" x2="287.5" y2="563" stroke="#959595" stroke-width="2"/>
<polygon points="279.3,542.6 282.7,542.6 281,545.7" fill="#000"/>
<polygon points="276.3,558.9 279.7,558.9 278,561.9" fill="#000"/>
<polygon points="282.3,560 285.7,560 284,563.1" fill="#000"/>
<polygon points="279.3,562.3 282.7,562.3 281,565.4" fill="#000"/>
<line x1="40" y1="564.7" x2="296.5" y2="564.7" stroke="#000" stroke-width="2"/>
<line x1="54.2" y1="564.7" x2="54.2" y2="568.9" stroke="#000" stroke-width="1.3"/>
<line x1="72.7" y1="564.7" x2="72.7" y2="568.9" stroke="#000" stroke-width="1.3"/>
<line x1="91.2" y1="564.7" x2="91.2" y2="568.9" stroke="#000" stroke-width="1.3"/>
<line x1="109.7" y1="564.7" x2="109.7" y2="568.9" stroke="#000" stroke-width="1.3"/>
<line x1="140.4" y1="564.7" x2="140.4" y2="568.9" stroke="#000" stroke-width="1.3"/>
<line x1="158.7" y1="564.7" x2="158.7" y2="568.9" stroke="#000" stroke-width="1.3"/>
<line x1="177" y1="564.7" x2="177" y2="568.9" stroke="#000" stroke-width="1.3"/>
<line x1="195.3" y1="564.7" x2="195.3" y2="568.9" stroke="#000" stroke-width="1.3"/>
<line x1="226.1" y1="564.7" x2="226.1" y2="568.9" stroke="#000" stroke-width="1.3"/>
<line x1="244.4" y1="564.7" x2="244.4" y2="568.9" stroke="#000" stroke-width="1.3"/>
<line x1="262.7" y1="564.7" x2="262.7" y2="568.9" stroke="#000" stroke-width="1.3"/>
<line x1="281" y1="564.7" x2="281" y2="568.9" stroke="#000" stroke-width="1.3"/>
<text transform="translate(58.7,571) rotate(-90)" font-size="12.5" font-weight="normal" text-anchor="end" fill="#000" textLength="29.6" lengthAdjust="spacingAndGlyphs" stroke="#000" stroke-width="0.35">Liver</text>
<text transform="translate(77.2,571) rotate(-90)" font-size="12.5" font-weight="normal" text-anchor="end" fill="#000" textLength="30.5" lengthAdjust="spacingAndGlyphs" stroke="#000" stroke-width="0.35">Lung</text>
<text transform="translate(95.7,571) rotate(-90)" font-size="12.5" font-weight="normal" text-anchor="end" fill="#000" textLength="40.9" lengthAdjust="spacingAndGlyphs" stroke="#000" stroke-width="0.35">Spleen</text>
<text transform="translate(114.2,571) rotate(-90)" font-size="12.5" font-weight="normal" text-anchor="end" fill="#000" textLength="18.5" lengthAdjust="spacingAndGlyphs" stroke="#000" stroke-width="0.35">BM</text>
<text transform="translate(144.9,571) rotate(-90)" font-size="12.5" font-weight="normal" text-anchor="end" fill="#000" textLength="29.6" lengthAdjust="spacingAndGlyphs" stroke="#000" stroke-width="0.35">Liver</text>
<text transform="translate(163.2,571) rotate(-90)" font-size="12.5" font-weight="normal" text-anchor="end" fill="#000" textLength="30.5" lengthAdjust="spacingAndGlyphs" stroke="#000" stroke-width="0.35">Lung</text>
<text transform="translate(181.5,571) rotate(-90)" font-size="12.5" font-weight="normal" text-anchor="end" fill="#000" textLength="40.9" lengthAdjust="spacingAndGlyphs" stroke="#000" stroke-width="0.35">Spleen</text>
<text transform="translate(199.8,571) rotate(-90)" font-size="12.5" font-weight="normal" text-anchor="end" fill="#000" textLength="18.5" lengthAdjust="spacingAndGlyphs" stroke="#000" stroke-width="0.35">BM</text>
<text transform="translate(230.6,571) rotate(-90)" font-size="12.5" font-weight="normal" text-anchor="end" fill="#000" textLength="29.6" lengthAdjust="spacingAndGlyphs" stroke="#000" stroke-width="0.35">Liver</text>
<text transform="translate(248.9,571) rotate(-90)" font-size="12.5" font-weight="normal" text-anchor="end" fill="#000" textLength="30.5" lengthAdjust="spacingAndGlyphs" stroke="#000" stroke-width="0.35">Lung</text>
<text transform="translate(267.2,571) rotate(-90)" font-size="12.5" font-weight="normal" text-anchor="end" fill="#000" textLength="40.9" lengthAdjust="spacingAndGlyphs" stroke="#000" stroke-width="0.35">Spleen</text>
<text transform="translate(285.5,571) rotate(-90)" font-size="12.5" font-weight="normal" text-anchor="end" fill="#000" textLength="18.5" lengthAdjust="spacingAndGlyphs" stroke="#000" stroke-width="0.35">BM</text>
<rect x="481.7" y="339" width="93.1" height="224.2" fill="#f2f2f2"/>
<text x="443.6" y="362.2" font-size="11.5" font-weight="bold" text-anchor="middle" fill="#333" textLength="38.8" lengthAdjust="spacingAndGlyphs">Control</text>
<text x="531.7" y="361.2" font-size="11.5" font-weight="bold" text-anchor="middle" fill="#111" textLength="32.1" lengthAdjust="spacingAndGlyphs">NK-92</text>
<text x="620.8" y="362" font-size="11.5" font-weight="bold" text-anchor="middle" fill="#333" textLength="70.4" lengthAdjust="spacingAndGlyphs">NK-92/5.28.z</text>
<line x1="400.2" y1="564.2" x2="400.2" y2="391.5" stroke="#000" stroke-width="2"/>
<line x1="395.7" y1="563.2" x2="400.2" y2="563.2" stroke="#000" stroke-width="1.5"/>
<text x="392.8" y="567.5" font-size="12" font-weight="bold" text-anchor="end" fill="#000">0</text>
<line x1="395.7" y1="506" x2="400.2" y2="506" stroke="#000" stroke-width="1.5"/>
<text x="392.8" y="510.3" font-size="12" font-weight="bold" text-anchor="end" fill="#000">10</text>
<line x1="395.7" y1="448.8" x2="400.2" y2="448.8" stroke="#000" stroke-width="1.5"/>
<text x="392.8" y="453.1" font-size="12" font-weight="bold" text-anchor="end" fill="#000">20</text>
<line x1="395.7" y1="391.6" x2="400.2" y2="391.6" stroke="#000" stroke-width="1.5"/>
<text x="392.8" y="395.9" font-size="12" font-weight="bold" text-anchor="end" fill="#000">30</text>
<text transform="translate(370.3,479) rotate(-90)" font-size="12.5" font-weight="normal" text-anchor="middle" fill="#000" textLength="60" lengthAdjust="spacingAndGlyphs" stroke="#000" stroke-width="0.45">CAR [%]</text>
<circle cx="411.5" cy="563.2" r="1.6" fill="#000"/>
<circle cx="415.5" cy="563.2" r="1.6" fill="#000"/>
<circle cx="419.5" cy="563.2" r="1.6" fill="#000"/>
<circle cx="429.8" cy="563.2" r="1.6" fill="#000"/>
<circle cx="433.8" cy="563.2" r="1.6" fill="#000"/>
<circle cx="437.8" cy="563.2" r="1.6" fill="#000"/>
<circle cx="448.1" cy="563.2" r="1.6" fill="#000"/>
<circle cx="452.1" cy="563.2" r="1.6" fill="#000"/>
<circle cx="456.1" cy="563.2" r="1.6" fill="#000"/>
<circle cx="466.4" cy="563.2" r="1.6" fill="#000"/>
<circle cx="470.4" cy="563.2" r="1.6" fill="#000"/>
<circle cx="474.4" cy="563.2" r="1.6" fill="#000"/>
<circle cx="497.3" cy="563.2" r="1.6" fill="#000"/>
<circle cx="501.3" cy="563.2" r="1.6" fill="#000"/>
<circle cx="505.3" cy="563.2" r="1.6" fill="#000"/>
<circle cx="515.6" cy="563.2" r="1.6" fill="#000"/>
<circle cx="519.6" cy="563.2" r="1.6" fill="#000"/>
<circle cx="523.6" cy="563.2" r="1.6" fill="#000"/>
<circle cx="533.9" cy="563.2" r="1.6" fill="#000"/>
<circle cx="537.9" cy="563.2" r="1.6" fill="#000"/>
<circle cx="541.9" cy="563.2" r="1.6" fill="#000"/>
<circle cx="552.2" cy="563.2" r="1.6" fill="#000"/>
<circle cx="556.2" cy="563.2" r="1.6" fill="#000"/>
<circle cx="560.2" cy="563.2" r="1.6" fill="#000"/>
<circle cx="638.4" cy="563.2" r="1.6" fill="#000"/>
<circle cx="642.4" cy="563.2" r="1.6" fill="#000"/>
<circle cx="646.4" cy="563.2" r="1.6" fill="#000"/>
<line x1="587.5" y1="529.5" x2="587.5" y2="556.3" stroke="#888" stroke-width="2"/>
<line x1="587.5" y1="562.9" x2="587.5" y2="563.2" stroke="#888" stroke-width="2"/>
<rect x="581.2" y="556.3" width="12.5" height="6.6" fill="none" stroke="#888" stroke-width="2"/>
<line x1="581.2" y1="561.5" x2="593.8" y2="561.5" stroke="#888" stroke-width="2"/>
<polygon points="585.2,527.4 589.8,527.4 587.5,531.5" fill="#000"/>
<polygon points="582.2,553.7 586.8,553.7 584.5,557.8" fill="#000"/>
<polygon points="588.2,557.7 592.8,557.7 590.5,561.8" fill="#000"/>
<polygon points="585.2,560 589.8,560 587.5,564.1" fill="#000"/>
<line x1="605.8" y1="538" x2="605.8" y2="553.2" stroke="#888" stroke-width="2"/>
<line x1="605.8" y1="562.9" x2="605.8" y2="563.2" stroke="#888" stroke-width="2"/>
<rect x="599.3" y="553.2" width="13" height="9.7" fill="none" stroke="#888" stroke-width="2"/>
<line x1="599.3" y1="560.9" x2="612.3" y2="560.9" stroke="#888" stroke-width="2"/>
<polygon points="603.5,536 608.1,536 605.8,540.1" fill="#000"/>
<polygon points="600.5,552 605.1,552 602.8,556.1" fill="#000"/>
<polygon points="606.5,558.3 611.1,558.3 608.8,562.4" fill="#000"/>
<polygon points="603.5,560 608.1,560 605.8,564.1" fill="#000"/>
<line x1="624.1" y1="427.6" x2="624.1" y2="555.2" stroke="#888" stroke-width="2"/>
<line x1="624.1" y1="562.9" x2="624.1" y2="563.2" stroke="#888" stroke-width="2"/>
<rect x="617.4" y="555.2" width="13.5" height="7.7" fill="none" stroke="#888" stroke-width="2"/>
<line x1="617.4" y1="561.5" x2="630.9" y2="561.5" stroke="#888" stroke-width="2"/>
<polygon points="621.8,425.6 626.4,425.6 624.1,429.7" fill="#000"/>
<polygon points="621.8,552.5 626.4,552.5 624.1,556.7" fill="#000"/>
<polygon points="621.8,559.4 626.4,559.4 624.1,563.6" fill="#000"/>
<line x1="400.2" y1="563.2" x2="659" y2="563.2" stroke="#000" stroke-width="2"/>
<line x1="415.5" y1="563.2" x2="415.5" y2="568.2" stroke="#000" stroke-width="1.3"/>
<line x1="433.8" y1="563.2" x2="433.8" y2="568.2" stroke="#000" stroke-width="1.3"/>
<line x1="452.1" y1="563.2" x2="452.1" y2="568.2" stroke="#000" stroke-width="1.3"/>
<line x1="470.4" y1="563.2" x2="470.4" y2="568.2" stroke="#000" stroke-width="1.3"/>
<line x1="501.3" y1="563.2" x2="501.3" y2="568.2" stroke="#000" stroke-width="1.3"/>
<line x1="519.6" y1="563.2" x2="519.6" y2="568.2" stroke="#000" stroke-width="1.3"/>
<line x1="537.9" y1="563.2" x2="537.9" y2="568.2" stroke="#000" stroke-width="1.3"/>
<line x1="556.2" y1="563.2" x2="556.2" y2="568.2" stroke="#000" stroke-width="1.3"/>
<line x1="587.5" y1="563.2" x2="587.5" y2="568.2" stroke="#000" stroke-width="1.3"/>
<line x1="605.8" y1="563.2" x2="605.8" y2="568.2" stroke="#000" stroke-width="1.3"/>
<line x1="624.1" y1="563.2" x2="624.1" y2="568.2" stroke="#000" stroke-width="1.3"/>
<line x1="642.4" y1="563.2" x2="642.4" y2="568.2" stroke="#000" stroke-width="1.3"/>
<text transform="translate(420,569.5) rotate(-90)" font-size="12.5" font-weight="bold" text-anchor="end" fill="#000" textLength="31.8" lengthAdjust="spacingAndGlyphs" stroke="#000" stroke-width="0.1">Liver</text>
<text transform="translate(438.3,569.5) rotate(-90)" font-size="12.5" font-weight="bold" text-anchor="end" fill="#000" textLength="30.5" lengthAdjust="spacingAndGlyphs" stroke="#000" stroke-width="0.1">Lung</text>
<text transform="translate(456.6,569.5) rotate(-90)" font-size="12.5" font-weight="bold" text-anchor="end" fill="#000" textLength="42.4" lengthAdjust="spacingAndGlyphs" stroke="#000" stroke-width="0.1">Spleen</text>
<text transform="translate(474.9,569.5) rotate(-90)" font-size="12.5" font-weight="bold" text-anchor="end" fill="#000" textLength="18.9" lengthAdjust="spacingAndGlyphs" stroke="#000" stroke-width="0.1">BM</text>
<text transform="translate(505.8,569.5) rotate(-90)" font-size="12.5" font-weight="bold" text-anchor="end" fill="#000" textLength="31.8" lengthAdjust="spacingAndGlyphs" stroke="#000" stroke-width="0.1">Liver</text>
<text transform="translate(524.1,569.5) rotate(-90)" font-size="12.5" font-weight="bold" text-anchor="end" fill="#000" textLength="30.5" lengthAdjust="spacingAndGlyphs" stroke="#000" stroke-width="0.1">Lung</text>
<text transform="translate(542.4,569.5) rotate(-90)" font-size="12.5" font-weight="bold" text-anchor="end" fill="#000" textLength="42.4" lengthAdjust="spacingAndGlyphs" stroke="#000" stroke-width="0.1">Spleen</text>
<text transform="translate(560.7,569.5) rotate(-90)" font-size="12.5" font-weight="bold" text-anchor="end" fill="#000" textLength="18.9" lengthAdjust="spacingAndGlyphs" stroke="#000" stroke-width="0.1">BM</text>
<text transform="translate(592,569.5) rotate(-90)" font-size="12.5" font-weight="bold" text-anchor="end" fill="#000" textLength="31.8" lengthAdjust="spacingAndGlyphs" stroke="#000" stroke-width="0.1">Liver</text>
<text transform="translate(610.3,569.5) rotate(-90)" font-size="12.5" font-weight="bold" text-anchor="end" fill="#000" textLength="30.5" lengthAdjust="spacingAndGlyphs" stroke="#000" stroke-width="0.1">Lung</text>
<text transform="translate(628.6,569.5) rotate(-90)" font-size="12.5" font-weight="bold" text-anchor="end" fill="#000" textLength="42.4" lengthAdjust="spacingAndGlyphs" stroke="#000" stroke-width="0.1">Spleen</text>
<text transform="translate(646.9,569.5) rotate(-90)" font-size="12.5" font-weight="bold" text-anchor="end" fill="#000" textLength="18.9" lengthAdjust="spacingAndGlyphs" stroke="#000" stroke-width="0.1">BM</text>
<rect x="130" y="672.5" width="76.5" height="223.6" fill="#f2f2f2"/>
<text x="82.9" y="695" font-size="11.5" font-weight="bold" text-anchor="middle" fill="#333" textLength="39.1" lengthAdjust="spacingAndGlyphs">Control</text>
<text x="169.5" y="695" font-size="11.5" font-weight="bold" text-anchor="middle" fill="#333" textLength="32.5" lengthAdjust="spacingAndGlyphs">NK-92</text>
<text x="259.6" y="695" font-size="11.5" font-weight="bold" text-anchor="middle" fill="#333" textLength="70.3" lengthAdjust="spacingAndGlyphs">NK-92/5.28.z</text>
<line x1="41" y1="897.1" x2="41" y2="725.4" stroke="#000" stroke-width="2"/>
<line x1="36.5" y1="896.1" x2="41" y2="896.1" stroke="#000" stroke-width="1.5"/>
<text x="34" y="900.4" font-size="12" font-weight="bold" text-anchor="end" fill="#000">0</text>
<line x1="36.5" y1="839.1" x2="41" y2="839.1" stroke="#000" stroke-width="1.5"/>
<text x="34" y="843.4" font-size="12" font-weight="bold" text-anchor="end" fill="#000">20</text>
<line x1="36.5" y1="782.1" x2="41" y2="782.1" stroke="#000" stroke-width="1.5"/>
<text x="34" y="786.4" font-size="12" font-weight="bold" text-anchor="end" fill="#000">40</text>
<line x1="36.5" y1="725.1" x2="41" y2="725.1" stroke="#000" stroke-width="1.5"/>
<text x="34" y="729.4" font-size="12" font-weight="bold" text-anchor="end" fill="#000">60</text>
<text transform="translate(11.6,810.5) rotate(-90)" font-size="12.5" font-weight="normal" text-anchor="middle" fill="#000" textLength="58.6" lengthAdjust="spacingAndGlyphs" stroke="#000" stroke-width="0.45">RH30[%]</text>
<line x1="60.8" y1="751.3" x2="60.8" y2="769.6" stroke="#6e6e6e" stroke-width="2"/>
<line x1="60.8" y1="895.2" x2="60.8" y2="896.1" stroke="#6e6e6e" stroke-width="2"/>
<rect x="52.6" y="769.6" width="16.4" height="125.7" fill="none" stroke="#6e6e6e" stroke-width="2"/>
<line x1="52.6" y1="888.1" x2="69" y2="888.1" stroke="#6e6e6e" stroke-width="2"/>
<line x1="57.3" y1="751.3" x2="64.3" y2="751.3" stroke="#000" stroke-width="2"/>
<circle cx="60.8" cy="789.2" r="1.4" fill="#000"/>
<circle cx="60.8" cy="888.1" r="1.4" fill="#000"/>
<circle cx="63.3" cy="894.7" r="1.4" fill="#000"/>
<circle cx="58.3" cy="895.2" r="1.4" fill="#000"/>
<line x1="84.1" y1="885" x2="84.1" y2="887" stroke="#6e6e6e" stroke-width="2"/>
<line x1="84.1" y1="895.8" x2="84.1" y2="896.1" stroke="#6e6e6e" stroke-width="2"/>
<rect x="76.1" y="887" width="16" height="8.8" fill="none" stroke="#6e6e6e" stroke-width="2"/>
<circle cx="84.1" cy="885" r="1.4" fill="#000"/>
<circle cx="79.1" cy="895.5" r="1.4" fill="#000"/>
<circle cx="84.1" cy="895.8" r="1.4" fill="#000"/>
<circle cx="89.1" cy="895.5" r="1.4" fill="#000"/>
<circle cx="104.4" cy="895.5" r="1.3" fill="#000"/>
<circle cx="107.4" cy="895.5" r="1.3" fill="#000"/>
<circle cx="110.4" cy="895.5" r="1.3" fill="#000"/>
<line x1="101.4" y1="895.2" x2="113.4" y2="895.2" stroke="#6e6e6e" stroke-width="1.5"/>
<line x1="146.3" y1="812.6" x2="146.3" y2="876.1" stroke="#b0b0b0" stroke-width="2"/>
<line x1="146.3" y1="895.5" x2="146.3" y2="896.1" stroke="#b0b0b0" stroke-width="2"/>
<rect x="137.7" y="876.1" width="17.3" height="19.4" fill="none" stroke="#b0b0b0" stroke-width="2"/>
<rect x="144.6" y="810.8" width="3.5" height="3.5" fill="#000"/>
<rect x="144.6" y="847.9" width="3.5" height="3.5" fill="#000"/>
<rect x="144.6" y="870.7" width="3.5" height="3.5" fill="#000"/>
<rect x="143.6" y="880.1" width="3.5" height="3.5" fill="#000"/>
<rect x="139.6" y="883" width="3.5" height="3.5" fill="#000"/>
<rect x="149.6" y="883" width="3.5" height="3.5" fill="#000"/>
<rect x="142.6" y="885.8" width="3.5" height="3.5" fill="#000"/>
<rect x="146.6" y="886.4" width="3.5" height="3.5" fill="#000"/>
<rect x="139.6" y="888.6" width="3.5" height="3.5" fill="#000"/>
<rect x="144.6" y="889.2" width="3.5" height="3.5" fill="#000"/>
<rect x="149.6" y="890.1" width="3.5" height="3.5" fill="#000"/>
<rect x="139.6" y="892.1" width="3.5" height="3.5" fill="#000"/>
<rect x="146.6" y="892.6" width="3.5" height="3.5" fill="#000"/>
<rect x="142.6" y="893.5" width="3.5" height="3.5" fill="#000"/>
<rect x="146.6" y="894.1" width="3.5" height="3.5" fill="#000"/>
<line x1="169.6" y1="875.9" x2="169.6" y2="885.3" stroke="#b0b0b0" stroke-width="2"/>
<line x1="169.6" y1="895.5" x2="169.6" y2="896.1" stroke="#b0b0b0" stroke-width="2"/>
<rect x="161.4" y="885.3" width="16.5" height="10.3" fill="none" stroke="#b0b0b0" stroke-width="2"/>
<rect x="171.9" y="874.1" width="3.5" height="3.5" fill="#000"/>
<rect x="164.9" y="879.2" width="3.5" height="3.5" fill="#000"/>
<rect x="162.9" y="885.8" width="3.5" height="3.5" fill="#000"/>
<rect x="167.9" y="885.8" width="3.5" height="3.5" fill="#000"/>
<rect x="172.9" y="887.2" width="3.5" height="3.5" fill="#000"/>
<rect x="162.9" y="890.9" width="3.5" height="3.5" fill="#000"/>
<rect x="167.9" y="891.5" width="3.5" height="3.5" fill="#000"/>
<rect x="170.9" y="892.6" width="3.5" height="3.5" fill="#000"/>
<rect x="164.9" y="893.8" width="3.5" height="3.5" fill="#000"/>
<rect x="168.9" y="894.1" width="3.5" height="3.5" fill="#000"/>
<line x1="192.9" y1="877.9" x2="192.9" y2="888.4" stroke="#b0b0b0" stroke-width="2"/>
<line x1="192.9" y1="895.8" x2="192.9" y2="896.1" stroke="#b0b0b0" stroke-width="2"/>
<rect x="184.4" y="888.4" width="17" height="7.4" fill="none" stroke="#b0b0b0" stroke-width="2"/>
<rect x="191.2" y="876.1" width="3.5" height="3.5" fill="#000"/>
<rect x="189.2" y="886.4" width="3.5" height="3.5" fill="#000"/>
<rect x="187.2" y="888.6" width="3.5" height="3.5" fill="#000"/>
<rect x="194.2" y="889.8" width="3.5" height="3.5" fill="#000"/>
<rect x="191.2" y="891.5" width="3.5" height="3.5" fill="#000"/>
<rect x="188.2" y="892.6" width="3.5" height="3.5" fill="#000"/>
<rect x="194.2" y="893.5" width="3.5" height="3.5" fill="#000"/>
<rect x="191.2" y="894.1" width="3.5" height="3.5" fill="#000"/>
<line x1="231.8" y1="851.6" x2="231.8" y2="875" stroke="#8a8a8a" stroke-width="2.4"/>
<line x1="231.8" y1="895.8" x2="231.8" y2="896.1" stroke="#8a8a8a" stroke-width="2.4"/>
<rect x="223.6" y="875" width="16.5" height="20.8" fill="none" stroke="#8a8a8a" stroke-width="2.4"/>
<polygon points="229.1,849.2 234.6,849.2 231.8,854.1" fill="#000"/>
<polygon points="225.6,878.7 230,878.7 227.8,874.7" fill="#000"/>
<polygon points="233.6,876.7 238,876.7 235.8,872.7" fill="#000"/>
<polygon points="229.6,881 234,881 231.8,877" fill="#000"/>
<polygon points="231.6,891 236,891 233.8,887" fill="#000"/>
<polygon points="227.6,895.8 232,895.8 229.8,891.8" fill="#000"/>
<polygon points="232.6,896.7 237,896.7 234.8,892.7" fill="#000"/>
<line x1="255.1" y1="843.7" x2="255.1" y2="882.4" stroke="#8a8a8a" stroke-width="2.4"/>
<line x1="255.1" y1="895.8" x2="255.1" y2="896.1" stroke="#8a8a8a" stroke-width="2.4"/>
<rect x="246.6" y="882.4" width="17" height="13.4" fill="none" stroke="#8a8a8a" stroke-width="2.4"/>
<polygon points="252.4,841.2 257.9,841.2 255.1,846.1" fill="#000"/>
<polygon points="250.9,883.8 255.3,883.8 253.1,879.9" fill="#000"/>
<polygon points="254.9,885.3 259.3,885.3 257.1,881.3" fill="#000"/>
<polygon points="248.9,894.7 253.3,894.7 251.1,890.7" fill="#000"/>
<polygon points="252.9,896.4 257.3,896.4 255.1,892.4" fill="#000"/>
<polygon points="256.9,895.8 261.3,895.8 259.1,891.8" fill="#000"/>
<line x1="278.4" y1="886.1" x2="278.4" y2="891" stroke="#8a8a8a" stroke-width="2.4"/>
<line x1="278.4" y1="895.8" x2="278.4" y2="896.1" stroke="#8a8a8a" stroke-width="2.4"/>
<rect x="269.8" y="891" width="17.3" height="4.8" fill="#bdbdbd" stroke="#8a8a8a" stroke-width="2.4"/>
<polygon points="275.4,887.9 279.4,887.9 277.4,884.3" fill="#000"/>
<polygon points="278.4,888.8 282.4,888.8 280.4,885.2" fill="#000"/>
<polygon points="271.4,895 275.4,895 273.4,891.5" fill="#000"/>
<polygon points="274.4,895.6 278.4,895.6 276.4,892" fill="#000"/>
<polygon points="278.4,895.3 282.4,895.3 280.4,891.7" fill="#000"/>
<polygon points="281.4,895.3 285.4,895.3 283.4,891.7" fill="#000"/>
<polygon points="276.4,897 280.4,897 278.4,893.4" fill="#000"/>
<line x1="41" y1="896.1" x2="298.8" y2="896.1" stroke="#000" stroke-width="2"/>
<line x1="60.8" y1="896.1" x2="60.8" y2="901.1" stroke="#000" stroke-width="1.3"/>
<line x1="84.1" y1="896.1" x2="84.1" y2="901.1" stroke="#000" stroke-width="1.3"/>
<line x1="107.4" y1="896.1" x2="107.4" y2="901.1" stroke="#000" stroke-width="1.3"/>
<line x1="146.3" y1="896.1" x2="146.3" y2="901.1" stroke="#000" stroke-width="1.3"/>
<line x1="169.6" y1="896.1" x2="169.6" y2="901.1" stroke="#000" stroke-width="1.3"/>
<line x1="192.9" y1="896.1" x2="192.9" y2="901.1" stroke="#000" stroke-width="1.3"/>
<line x1="231.8" y1="896.1" x2="231.8" y2="901.1" stroke="#000" stroke-width="1.3"/>
<line x1="255.1" y1="896.1" x2="255.1" y2="901.1" stroke="#000" stroke-width="1.3"/>
<line x1="278.4" y1="896.1" x2="278.4" y2="901.1" stroke="#000" stroke-width="1.3"/>
<text transform="translate(65.3,902.7) rotate(-90)" font-size="12.5" font-weight="normal" text-anchor="end" fill="#000" textLength="29.8" lengthAdjust="spacingAndGlyphs" stroke="#000" stroke-width="0.35">Liver</text>
<text transform="translate(88.6,902.7) rotate(-90)" font-size="12.5" font-weight="normal" text-anchor="end" fill="#000" textLength="30.4" lengthAdjust="spacingAndGlyphs" stroke="#000" stroke-width="0.35">Lung</text>
<text transform="translate(111.9,902.7) rotate(-90)" font-size="12.5" font-weight="normal" text-anchor="end" fill="#000" textLength="18.9" lengthAdjust="spacingAndGlyphs" stroke="#000" stroke-width="0.35">BM</text>
<text transform="translate(150.8,902.7) rotate(-90)" font-size="12.5" font-weight="normal" text-anchor="end" fill="#000" textLength="29.8" lengthAdjust="spacingAndGlyphs" stroke="#000" stroke-width="0.35">Liver</text>
<text transform="translate(174.1,902.7) rotate(-90)" font-size="12.5" font-weight="normal" text-anchor="end" fill="#000" textLength="30.4" lengthAdjust="spacingAndGlyphs" stroke="#000" stroke-width="0.35">Lung</text>
<text transform="translate(197.4,902.7) rotate(-90)" font-size="12.5" font-weight="normal" text-anchor="end" fill="#000" textLength="18.9" lengthAdjust="spacingAndGlyphs" stroke="#000" stroke-width="0.35">BM</text>
<text transform="translate(236.3,902.7) rotate(-90)" font-size="12.5" font-weight="normal" text-anchor="end" fill="#000" textLength="29.8" lengthAdjust="spacingAndGlyphs" stroke="#000" stroke-width="0.35">Liver</text>
<text transform="translate(259.6,902.7) rotate(-90)" font-size="12.5" font-weight="normal" text-anchor="end" fill="#000" textLength="30.4" lengthAdjust="spacingAndGlyphs" stroke="#000" stroke-width="0.35">Lung</text>
<text transform="translate(282.9,902.7) rotate(-90)" font-size="12.5" font-weight="normal" text-anchor="end" fill="#000" textLength="18.9" lengthAdjust="spacingAndGlyphs" stroke="#000" stroke-width="0.35">BM</text>
<rect x="492.5" y="670.6" width="77.5" height="224.4" fill="#f2f2f2"/>
<line x1="402.7" y1="896" x2="402.7" y2="725.6" stroke="#000" stroke-width="2"/>
<line x1="398.2" y1="895" x2="402.7" y2="895" stroke="#000" stroke-width="1.5"/>
<text x="396" y="899.3" font-size="12" font-weight="bold" text-anchor="end" fill="#000">0</text>
<line x1="398.2" y1="838.6" x2="402.7" y2="838.6" stroke="#000" stroke-width="1.5"/>
<text x="396" y="842.9" font-size="12" font-weight="bold" text-anchor="end" fill="#000">20</text>
<line x1="398.2" y1="782.2" x2="402.7" y2="782.2" stroke="#000" stroke-width="1.5"/>
<text x="396" y="786.5" font-size="12" font-weight="bold" text-anchor="end" fill="#000">40</text>
<line x1="398.2" y1="725.8" x2="402.7" y2="725.8" stroke="#000" stroke-width="1.5"/>
<text x="396" y="730.1" font-size="12" font-weight="bold" text-anchor="end" fill="#000">60</text>
<text transform="translate(372.5,809.6) rotate(-90)" font-size="12.5" font-weight="normal" text-anchor="middle" fill="#000" textLength="62.3" lengthAdjust="spacingAndGlyphs" stroke="#000" stroke-width="0.3">RH30 [%]</text>
<line x1="445.2" y1="751.7" x2="445.2" y2="769.2" stroke="#6b6b6b" stroke-width="2"/>
<line x1="445.2" y1="893.3" x2="445.2" y2="893.3" stroke="#6b6b6b" stroke-width="2"/>
<line x1="431.7" y1="751.7" x2="458.7" y2="751.7" stroke="#6b6b6b" stroke-width="2"/>
<line x1="431.7" y1="893.3" x2="458.7" y2="893.3" stroke="#6b6b6b" stroke-width="2"/>
<rect x="416.5" y="769.2" width="57.4" height="124.1" fill="none" stroke="#6b6b6b" stroke-width="2"/>
<line x1="416.5" y1="876.7" x2="473.9" y2="876.7" stroke="#6b6b6b" stroke-width="2"/>
<circle cx="445" cy="751.9" r="1.5" fill="#000"/>
<circle cx="446" cy="788" r="1.5" fill="#000"/>
<circle cx="446" cy="876.3" r="1.5" fill="#000"/>
<circle cx="448" cy="891.2" r="1.5" fill="#000"/>
<circle cx="443.5" cy="893.5" r="1.5" fill="#000"/>
<line x1="529.9" y1="807.6" x2="529.9" y2="857.2" stroke="#6b6b6b" stroke-width="2"/>
<line x1="529.9" y1="876.7" x2="529.9" y2="888" stroke="#6b6b6b" stroke-width="2"/>
<line x1="516.4" y1="807.6" x2="543.4" y2="807.6" stroke="#6b6b6b" stroke-width="2"/>
<line x1="516.4" y1="888" x2="543.4" y2="888" stroke="#6b6b6b" stroke-width="2"/>
<rect x="501.4" y="857.2" width="57" height="19.5" fill="none" stroke="#6b6b6b" stroke-width="2"/>
<line x1="501.4" y1="873.6" x2="558.4" y2="873.6" stroke="#6b6b6b" stroke-width="2"/>
<circle cx="529.7" cy="807.5" r="1.5" fill="#000"/>
<circle cx="529.7" cy="846" r="1.5" fill="#000"/>
<circle cx="529.7" cy="852.7" r="1.5" fill="#000"/>
<circle cx="527.8" cy="860.6" r="1.5" fill="#000"/>
<circle cx="532.9" cy="864.5" r="1.5" fill="#000"/>
<circle cx="521.9" cy="873.2" r="1.5" fill="#000"/>
<circle cx="525.8" cy="874.3" r="1.5" fill="#000"/>
<circle cx="529.7" cy="875.5" r="1.5" fill="#000"/>
<circle cx="533.6" cy="873.5" r="1.5" fill="#000"/>
<circle cx="537.6" cy="873.5" r="1.5" fill="#000"/>
<circle cx="525" cy="876.3" r="1.5" fill="#000"/>
<circle cx="529.7" cy="887" r="1.5" fill="#000"/>
<line x1="615.2" y1="796" x2="615.2" y2="868.5" stroke="#6b6b6b" stroke-width="2"/>
<line x1="615.2" y1="884.8" x2="615.2" y2="889.1" stroke="#6b6b6b" stroke-width="2"/>
<line x1="601.5" y1="796" x2="629" y2="796" stroke="#6b6b6b" stroke-width="2"/>
<line x1="601.5" y1="889.1" x2="629" y2="889.1" stroke="#6b6b6b" stroke-width="2"/>
<rect x="586.7" y="868.5" width="57" height="16.4" fill="none" stroke="#6b6b6b" stroke-width="2"/>
<line x1="586.7" y1="879.8" x2="643.7" y2="879.8" stroke="#6b6b6b" stroke-width="2"/>
<circle cx="615" cy="795.7" r="1.5" fill="#000"/>
<circle cx="615" cy="857.4" r="1.5" fill="#000"/>
<circle cx="612.2" cy="872.4" r="1.5" fill="#000"/>
<circle cx="617.4" cy="872.4" r="1.5" fill="#000"/>
<circle cx="620.1" cy="877.5" r="1.5" fill="#000"/>
<circle cx="608.3" cy="880.2" r="1.5" fill="#000"/>
<circle cx="614.2" cy="882.2" r="1.5" fill="#000"/>
<circle cx="610.3" cy="885.3" r="1.5" fill="#000"/>
<circle cx="620.1" cy="885.3" r="1.5" fill="#000"/>
<circle cx="615" cy="888" r="1.5" fill="#000"/>
<line x1="402.7" y1="895" x2="657.5" y2="895" stroke="#000" stroke-width="2"/>
<line x1="446.4" y1="895" x2="446.4" y2="900.5" stroke="#000" stroke-width="1.3"/>
<line x1="529.7" y1="895" x2="529.7" y2="900.5" stroke="#000" stroke-width="1.3"/>
<line x1="614.6" y1="895" x2="614.6" y2="900.5" stroke="#000" stroke-width="1.3"/>
<text transform="translate(450.8,901.8) rotate(-90)" font-size="12.2" font-weight="bold" text-anchor="end" fill="#000" textLength="43.8" lengthAdjust="spacingAndGlyphs" stroke="#000" stroke-width="0.1">Control</text>
<text transform="translate(534.1,901.8) rotate(-90)" font-size="12.2" font-weight="bold" text-anchor="end" fill="#000" textLength="36" lengthAdjust="spacingAndGlyphs" stroke="#000" stroke-width="0.1">NK-92</text>
<text transform="translate(619,901.8) rotate(-90)" font-size="12.2" font-weight="bold" text-anchor="end" fill="#000" textLength="77" lengthAdjust="spacingAndGlyphs" stroke="#000" stroke-width="0.1">NK-92/5.28.z</text>
</svg>
</body></html>
